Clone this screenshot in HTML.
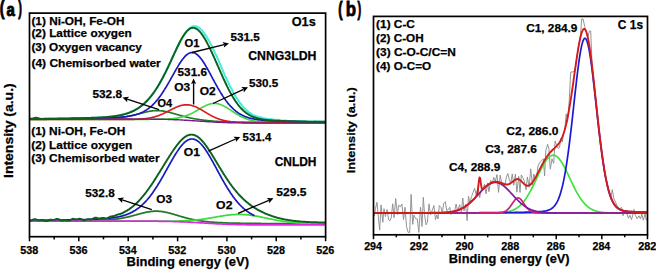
<!DOCTYPE html>
<html><head><meta charset="utf-8"><style>
html,body{margin:0;padding:0;background:#fff;}
svg{display:block;}
text{font-family:"Liberation Sans", sans-serif;font-weight:bold;fill:#000;stroke:#000;stroke-width:0.25px;}
</style></head><body>
<svg width="656" height="270" viewBox="0 0 656 270">
<rect width="656" height="270" fill="#fff"/>
<path d="M29.5,118.8 30.0,118.8 30.5,118.8 31.0,118.8 31.5,118.8 32.0,118.8 32.5,118.8 33.0,118.8 33.5,118.8 34.0,118.8 34.5,118.8 35.0,118.8 35.5,118.8 36.0,118.8 36.5,118.8 37.0,118.8 37.5,118.8 38.0,118.8 38.5,118.8 39.0,118.8 39.5,118.7 40.0,118.7 40.5,118.7 41.0,118.7 41.5,118.7 42.0,118.7 42.5,118.7 43.0,118.7 43.5,118.7 44.0,118.7 44.5,118.7 45.0,118.7 45.5,118.7 46.0,118.7 46.5,118.7 47.0,118.7 47.5,118.7 48.0,118.7 48.5,118.7 49.0,118.7 49.5,118.6 50.0,118.6 50.5,118.6 51.0,118.6 51.5,118.6 52.0,118.6 52.5,118.6 53.0,118.6 53.5,118.6 54.0,118.6 54.5,118.6 55.0,118.6 55.5,118.6 56.0,118.6 56.5,118.6 57.0,118.6 57.5,118.6 58.0,118.5 58.5,118.5 59.0,118.5 59.5,118.5 60.0,118.5 60.5,118.5 61.0,118.5 61.5,118.5 62.0,118.5 62.5,118.5 63.0,118.5 63.5,118.5 64.0,118.5 64.5,118.5 65.0,118.5 65.5,118.4 66.0,118.4 66.5,118.4 67.0,118.4 67.5,118.4 68.0,118.4 68.5,118.4 69.0,118.4 69.5,118.4 70.0,118.4 70.5,118.4 71.0,118.4 71.5,118.3 72.0,118.3 72.5,118.3 73.0,118.3 73.5,118.3 74.0,118.3 74.5,118.3 75.0,118.3 75.5,118.3 76.0,118.3 76.5,118.2 77.0,118.2 77.5,118.2 78.0,118.2 78.5,118.2 79.0,118.2 79.5,118.2 80.0,118.2 80.5,118.2 81.0,118.1 81.5,118.1 82.0,118.1 82.5,118.1 83.0,118.1 83.5,118.1 84.0,118.1 84.5,118.1 85.0,118.0 85.5,118.0 86.0,118.0 86.5,118.0 87.0,118.0 87.5,118.0 88.0,118.0 88.5,117.9 89.0,117.9 89.5,117.9 90.0,117.9 90.5,117.9 91.0,117.9 91.5,117.8 92.0,117.8 92.5,117.8 93.0,117.8 93.5,117.8 94.0,117.7 94.5,117.7 95.0,117.7 95.5,117.7 96.0,117.7 96.5,117.6 97.0,117.6 97.5,117.6 98.0,117.6 98.5,117.5 99.0,117.5 99.5,117.5 100.0,117.5 100.5,117.4 101.0,117.4 101.5,117.4 102.0,117.4 102.5,117.3 103.0,117.3 103.5,117.3 104.0,117.2 104.5,117.2 105.0,117.2 105.5,117.1 106.0,117.1 106.5,117.0 107.0,117.0 107.5,117.0 108.0,116.9 108.5,116.9 109.0,116.8 109.5,116.8 110.0,116.7 110.5,116.7 111.0,116.6 111.5,116.6 112.0,116.5 112.5,116.5 113.0,116.4 113.5,116.3 114.0,116.3 114.5,116.2 115.0,116.1 115.5,116.1 116.0,116.0 116.5,115.9 117.0,115.8 117.5,115.7 118.0,115.6 118.5,115.6 119.0,115.5 119.5,115.4 120.0,115.3 120.5,115.2 121.0,115.1 121.5,114.9 122.0,114.8 122.5,114.7 123.0,114.6 123.5,114.5 124.0,114.3 124.5,114.2 125.0,114.1 125.5,113.9 126.0,113.8 126.5,113.6 127.0,113.4 127.5,113.3 128.0,113.1 128.5,112.9 129.0,112.8 129.5,112.6 130.0,112.4 130.5,112.2 131.0,112.0 131.5,111.7 132.0,111.5 132.5,111.3 133.0,111.1 133.5,110.8 134.0,110.6 134.5,110.3 135.0,110.0 135.5,109.8 136.0,109.5 136.5,109.2 137.0,108.9 137.5,108.6 138.0,108.3 138.5,108.0 139.0,107.6 139.5,107.3 140.0,106.9 140.5,106.5 141.0,106.2 141.5,105.8 142.0,105.4 142.5,105.0 143.0,104.6 143.5,104.1 144.0,103.7 144.5,103.2 145.0,102.8 145.5,102.3 146.0,101.8 146.5,101.3 147.0,100.8 147.5,100.2 148.0,99.7 148.5,99.1 149.0,98.6 149.5,98.0 150.0,97.4 150.5,96.8 151.0,96.2 151.5,95.5 152.0,94.9 152.5,94.2 153.0,93.6 153.5,92.9 154.0,92.2 154.5,91.5 155.0,90.7 155.5,90.0 156.0,89.2 156.5,88.5 157.0,87.7 157.5,86.9 158.0,86.1 158.5,85.3 159.0,84.4 159.5,83.6 160.0,82.7 160.5,81.8 161.0,80.9 161.5,80.0 162.0,79.1 162.5,78.2 163.0,77.3 163.5,76.3 164.0,75.3 164.5,74.4 165.0,73.4 165.5,72.4 166.0,71.4 166.5,70.3 167.0,69.3 167.5,68.3 168.0,67.2 168.5,66.2 169.0,65.1 169.5,64.0 170.0,62.9 170.5,61.9 171.0,60.8 171.5,59.7 172.0,58.6 172.5,57.5 173.0,56.4 173.5,55.3 174.0,54.2 174.5,53.1 175.0,52.0 175.5,51.0 176.0,49.9 176.5,48.8 177.0,47.8 177.5,46.8 178.0,45.7 178.5,44.7 179.0,43.7 179.5,42.7 180.0,41.8 180.5,40.8 181.0,39.9 181.5,39.0 182.0,38.1 182.5,37.3 183.0,36.4 183.5,35.6 184.0,34.9 184.5,34.1 185.0,33.4 185.5,32.7 186.0,32.0 186.5,31.4 187.0,30.8 187.5,30.2 188.0,29.7 188.5,29.2 189.0,28.7 189.5,28.3 190.0,27.9 190.5,27.6 191.0,27.2 191.5,27.0 192.0,26.8 192.5,26.5 193.0,26.4 193.5,26.3 194.0,26.3 194.5,26.2 195.0,26.2 195.5,26.2 196.0,26.5 196.5,26.7 197.0,26.7 197.5,26.9 198.0,27.2 198.5,27.4 199.0,27.8 199.5,28.0 200.0,28.6 200.5,29.3 201.0,29.4 201.5,30.1 202.0,30.3 202.5,31.2 203.0,31.8 203.5,32.4 204.0,32.9 204.5,33.6 205.0,34.4 205.5,35.3 206.0,35.5 206.5,36.3 207.0,37.6 207.5,38.5 208.0,39.1 208.5,39.9 209.0,41.0 209.5,41.5 210.0,42.5 210.5,43.4 211.0,44.7 211.5,45.4 212.0,46.4 212.5,47.8 213.0,49.0 213.5,49.5 214.0,50.9 214.5,51.7 215.0,53.2 215.5,54.0 216.0,54.9 216.5,56.0 217.0,56.9 217.5,58.4 218.0,59.4 218.5,60.4 219.0,61.7 219.5,62.8 220.0,64.3 220.5,64.9 221.0,66.8 221.5,67.5 222.0,68.7 222.5,69.8 223.0,71.2 223.5,72.3 224.0,73.2 224.5,74.3 225.0,75.6 225.5,76.8 226.0,77.6 226.5,78.9 227.0,80.2 227.5,80.9 228.0,81.7 228.5,82.8 229.0,84.2 229.5,85.2 230.0,86.5 230.5,87.4 231.0,87.9 231.5,88.8 232.0,89.8 232.5,90.7 233.0,92.0 233.5,93.1 234.0,94.0 234.5,94.4 235.0,95.7 235.5,96.1 236.0,97.0 236.5,98.1 237.0,98.4 237.5,99.1 238.0,100.5 238.5,100.8 239.0,101.5 239.5,102.4 240.0,103.2 240.5,103.3 241.0,104.2 241.5,104.9 242.0,105.6 242.5,105.9 243.0,106.8 243.5,107.6 244.0,107.7 244.5,108.4 245.0,108.5 245.5,109.1 246.0,109.9 246.5,109.9 247.0,111.0 247.5,111.4 248.0,111.2 248.5,112.2 249.0,112.2 249.5,112.8 250.0,113.2 250.5,113.1 251.0,113.7 251.5,114.0 252.0,114.4 252.5,114.3 253.0,115.0 253.5,115.4 254.0,115.4 254.5,115.5 255.0,115.4 255.5,115.9 256.0,116.0 256.5,116.5 257.0,116.7 257.5,116.8 258.0,116.6 258.5,117.1 259.0,117.3 259.5,117.1 260.0,117.8 260.5,117.7 261.0,117.4 261.5,118.2 262.0,117.7 262.5,118.0 263.0,118.4 263.5,118.4 264.0,118.4 264.5,118.6 265.0,118.5 265.5,118.5 266.0,118.5 266.5,118.5 267.0,119.1 267.5,119.2 268.0,119.1 268.5,119.3 269.0,119.1 269.5,119.1 270.0,119.2 270.5,119.7 271.0,119.1 271.5,119.5 272.0,119.3 272.5,119.8 273.0,119.5 273.5,119.6 274.0,119.7 274.5,119.9 275.0,120.1 275.5,119.8 276.0,120.3 276.5,119.7 277.0,119.9 277.5,119.8 278.0,119.9 278.5,120.5 279.0,120.5 279.5,120.1 280.0,120.2 280.5,120.4 281.0,120.7 281.5,120.8 282.0,120.8 282.5,120.7 283.0,120.4 283.5,120.6 284.0,120.5 284.5,120.8 285.0,120.9 285.5,120.6 286.0,120.7 286.5,121.1 287.0,120.6 287.5,121.2 288.0,121.3 288.5,121.4 289.0,120.9 289.5,121.1 290.0,121.1 290.5,121.2 291.0,121.5 291.5,121.3 292.0,121.0 292.5,121.4 293.0,121.2 293.5,121.3 294.0,121.4 294.5,120.8 295.0,121.5 295.5,121.4 296.0,121.3 296.5,121.3 297.0,121.3 297.5,121.1 298.0,121.3 298.5,121.0 299.0,121.3 299.5,121.5 300.0,121.3 300.5,121.4 301.0,121.8 301.5,121.7 302.0,121.1 302.5,121.7 303.0,121.5 303.5,121.1 304.0,121.3 304.5,121.3 305.0,121.1 305.5,121.5 306.0,121.8 306.5,121.4 307.0,121.8 307.5,121.7 308.0,121.2 308.5,121.8 309.0,121.6 309.5,121.9 310.0,121.7 310.5,121.8 311.0,121.5 311.5,121.8 312.0,121.9 312.5,121.9 313.0,121.6 313.5,121.8 314.0,121.6 314.5,121.3 315.0,121.3 315.5,121.3 316.0,121.4 316.5,121.4 317.0,121.7 317.5,121.8 318.0,121.7 318.5,121.6 319.0,121.8 319.5,121.6 320.0,121.7 320.5,121.9 321.0,121.7 321.5,121.5 322.0,122.1 322.5,121.9 323.0,121.7 323.5,121.7 324.0,121.8 324.5,121.9 325.0,121.6 325.5,121.4" fill="none" stroke="#45ecdc" stroke-width="2.0" stroke-linejoin="round"/>
<path d="M29.5,119.3 30.0,119.3 30.5,119.3 31.0,119.3 31.5,119.3 32.0,119.3 32.5,119.3 33.0,119.3 33.5,119.3 34.0,119.3 34.5,119.3 35.0,119.3 35.5,119.3 36.0,119.3 36.5,119.3 37.0,119.3 37.5,119.3 38.0,119.3 38.5,119.3 39.0,119.3 39.5,119.3 40.0,119.3 40.5,119.3 41.0,119.3 41.5,119.3 42.0,119.3 42.5,119.3 43.0,119.3 43.5,119.3 44.0,119.3 44.5,119.3 45.0,119.3 45.5,119.3 46.0,119.3 46.5,119.3 47.0,119.3 47.5,119.2 48.0,119.2 48.5,119.2 49.0,119.2 49.5,119.2 50.0,119.2 50.5,119.2 51.0,119.2 51.5,119.2 52.0,119.2 52.5,119.2 53.0,119.2 53.5,119.2 54.0,119.2 54.5,119.2 55.0,119.2 55.5,119.2 56.0,119.2 56.5,119.2 57.0,119.2 57.5,119.2 58.0,119.2 58.5,119.2 59.0,119.2 59.5,119.2 60.0,119.2 60.5,119.2 61.0,119.2 61.5,119.2 62.0,119.2 62.5,119.2 63.0,119.2 63.5,119.2 64.0,119.2 64.5,119.2 65.0,119.2 65.5,119.2 66.0,119.2 66.5,119.2 67.0,119.2 67.5,119.2 68.0,119.2 68.5,119.2 69.0,119.2 69.5,119.2 70.0,119.2 70.5,119.2 71.0,119.2 71.5,119.2 72.0,119.2 72.5,119.2 73.0,119.2 73.5,119.1 74.0,119.1 74.5,119.1 75.0,119.1 75.5,119.1 76.0,119.1 76.5,119.1 77.0,119.1 77.5,119.1 78.0,119.1 78.5,119.1 79.0,119.1 79.5,119.1 80.0,119.1 80.5,119.1 81.0,119.1 81.5,119.1 82.0,119.1 82.5,119.1 83.0,119.1 83.5,119.1 84.0,119.1 84.5,119.1 85.0,119.1 85.5,119.1 86.0,119.1 86.5,119.1 87.0,119.0 87.5,119.0 88.0,119.0 88.5,119.0 89.0,119.0 89.5,119.0 90.0,119.0 90.5,119.0 91.0,119.0 91.5,119.0 92.0,119.0 92.5,119.0 93.0,119.0 93.5,119.0 94.0,119.0 94.5,118.9 95.0,118.9 95.5,118.9 96.0,118.9 96.5,118.9 97.0,118.9 97.5,118.9 98.0,118.9 98.5,118.9 99.0,118.9 99.5,118.8 100.0,118.8 100.5,118.8 101.0,118.8 101.5,118.8 102.0,118.8 102.5,118.8 103.0,118.7 103.5,118.7 104.0,118.7 104.5,118.7 105.0,118.7 105.5,118.7 106.0,118.6 106.5,118.6 107.0,118.6 107.5,118.6 108.0,118.5 108.5,118.5 109.0,118.5 109.5,118.5 110.0,118.4 110.5,118.4 111.0,118.4 111.5,118.3 112.0,118.3 112.5,118.3 113.0,118.2 113.5,118.2 114.0,118.2 114.5,118.1 115.0,118.1 115.5,118.0 116.0,118.0 116.5,117.9 117.0,117.9 117.5,117.8 118.0,117.8 118.5,117.7 119.0,117.7 119.5,117.6 120.0,117.6 120.5,117.5 121.0,117.4 121.5,117.4 122.0,117.3 122.5,117.2 123.0,117.2 123.5,117.1 124.0,117.0 124.5,116.9 125.0,116.9 125.5,116.8 126.0,116.7 126.5,116.6 127.0,116.5 127.5,116.4 128.0,116.3 128.5,116.2 129.0,116.1 129.5,116.0 130.0,115.9 130.5,115.8 131.0,115.7 131.5,115.6 132.0,115.5 132.5,115.4 133.0,115.3 133.5,115.2 134.0,115.0 134.5,114.9 135.0,114.8 135.5,114.7 136.0,114.6 136.5,114.4 137.0,114.3 137.5,114.2 138.0,114.1 138.5,113.9 139.0,113.8 139.5,113.7 140.0,113.6 140.5,113.4 141.0,113.3 141.5,113.2 142.0,113.0 142.5,112.9 143.0,112.8 143.5,112.7 144.0,112.5 144.5,112.4 145.0,112.3 145.5,112.2 146.0,112.1 146.5,111.9 147.0,111.8 147.5,111.7 148.0,111.6 148.5,111.5 149.0,111.4 149.5,111.3 150.0,111.2 150.5,111.1 151.0,111.1 151.5,111.0 152.0,110.9 152.5,110.9 153.0,110.8 153.5,110.7 154.0,110.7 154.5,110.7 155.0,110.6 155.5,110.6 156.0,110.6 156.5,110.6 157.0,110.6 157.5,110.6 158.0,110.6 158.5,110.6 159.0,110.6 159.5,110.6 160.0,110.7 160.5,110.7 161.0,110.8 161.5,110.8 162.0,110.9 162.5,110.9 163.0,111.0 163.5,111.1 164.0,111.2 164.5,111.3 165.0,111.4 165.5,111.5 166.0,111.6 166.5,111.7 167.0,111.8 167.5,111.9 168.0,112.0 168.5,112.1 169.0,112.3 169.5,112.4 170.0,112.5 170.5,112.7 171.0,112.8 171.5,112.9 172.0,113.1 172.5,113.2 173.0,113.4 173.5,113.5 174.0,113.6 174.5,113.8 175.0,113.9 175.5,114.1 176.0,114.2 176.5,114.4 177.0,114.5 177.5,114.7 178.0,114.8 178.5,114.9 179.0,115.1 179.5,115.2 180.0,115.4 180.5,115.5 181.0,115.6 181.5,115.8 182.0,115.9 182.5,116.0 183.0,116.2 183.5,116.3 184.0,116.4 184.5,116.6 185.0,116.7 185.5,116.8 186.0,117.0 186.5,117.1 187.0,117.2 187.5,117.3 188.0,117.4 188.5,117.5 189.0,117.7 189.5,117.8 190.0,117.9 190.5,118.0 191.0,118.1 191.5,118.2 192.0,118.3 192.5,118.4 193.0,118.5 193.5,118.6 194.0,118.7 194.5,118.8 195.0,118.9 195.5,119.0 196.0,119.0 196.5,119.1 197.0,119.2 197.5,119.3 198.0,119.4 198.5,119.4 199.0,119.5 199.5,119.6 200.0,119.7 200.5,119.7 201.0,119.8 201.5,119.9 202.0,119.9 202.5,120.0 203.0,120.1 203.5,120.1 204.0,120.2 204.5,120.3 205.0,120.3 205.5,120.4 206.0,120.4 206.5,120.5 207.0,120.5 207.5,120.6 208.0,120.6 208.5,120.7 209.0,120.7 209.5,120.8 210.0,120.8 210.5,120.9 211.0,120.9 211.5,121.0 212.0,121.0 212.5,121.0 213.0,121.1 213.5,121.1 214.0,121.2 214.5,121.2 215.0,121.2 215.5,121.3 216.0,121.3 216.5,121.3 217.0,121.4 217.5,121.4 218.0,121.4 218.5,121.5 219.0,121.5 219.5,121.5 220.0,121.6 220.5,121.6 221.0,121.6 221.5,121.6 222.0,121.7 222.5,121.7 223.0,121.7 223.5,121.7 224.0,121.8 224.5,121.8 225.0,121.8 225.5,121.8 226.0,121.8 226.5,121.9 227.0,121.9 227.5,121.9 228.0,121.9 228.5,121.9 229.0,122.0 229.5,122.0 230.0,122.0 230.5,122.0 231.0,122.0 231.5,122.0 232.0,122.0 232.5,122.1 233.0,122.1 233.5,122.1 234.0,122.1 234.5,122.1 235.0,122.1 235.5,122.1 236.0,122.2 236.5,122.2 237.0,122.2 237.5,122.2 238.0,122.2 238.5,122.2 239.0,122.2 239.5,122.2 240.0,122.2 240.5,122.2 241.0,122.2 241.5,122.3 242.0,122.3 242.5,122.3 243.0,122.3 243.5,122.3 244.0,122.3 244.5,122.3 245.0,122.3 245.5,122.3 246.0,122.3 246.5,122.3 247.0,122.3 247.5,122.3 248.0,122.3 248.5,122.3 249.0,122.3 249.5,122.3 250.0,122.4 250.5,122.4 251.0,122.4 251.5,122.4 252.0,122.4 252.5,122.4 253.0,122.4 253.5,122.4 254.0,122.4 254.5,122.4 255.0,122.4 255.5,122.4 256.0,122.4 256.5,122.4 257.0,122.4 257.5,122.4 258.0,122.4 258.5,122.4 259.0,122.4 259.5,122.4 260.0,122.4 260.5,122.4 261.0,122.4 261.5,122.4 262.0,122.4 262.5,122.4 263.0,122.4 263.5,122.4 264.0,122.4 264.5,122.4 265.0,122.4 265.5,122.4 266.0,122.4 266.5,122.4 267.0,122.4 267.5,122.4 268.0,122.4 268.5,122.4 269.0,122.5 269.5,122.5 270.0,122.5 270.5,122.5 271.0,122.5 271.5,122.5 272.0,122.5 272.5,122.5 273.0,122.5 273.5,122.5 274.0,122.5 274.5,122.5 275.0,122.5 275.5,122.5 276.0,122.5 276.5,122.5 277.0,122.5 277.5,122.5 278.0,122.5 278.5,122.5 279.0,122.5 279.5,122.5 280.0,122.5 280.5,122.5 281.0,122.5 281.5,122.5 282.0,122.5 282.5,122.5 283.0,122.5 283.5,122.5 284.0,122.5 284.5,122.5 285.0,122.5 285.5,122.5 286.0,122.5 286.5,122.5 287.0,122.5 287.5,122.5 288.0,122.5 288.5,122.5 289.0,122.5 289.5,122.5 290.0,122.5 290.5,122.5 291.0,122.5 291.5,122.5 292.0,122.5 292.5,122.5 293.0,122.5 293.5,122.5 294.0,122.5 294.5,122.5 295.0,122.5 295.5,122.5 296.0,122.5 296.5,122.5 297.0,122.5 297.5,122.5 298.0,122.5 298.5,122.5 299.0,122.5 299.5,122.5 300.0,122.5 300.5,122.5 301.0,122.5 301.5,122.5 302.0,122.5 302.5,122.5 303.0,122.5 303.5,122.5 304.0,122.5 304.5,122.5 305.0,122.5 305.5,122.5 306.0,122.5 306.5,122.5 307.0,122.5 307.5,122.5 308.0,122.5 308.5,122.5 309.0,122.5 309.5,122.5 310.0,122.5 310.5,122.5 311.0,122.5 311.5,122.5 312.0,122.5 312.5,122.5 313.0,122.5 313.5,122.5 314.0,122.5 314.5,122.5 315.0,122.5 315.5,122.5 316.0,122.5 316.5,122.5 317.0,122.5 317.5,122.5 318.0,122.5 318.5,122.5 319.0,122.5 319.5,122.5 320.0,122.5 320.5,122.5 321.0,122.5 321.5,122.5 322.0,122.5 322.5,122.5 323.0,122.5 323.5,122.5 324.0,122.5 324.5,122.5 325.0,122.5 325.5,122.5" fill="none" stroke="#1f7a25" stroke-width="1.65" stroke-linejoin="round"/>
<path d="M29.5,119.4 30.0,119.4 30.5,119.4 31.0,119.4 31.5,119.4 32.0,119.4 32.5,119.4 33.0,119.4 33.5,119.4 34.0,119.4 34.5,119.4 35.0,119.4 35.5,119.4 36.0,119.4 36.5,119.4 37.0,119.4 37.5,119.4 38.0,119.4 38.5,119.4 39.0,119.4 39.5,119.4 40.0,119.4 40.5,119.4 41.0,119.4 41.5,119.4 42.0,119.4 42.5,119.4 43.0,119.4 43.5,119.4 44.0,119.4 44.5,119.4 45.0,119.4 45.5,119.4 46.0,119.4 46.5,119.4 47.0,119.4 47.5,119.4 48.0,119.4 48.5,119.4 49.0,119.4 49.5,119.4 50.0,119.4 50.5,119.4 51.0,119.4 51.5,119.4 52.0,119.4 52.5,119.4 53.0,119.4 53.5,119.4 54.0,119.4 54.5,119.4 55.0,119.4 55.5,119.4 56.0,119.4 56.5,119.4 57.0,119.4 57.5,119.4 58.0,119.4 58.5,119.4 59.0,119.4 59.5,119.4 60.0,119.4 60.5,119.4 61.0,119.4 61.5,119.4 62.0,119.4 62.5,119.4 63.0,119.4 63.5,119.4 64.0,119.4 64.5,119.4 65.0,119.4 65.5,119.4 66.0,119.4 66.5,119.4 67.0,119.4 67.5,119.4 68.0,119.4 68.5,119.4 69.0,119.4 69.5,119.4 70.0,119.4 70.5,119.4 71.0,119.4 71.5,119.4 72.0,119.4 72.5,119.4 73.0,119.4 73.5,119.4 74.0,119.4 74.5,119.4 75.0,119.4 75.5,119.4 76.0,119.4 76.5,119.4 77.0,119.4 77.5,119.4 78.0,119.4 78.5,119.4 79.0,119.4 79.5,119.4 80.0,119.4 80.5,119.4 81.0,119.4 81.5,119.4 82.0,119.4 82.5,119.4 83.0,119.4 83.5,119.4 84.0,119.4 84.5,119.4 85.0,119.4 85.5,119.4 86.0,119.4 86.5,119.4 87.0,119.4 87.5,119.4 88.0,119.4 88.5,119.4 89.0,119.3 89.5,119.3 90.0,119.3 90.5,119.3 91.0,119.3 91.5,119.3 92.0,119.3 92.5,119.3 93.0,119.3 93.5,119.3 94.0,119.3 94.5,119.3 95.0,119.3 95.5,119.3 96.0,119.3 96.5,119.3 97.0,119.3 97.5,119.3 98.0,119.3 98.5,119.3 99.0,119.3 99.5,119.3 100.0,119.3 100.5,119.3 101.0,119.3 101.5,119.3 102.0,119.3 102.5,119.3 103.0,119.3 103.5,119.3 104.0,119.3 104.5,119.3 105.0,119.3 105.5,119.3 106.0,119.3 106.5,119.3 107.0,119.3 107.5,119.3 108.0,119.3 108.5,119.3 109.0,119.3 109.5,119.3 110.0,119.3 110.5,119.3 111.0,119.3 111.5,119.3 112.0,119.3 112.5,119.3 113.0,119.3 113.5,119.3 114.0,119.3 114.5,119.3 115.0,119.3 115.5,119.3 116.0,119.3 116.5,119.3 117.0,119.3 117.5,119.3 118.0,119.3 118.5,119.3 119.0,119.3 119.5,119.3 120.0,119.3 120.5,119.3 121.0,119.3 121.5,119.3 122.0,119.3 122.5,119.3 123.0,119.3 123.5,119.3 124.0,119.3 124.5,119.3 125.0,119.3 125.5,119.3 126.0,119.3 126.5,119.3 127.0,119.3 127.5,119.3 128.0,119.3 128.5,119.3 129.0,119.3 129.5,119.3 130.0,119.3 130.5,119.3 131.0,119.3 131.5,119.3 132.0,119.3 132.5,119.3 133.0,119.3 133.5,119.3 134.0,119.3 134.5,119.3 135.0,119.3 135.5,119.3 136.0,119.3 136.5,119.3 137.0,119.3 137.5,119.3 138.0,119.3 138.5,119.3 139.0,119.3 139.5,119.3 140.0,119.3 140.5,119.3 141.0,119.3 141.5,119.3 142.0,119.3 142.5,119.3 143.0,119.3 143.5,119.3 144.0,119.3 144.5,119.3 145.0,119.3 145.5,119.3 146.0,119.3 146.5,119.3 147.0,119.3 147.5,119.3 148.0,119.3 148.5,119.3 149.0,119.3 149.5,119.3 150.0,119.2 150.5,119.2 151.0,119.2 151.5,119.2 152.0,119.2 152.5,119.2 153.0,119.2 153.5,119.2 154.0,119.2 154.5,119.2 155.0,119.2 155.5,119.2 156.0,119.2 156.5,119.2 157.0,119.2 157.5,119.2 158.0,119.2 158.5,119.2 159.0,119.2 159.5,119.2 160.0,119.2 160.5,119.2 161.0,119.2 161.5,119.2 162.0,119.2 162.5,119.1 163.0,119.1 163.5,119.1 164.0,119.1 164.5,119.1 165.0,119.1 165.5,119.1 166.0,119.0 166.5,119.0 167.0,119.0 167.5,119.0 168.0,119.0 168.5,118.9 169.0,118.9 169.5,118.9 170.0,118.8 170.5,118.8 171.0,118.8 171.5,118.7 172.0,118.7 172.5,118.7 173.0,118.6 173.5,118.6 174.0,118.5 174.5,118.4 175.0,118.4 175.5,118.3 176.0,118.2 176.5,118.2 177.0,118.1 177.5,118.0 178.0,117.9 178.5,117.8 179.0,117.7 179.5,117.6 180.0,117.5 180.5,117.4 181.0,117.3 181.5,117.2 182.0,117.0 182.5,116.9 183.0,116.8 183.5,116.6 184.0,116.5 184.5,116.3 185.0,116.1 185.5,116.0 186.0,115.8 186.5,115.6 187.0,115.4 187.5,115.2 188.0,115.0 188.5,114.8 189.0,114.6 189.5,114.4 190.0,114.1 190.5,113.9 191.0,113.7 191.5,113.4 192.0,113.2 192.5,112.9 193.0,112.7 193.5,112.4 194.0,112.1 194.5,111.9 195.0,111.6 195.5,111.3 196.0,111.0 196.5,110.7 197.0,110.4 197.5,110.2 198.0,109.9 198.5,109.6 199.0,109.3 199.5,109.0 200.0,108.7 200.5,108.4 201.0,108.1 201.5,107.8 202.0,107.6 202.5,107.3 203.0,107.0 203.5,106.8 204.0,106.5 204.5,106.2 205.0,106.0 205.5,105.8 206.0,105.5 206.5,105.3 207.0,105.1 207.5,104.9 208.0,104.7 208.5,104.5 209.0,104.3 209.5,104.2 210.0,104.0 210.5,103.9 211.0,103.8 211.5,103.7 212.0,103.6 212.5,103.5 213.0,103.5 213.5,103.4 214.0,103.4 214.5,103.4 215.0,103.4 215.5,103.4 216.0,103.5 216.5,103.5 217.0,103.6 217.5,103.7 218.0,103.8 218.5,103.9 219.0,104.1 219.5,104.2 220.0,104.4 220.5,104.5 221.0,104.7 221.5,104.9 222.0,105.2 222.5,105.4 223.0,105.6 223.5,105.9 224.0,106.1 224.5,106.4 225.0,106.7 225.5,107.0 226.0,107.2 226.5,107.5 227.0,107.8 227.5,108.2 228.0,108.5 228.5,108.8 229.0,109.1 229.5,109.4 230.0,109.8 230.5,110.1 231.0,110.4 231.5,110.7 232.0,111.1 232.5,111.4 233.0,111.7 233.5,112.1 234.0,112.4 234.5,112.7 235.0,113.0 235.5,113.3 236.0,113.7 236.5,114.0 237.0,114.3 237.5,114.6 238.0,114.9 238.5,115.1 239.0,115.4 239.5,115.7 240.0,116.0 240.5,116.2 241.0,116.5 241.5,116.8 242.0,117.0 242.5,117.2 243.0,117.5 243.5,117.7 244.0,117.9 244.5,118.1 245.0,118.3 245.5,118.5 246.0,118.7 246.5,118.9 247.0,119.1 247.5,119.2 248.0,119.4 248.5,119.6 249.0,119.7 249.5,119.9 250.0,120.0 250.5,120.1 251.0,120.3 251.5,120.4 252.0,120.5 252.5,120.6 253.0,120.7 253.5,120.8 254.0,120.9 254.5,121.0 255.0,121.1 255.5,121.2 256.0,121.2 256.5,121.3 257.0,121.4 257.5,121.4 258.0,121.5 258.5,121.6 259.0,121.6 259.5,121.7 260.0,121.7 260.5,121.8 261.0,121.8 261.5,121.9 262.0,121.9 262.5,121.9 263.0,122.0 263.5,122.0 264.0,122.0 264.5,122.1 265.0,122.1 265.5,122.1 266.0,122.1 266.5,122.1 267.0,122.2 267.5,122.2 268.0,122.2 268.5,122.2 269.0,122.2 269.5,122.2 270.0,122.3 270.5,122.3 271.0,122.3 271.5,122.3 272.0,122.3 272.5,122.3 273.0,122.3 273.5,122.3 274.0,122.3 274.5,122.4 275.0,122.4 275.5,122.4 276.0,122.4 276.5,122.4 277.0,122.4 277.5,122.4 278.0,122.4 278.5,122.4 279.0,122.4 279.5,122.4 280.0,122.4 280.5,122.4 281.0,122.4 281.5,122.4 282.0,122.4 282.5,122.4 283.0,122.4 283.5,122.4 284.0,122.4 284.5,122.4 285.0,122.4 285.5,122.4 286.0,122.4 286.5,122.4 287.0,122.5 287.5,122.5 288.0,122.5 288.5,122.5 289.0,122.5 289.5,122.5 290.0,122.5 290.5,122.5 291.0,122.5 291.5,122.5 292.0,122.5 292.5,122.5 293.0,122.5 293.5,122.5 294.0,122.5 294.5,122.5 295.0,122.5 295.5,122.5 296.0,122.5 296.5,122.5 297.0,122.5 297.5,122.5 298.0,122.5 298.5,122.5 299.0,122.5 299.5,122.5 300.0,122.5 300.5,122.5 301.0,122.5 301.5,122.5 302.0,122.5 302.5,122.5 303.0,122.5 303.5,122.5 304.0,122.5 304.5,122.5 305.0,122.5 305.5,122.5 306.0,122.5 306.5,122.5 307.0,122.5 307.5,122.5 308.0,122.5 308.5,122.5 309.0,122.5 309.5,122.5 310.0,122.5 310.5,122.5 311.0,122.5 311.5,122.5 312.0,122.5 312.5,122.5 313.0,122.5 313.5,122.5 314.0,122.5 314.5,122.5 315.0,122.5 315.5,122.5 316.0,122.5 316.5,122.5 317.0,122.5 317.5,122.5 318.0,122.5 318.5,122.5 319.0,122.5 319.5,122.5 320.0,122.5 320.5,122.5 321.0,122.5 321.5,122.5 322.0,122.5 322.5,122.5 323.0,122.5 323.5,122.5 324.0,122.5 324.5,122.5 325.0,122.5 325.5,122.5" fill="none" stroke="#3ddc3d" stroke-width="1.65" stroke-linejoin="round"/>
<path d="M29.5,119.4 30.0,119.4 30.5,119.4 31.0,119.4 31.5,119.4 32.0,119.4 32.5,119.4 33.0,119.4 33.5,119.4 34.0,119.4 34.5,119.4 35.0,119.4 35.5,119.4 36.0,119.4 36.5,119.4 37.0,119.4 37.5,119.4 38.0,119.4 38.5,119.4 39.0,119.4 39.5,119.4 40.0,119.4 40.5,119.4 41.0,119.4 41.5,119.4 42.0,119.4 42.5,119.4 43.0,119.4 43.5,119.4 44.0,119.4 44.5,119.4 45.0,119.4 45.5,119.4 46.0,119.4 46.5,119.4 47.0,119.4 47.5,119.4 48.0,119.4 48.5,119.4 49.0,119.4 49.5,119.4 50.0,119.4 50.5,119.4 51.0,119.4 51.5,119.4 52.0,119.4 52.5,119.4 53.0,119.4 53.5,119.4 54.0,119.4 54.5,119.4 55.0,119.4 55.5,119.4 56.0,119.4 56.5,119.4 57.0,119.4 57.5,119.4 58.0,119.4 58.5,119.4 59.0,119.4 59.5,119.4 60.0,119.4 60.5,119.4 61.0,119.4 61.5,119.4 62.0,119.4 62.5,119.4 63.0,119.4 63.5,119.4 64.0,119.4 64.5,119.4 65.0,119.4 65.5,119.4 66.0,119.4 66.5,119.4 67.0,119.4 67.5,119.4 68.0,119.4 68.5,119.4 69.0,119.4 69.5,119.4 70.0,119.4 70.5,119.4 71.0,119.4 71.5,119.4 72.0,119.4 72.5,119.4 73.0,119.4 73.5,119.4 74.0,119.4 74.5,119.4 75.0,119.4 75.5,119.4 76.0,119.4 76.5,119.4 77.0,119.4 77.5,119.4 78.0,119.4 78.5,119.4 79.0,119.4 79.5,119.4 80.0,119.4 80.5,119.4 81.0,119.4 81.5,119.4 82.0,119.4 82.5,119.4 83.0,119.4 83.5,119.4 84.0,119.4 84.5,119.4 85.0,119.4 85.5,119.4 86.0,119.4 86.5,119.4 87.0,119.4 87.5,119.4 88.0,119.4 88.5,119.4 89.0,119.4 89.5,119.4 90.0,119.4 90.5,119.4 91.0,119.4 91.5,119.4 92.0,119.4 92.5,119.4 93.0,119.4 93.5,119.4 94.0,119.4 94.5,119.4 95.0,119.4 95.5,119.4 96.0,119.4 96.5,119.4 97.0,119.4 97.5,119.4 98.0,119.4 98.5,119.4 99.0,119.4 99.5,119.4 100.0,119.4 100.5,119.4 101.0,119.4 101.5,119.4 102.0,119.4 102.5,119.4 103.0,119.4 103.5,119.4 104.0,119.4 104.5,119.4 105.0,119.4 105.5,119.4 106.0,119.4 106.5,119.4 107.0,119.4 107.5,119.4 108.0,119.4 108.5,119.4 109.0,119.4 109.5,119.4 110.0,119.4 110.5,119.4 111.0,119.4 111.5,119.4 112.0,119.4 112.5,119.4 113.0,119.4 113.5,119.4 114.0,119.4 114.5,119.4 115.0,119.4 115.5,119.4 116.0,119.4 116.5,119.4 117.0,119.4 117.5,119.4 118.0,119.4 118.5,119.4 119.0,119.4 119.5,119.4 120.0,119.4 120.5,119.4 121.0,119.4 121.5,119.4 122.0,119.4 122.5,119.4 123.0,119.4 123.5,119.4 124.0,119.4 124.5,119.4 125.0,119.4 125.5,119.4 126.0,119.4 126.5,119.4 127.0,119.4 127.5,119.4 128.0,119.4 128.5,119.4 129.0,119.3 129.5,119.3 130.0,119.3 130.5,119.3 131.0,119.3 131.5,119.3 132.0,119.3 132.5,119.3 133.0,119.3 133.5,119.3 134.0,119.3 134.5,119.3 135.0,119.2 135.5,119.2 136.0,119.2 136.5,119.2 137.0,119.2 137.5,119.2 138.0,119.1 138.5,119.1 139.0,119.1 139.5,119.1 140.0,119.0 140.5,119.0 141.0,119.0 141.5,118.9 142.0,118.9 142.5,118.9 143.0,118.8 143.5,118.8 144.0,118.7 144.5,118.7 145.0,118.6 145.5,118.6 146.0,118.5 146.5,118.5 147.0,118.4 147.5,118.3 148.0,118.2 148.5,118.2 149.0,118.1 149.5,118.0 150.0,117.9 150.5,117.8 151.0,117.7 151.5,117.6 152.0,117.5 152.5,117.4 153.0,117.3 153.5,117.1 154.0,117.0 154.5,116.9 155.0,116.7 155.5,116.6 156.0,116.4 156.5,116.3 157.0,116.1 157.5,116.0 158.0,115.8 158.5,115.6 159.0,115.4 159.5,115.2 160.0,115.0 160.5,114.8 161.0,114.6 161.5,114.4 162.0,114.2 162.5,114.0 163.0,113.8 163.5,113.5 164.0,113.3 164.5,113.1 165.0,112.8 165.5,112.6 166.0,112.3 166.5,112.1 167.0,111.8 167.5,111.6 168.0,111.3 168.5,111.1 169.0,110.8 169.5,110.5 170.0,110.3 170.5,110.0 171.0,109.8 171.5,109.5 172.0,109.2 172.5,109.0 173.0,108.7 173.5,108.5 174.0,108.2 174.5,108.0 175.0,107.8 175.5,107.5 176.0,107.3 176.5,107.1 177.0,106.9 177.5,106.7 178.0,106.5 178.5,106.3 179.0,106.1 179.5,106.0 180.0,105.8 180.5,105.6 181.0,105.5 181.5,105.4 182.0,105.3 182.5,105.2 183.0,105.1 183.5,105.0 184.0,104.9 184.5,104.9 185.0,104.8 185.5,104.8 186.0,104.8 186.5,104.8 187.0,104.8 187.5,104.8 188.0,104.8 188.5,104.9 189.0,104.9 189.5,105.0 190.0,105.1 190.5,105.2 191.0,105.3 191.5,105.4 192.0,105.6 192.5,105.7 193.0,105.9 193.5,106.0 194.0,106.2 194.5,106.4 195.0,106.6 195.5,106.8 196.0,107.0 196.5,107.3 197.0,107.5 197.5,107.8 198.0,108.0 198.5,108.3 199.0,108.5 199.5,108.8 200.0,109.1 200.5,109.4 201.0,109.6 201.5,109.9 202.0,110.2 202.5,110.5 203.0,110.8 203.5,111.1 204.0,111.4 204.5,111.7 205.0,112.0 205.5,112.3 206.0,112.6 206.5,112.9 207.0,113.2 207.5,113.5 208.0,113.8 208.5,114.1 209.0,114.4 209.5,114.6 210.0,114.9 210.5,115.2 211.0,115.5 211.5,115.7 212.0,116.0 212.5,116.2 213.0,116.5 213.5,116.7 214.0,117.0 214.5,117.2 215.0,117.4 215.5,117.7 216.0,117.9 216.5,118.1 217.0,118.3 217.5,118.5 218.0,118.7 218.5,118.9 219.0,119.0 219.5,119.2 220.0,119.4 220.5,119.5 221.0,119.7 221.5,119.8 222.0,120.0 222.5,120.1 223.0,120.2 223.5,120.4 224.0,120.5 224.5,120.6 225.0,120.7 225.5,120.8 226.0,120.9 226.5,121.0 227.0,121.1 227.5,121.2 228.0,121.3 228.5,121.4 229.0,121.4 229.5,121.5 230.0,121.6 230.5,121.6 231.0,121.7 231.5,121.7 232.0,121.8 232.5,121.8 233.0,121.9 233.5,121.9 234.0,122.0 234.5,122.0 235.0,122.1 235.5,122.1 236.0,122.1 236.5,122.2 237.0,122.2 237.5,122.2 238.0,122.2 238.5,122.3 239.0,122.3 239.5,122.3 240.0,122.3 240.5,122.4 241.0,122.4 241.5,122.4 242.0,122.4 242.5,122.4 243.0,122.4 243.5,122.4 244.0,122.5 244.5,122.5 245.0,122.5 245.5,122.5 246.0,122.5 246.5,122.5 247.0,122.5 247.5,122.5 248.0,122.5 248.5,122.5 249.0,122.5 249.5,122.5 250.0,122.5 250.5,122.5 251.0,122.5 251.5,122.6 252.0,122.6 252.5,122.6 253.0,122.6 253.5,122.6 254.0,122.6 254.5,122.6 255.0,122.6 255.5,122.6 256.0,122.6 256.5,122.6 257.0,122.6 257.5,122.6 258.0,122.6 258.5,122.6 259.0,122.6 259.5,122.6 260.0,122.6 260.5,122.6 261.0,122.6 261.5,122.6 262.0,122.6 262.5,122.6 263.0,122.6 263.5,122.6 264.0,122.6 264.5,122.6 265.0,122.6 265.5,122.6 266.0,122.6 266.5,122.6 267.0,122.6 267.5,122.6 268.0,122.6 268.5,122.6 269.0,122.6 269.5,122.6 270.0,122.6 270.5,122.6 271.0,122.6 271.5,122.6 272.0,122.6 272.5,122.6 273.0,122.6 273.5,122.6 274.0,122.6 274.5,122.6 275.0,122.6 275.5,122.6 276.0,122.6 276.5,122.6 277.0,122.6 277.5,122.6 278.0,122.6 278.5,122.6 279.0,122.6 279.5,122.6 280.0,122.6 280.5,122.6 281.0,122.6 281.5,122.6 282.0,122.6 282.5,122.6 283.0,122.6 283.5,122.6 284.0,122.6 284.5,122.6 285.0,122.6 285.5,122.6 286.0,122.6 286.5,122.6 287.0,122.6 287.5,122.6 288.0,122.6 288.5,122.6 289.0,122.6 289.5,122.6 290.0,122.6 290.5,122.6 291.0,122.6 291.5,122.6 292.0,122.6 292.5,122.6 293.0,122.6 293.5,122.6 294.0,122.6 294.5,122.6 295.0,122.6 295.5,122.6 296.0,122.6 296.5,122.6 297.0,122.6 297.5,122.6 298.0,122.6 298.5,122.6 299.0,122.6 299.5,122.6 300.0,122.6 300.5,122.6 301.0,122.6 301.5,122.6 302.0,122.6 302.5,122.6 303.0,122.6 303.5,122.6 304.0,122.6 304.5,122.6 305.0,122.6 305.5,122.6 306.0,122.6 306.5,122.6 307.0,122.6 307.5,122.6 308.0,122.6 308.5,122.6 309.0,122.6 309.5,122.6 310.0,122.6 310.5,122.6 311.0,122.6 311.5,122.6 312.0,122.6 312.5,122.6 313.0,122.6 313.5,122.6 314.0,122.6 314.5,122.6 315.0,122.6 315.5,122.6 316.0,122.6 316.5,122.6 317.0,122.6 317.5,122.6 318.0,122.6 318.5,122.6 319.0,122.6 319.5,122.6 320.0,122.6 320.5,122.6 321.0,122.6 321.5,122.6 322.0,122.6 322.5,122.6 323.0,122.6 323.5,122.6 324.0,122.6 324.5,122.6 325.0,122.6 325.5,122.6" fill="none" stroke="#dc1c1c" stroke-width="1.65" stroke-linejoin="round"/>
<path d="M29.5,119.0 30.0,119.0 30.5,119.0 31.0,119.0 31.5,119.0 32.0,118.9 32.5,118.9 33.0,118.9 33.5,118.9 34.0,118.9 34.5,118.9 35.0,118.9 35.5,118.9 36.0,118.9 36.5,118.9 37.0,118.9 37.5,118.9 38.0,118.9 38.5,118.9 39.0,118.9 39.5,118.9 40.0,118.9 40.5,118.9 41.0,118.9 41.5,118.9 42.0,118.9 42.5,118.9 43.0,118.9 43.5,118.9 44.0,118.9 44.5,118.9 45.0,118.9 45.5,118.9 46.0,118.9 46.5,118.9 47.0,118.9 47.5,118.9 48.0,118.8 48.5,118.8 49.0,118.8 49.5,118.8 50.0,118.8 50.5,118.8 51.0,118.8 51.5,118.8 52.0,118.8 52.5,118.8 53.0,118.8 53.5,118.8 54.0,118.8 54.5,118.8 55.0,118.8 55.5,118.8 56.0,118.8 56.5,118.8 57.0,118.8 57.5,118.8 58.0,118.8 58.5,118.8 59.0,118.8 59.5,118.8 60.0,118.7 60.5,118.7 61.0,118.7 61.5,118.7 62.0,118.7 62.5,118.7 63.0,118.7 63.5,118.7 64.0,118.7 64.5,118.7 65.0,118.7 65.5,118.7 66.0,118.7 66.5,118.7 67.0,118.7 67.5,118.7 68.0,118.7 68.5,118.7 69.0,118.7 69.5,118.6 70.0,118.6 70.5,118.6 71.0,118.6 71.5,118.6 72.0,118.6 72.5,118.6 73.0,118.6 73.5,118.6 74.0,118.6 74.5,118.6 75.0,118.6 75.5,118.6 76.0,118.6 76.5,118.6 77.0,118.5 77.5,118.5 78.0,118.5 78.5,118.5 79.0,118.5 79.5,118.5 80.0,118.5 80.5,118.5 81.0,118.5 81.5,118.5 82.0,118.5 82.5,118.5 83.0,118.5 83.5,118.4 84.0,118.4 84.5,118.4 85.0,118.4 85.5,118.4 86.0,118.4 86.5,118.4 87.0,118.4 87.5,118.4 88.0,118.4 88.5,118.4 89.0,118.4 89.5,118.3 90.0,118.3 90.5,118.3 91.0,118.3 91.5,118.3 92.0,118.3 92.5,118.3 93.0,118.3 93.5,118.3 94.0,118.2 94.5,118.2 95.0,118.2 95.5,118.2 96.0,118.2 96.5,118.2 97.0,118.2 97.5,118.2 98.0,118.2 98.5,118.1 99.0,118.1 99.5,118.1 100.0,118.1 100.5,118.1 101.0,118.1 101.5,118.1 102.0,118.0 102.5,118.0 103.0,118.0 103.5,118.0 104.0,118.0 104.5,118.0 105.0,118.0 105.5,117.9 106.0,117.9 106.5,117.9 107.0,117.9 107.5,117.9 108.0,117.8 108.5,117.8 109.0,117.8 109.5,117.8 110.0,117.8 110.5,117.7 111.0,117.7 111.5,117.7 112.0,117.7 112.5,117.7 113.0,117.6 113.5,117.6 114.0,117.6 114.5,117.6 115.0,117.5 115.5,117.5 116.0,117.5 116.5,117.4 117.0,117.4 117.5,117.4 118.0,117.3 118.5,117.3 119.0,117.3 119.5,117.2 120.0,117.2 120.5,117.2 121.0,117.1 121.5,117.1 122.0,117.0 122.5,117.0 123.0,116.9 123.5,116.9 124.0,116.8 124.5,116.8 125.0,116.7 125.5,116.7 126.0,116.6 126.5,116.5 127.0,116.5 127.5,116.4 128.0,116.3 128.5,116.3 129.0,116.2 129.5,116.1 130.0,116.0 130.5,115.9 131.0,115.8 131.5,115.7 132.0,115.6 132.5,115.5 133.0,115.4 133.5,115.3 134.0,115.2 134.5,115.1 135.0,114.9 135.5,114.8 136.0,114.6 136.5,114.5 137.0,114.3 137.5,114.2 138.0,114.0 138.5,113.8 139.0,113.7 139.5,113.5 140.0,113.3 140.5,113.1 141.0,112.9 141.5,112.6 142.0,112.4 142.5,112.2 143.0,111.9 143.5,111.7 144.0,111.4 144.5,111.1 145.0,110.8 145.5,110.5 146.0,110.2 146.5,109.9 147.0,109.6 147.5,109.2 148.0,108.9 148.5,108.5 149.0,108.1 149.5,107.7 150.0,107.3 150.5,106.9 151.0,106.5 151.5,106.0 152.0,105.6 152.5,105.1 153.0,104.6 153.5,104.1 154.0,103.6 154.5,103.1 155.0,102.5 155.5,102.0 156.0,101.4 156.5,100.8 157.0,100.2 157.5,99.6 158.0,99.0 158.5,98.4 159.0,97.7 159.5,97.0 160.0,96.4 160.5,95.7 161.0,95.0 161.5,94.2 162.0,93.5 162.5,92.8 163.0,92.0 163.5,91.2 164.0,90.4 164.5,89.6 165.0,88.8 165.5,88.0 166.0,87.2 166.5,86.4 167.0,85.5 167.5,84.7 168.0,83.8 168.5,82.9 169.0,82.1 169.5,81.2 170.0,80.3 170.5,79.4 171.0,78.5 171.5,77.6 172.0,76.7 172.5,75.8 173.0,75.0 173.5,74.1 174.0,73.2 174.5,72.3 175.0,71.4 175.5,70.5 176.0,69.6 176.5,68.8 177.0,67.9 177.5,67.1 178.0,66.2 178.5,65.4 179.0,64.6 179.5,63.8 180.0,63.0 180.5,62.3 181.0,61.5 181.5,60.8 182.0,60.1 182.5,59.4 183.0,58.8 183.5,58.2 184.0,57.6 184.5,57.0 185.0,56.4 185.5,55.9 186.0,55.4 186.5,55.0 187.0,54.6 187.5,54.2 188.0,53.9 188.5,53.6 189.0,53.3 189.5,53.1 190.0,52.9 190.5,52.7 191.0,52.6 191.5,52.6 192.0,52.5 192.5,52.6 193.0,52.6 193.5,52.7 194.0,52.8 194.5,53.0 195.0,53.2 195.5,53.5 196.0,53.8 196.5,54.1 197.0,54.5 197.5,54.9 198.0,55.3 198.5,55.8 199.0,56.3 199.5,56.9 200.0,57.4 200.5,58.1 201.0,58.7 201.5,59.3 202.0,60.0 202.5,60.7 203.0,61.5 203.5,62.2 204.0,63.0 204.5,63.8 205.0,64.6 205.5,65.5 206.0,66.3 206.5,67.2 207.0,68.0 207.5,68.9 208.0,69.8 208.5,70.7 209.0,71.6 209.5,72.5 210.0,73.5 210.5,74.4 211.0,75.3 211.5,76.3 212.0,77.2 212.5,78.1 213.0,79.1 213.5,80.0 214.0,80.9 214.5,81.8 215.0,82.8 215.5,83.7 216.0,84.6 216.5,85.5 217.0,86.4 217.5,87.3 218.0,88.2 218.5,89.0 219.0,89.9 219.5,90.7 220.0,91.6 220.5,92.4 221.0,93.2 221.5,94.0 222.0,94.8 222.5,95.6 223.0,96.4 223.5,97.1 224.0,97.9 224.5,98.6 225.0,99.3 225.5,100.0 226.0,100.7 226.5,101.3 227.0,102.0 227.5,102.6 228.0,103.3 228.5,103.9 229.0,104.5 229.5,105.0 230.0,105.6 230.5,106.1 231.0,106.7 231.5,107.2 232.0,107.7 232.5,108.2 233.0,108.7 233.5,109.1 234.0,109.6 234.5,110.0 235.0,110.5 235.5,110.9 236.0,111.3 236.5,111.6 237.0,112.0 237.5,112.4 238.0,112.7 238.5,113.1 239.0,113.4 239.5,113.7 240.0,114.0 240.5,114.3 241.0,114.6 241.5,114.8 242.0,115.1 242.5,115.4 243.0,115.6 243.5,115.8 244.0,116.1 244.5,116.3 245.0,116.5 245.5,116.7 246.0,116.9 246.5,117.0 247.0,117.2 247.5,117.4 248.0,117.5 248.5,117.7 249.0,117.9 249.5,118.0 250.0,118.1 250.5,118.3 251.0,118.4 251.5,118.5 252.0,118.6 252.5,118.7 253.0,118.8 253.5,118.9 254.0,119.0 254.5,119.1 255.0,119.2 255.5,119.3 256.0,119.4 256.5,119.5 257.0,119.5 257.5,119.6 258.0,119.7 258.5,119.8 259.0,119.8 259.5,119.9 260.0,119.9 260.5,120.0 261.0,120.0 261.5,120.1 262.0,120.1 262.5,120.2 263.0,120.2 263.5,120.3 264.0,120.3 264.5,120.4 265.0,120.4 265.5,120.4 266.0,120.5 266.5,120.5 267.0,120.6 267.5,120.6 268.0,120.6 268.5,120.6 269.0,120.7 269.5,120.7 270.0,120.7 270.5,120.8 271.0,120.8 271.5,120.8 272.0,120.8 272.5,120.9 273.0,120.9 273.5,120.9 274.0,120.9 274.5,121.0 275.0,121.0 275.5,121.0 276.0,121.0 276.5,121.0 277.0,121.1 277.5,121.1 278.0,121.1 278.5,121.1 279.0,121.1 279.5,121.1 280.0,121.2 280.5,121.2 281.0,121.2 281.5,121.2 282.0,121.2 282.5,121.2 283.0,121.2 283.5,121.3 284.0,121.3 284.5,121.3 285.0,121.3 285.5,121.3 286.0,121.3 286.5,121.3 287.0,121.4 287.5,121.4 288.0,121.4 288.5,121.4 289.0,121.4 289.5,121.4 290.0,121.4 290.5,121.4 291.0,121.5 291.5,121.5 292.0,121.5 292.5,121.5 293.0,121.5 293.5,121.5 294.0,121.5 294.5,121.5 295.0,121.5 295.5,121.5 296.0,121.6 296.5,121.6 297.0,121.6 297.5,121.6 298.0,121.6 298.5,121.6 299.0,121.6 299.5,121.6 300.0,121.6 300.5,121.6 301.0,121.6 301.5,121.7 302.0,121.7 302.5,121.7 303.0,121.7 303.5,121.7 304.0,121.7 304.5,121.7 305.0,121.7 305.5,121.7 306.0,121.7 306.5,121.7 307.0,121.7 307.5,121.7 308.0,121.8 308.5,121.8 309.0,121.8 309.5,121.8 310.0,121.8 310.5,121.8 311.0,121.8 311.5,121.8 312.0,121.8 312.5,121.8 313.0,121.8 313.5,121.8 314.0,121.8 314.5,121.8 315.0,121.8 315.5,121.8 316.0,121.9 316.5,121.9 317.0,121.9 317.5,121.9 318.0,121.9 318.5,121.9 319.0,121.9 319.5,121.9 320.0,121.9 320.5,121.9 321.0,121.9 321.5,121.9 322.0,121.9 322.5,121.9 323.0,121.9 323.5,121.9 324.0,121.9 324.5,121.9 325.0,121.9 325.5,122.0" fill="none" stroke="#1818bc" stroke-width="1.65" stroke-linejoin="round"/>
<path d="M29.5,119.0 30.0,119.0 30.5,119.0 31.0,119.0 31.5,119.0 32.0,119.0 32.5,119.0 33.0,119.0 33.5,119.0 34.0,119.0 34.5,119.0 35.0,119.0 35.5,119.0 36.0,119.0 36.5,119.0 37.0,119.0 37.5,119.0 38.0,119.0 38.5,119.0 39.0,119.0 39.5,119.0 40.0,119.0 40.5,119.0 41.0,119.0 41.5,119.0 42.0,119.0 42.5,119.0 43.0,119.0 43.5,119.0 44.0,119.0 44.5,119.0 45.0,119.0 45.5,119.0 46.0,119.0 46.5,119.0 47.0,119.0 47.5,119.0 48.0,119.0 48.5,119.0 49.0,119.0 49.5,119.0 50.0,119.0 50.5,119.0 51.0,119.0 51.5,119.0 52.0,119.0 52.5,119.0 53.0,119.0 53.5,119.0 54.0,119.0 54.5,119.0 55.0,119.0 55.5,119.0 56.0,119.0 56.5,119.0 57.0,119.0 57.5,119.0 58.0,119.0 58.5,119.0 59.0,119.0 59.5,119.0 60.0,119.0 60.5,119.0 61.0,119.0 61.5,119.0 62.0,119.0 62.5,119.0 63.0,119.0 63.5,119.0 64.0,119.0 64.5,119.0 65.0,119.0 65.5,119.0 66.0,119.0 66.5,119.0 67.0,119.0 67.5,119.0 68.0,119.0 68.5,119.0 69.0,119.0 69.5,119.0 70.0,119.0 70.5,119.0 71.0,119.0 71.5,119.0 72.0,119.0 72.5,119.0 73.0,119.0 73.5,119.0 74.0,119.0 74.5,119.0 75.0,119.0 75.5,119.0 76.0,119.0 76.5,119.0 77.0,119.0 77.5,119.0 78.0,119.0 78.5,119.0 79.0,119.0 79.5,119.0 80.0,119.0 80.5,119.0 81.0,119.0 81.5,119.0 82.0,119.0 82.5,119.0 83.0,119.0 83.5,119.0 84.0,119.0 84.5,119.0 85.0,119.0 85.5,119.0 86.0,119.0 86.5,119.0 87.0,119.0 87.5,119.0 88.0,119.0 88.5,119.0 89.0,119.0 89.5,119.0 90.0,119.0 90.5,119.0 91.0,119.0 91.5,119.0 92.0,119.0 92.5,119.0 93.0,119.0 93.5,119.0 94.0,119.0 94.5,119.0 95.0,119.0 95.5,119.0 96.0,119.0 96.5,119.0 97.0,119.0 97.5,119.0 98.0,119.0 98.5,119.0 99.0,119.0 99.5,119.0 100.0,119.0 100.5,119.0 101.0,119.0 101.5,119.0 102.0,119.0 102.5,119.0 103.0,119.0 103.5,119.0 104.0,119.0 104.5,119.0 105.0,119.0 105.5,119.0 106.0,119.0 106.5,119.0 107.0,119.0 107.5,119.0 108.0,119.0 108.5,119.0 109.0,119.0 109.5,119.0 110.0,119.0 110.5,119.0 111.0,119.0 111.5,119.0 112.0,119.0 112.5,119.0 113.0,119.0 113.5,119.0 114.0,119.0 114.5,119.0 115.0,119.0 115.5,119.0 116.0,119.0 116.5,119.0 117.0,119.0 117.5,119.0 118.0,119.0 118.5,119.0 119.0,119.0 119.5,119.0 120.0,119.0 120.5,119.0 121.0,119.0 121.5,119.0 122.0,119.0 122.5,119.0 123.0,119.0 123.5,119.0 124.0,119.0 124.5,119.0 125.0,119.0 125.5,119.0 126.0,119.0 126.5,119.0 127.0,119.0 127.5,119.0 128.0,119.0 128.5,119.0 129.0,119.0 129.5,119.0 130.0,119.0 130.5,119.0 131.0,119.0 131.5,119.0 132.0,119.1 132.5,119.1 133.0,119.1 133.5,119.1 134.0,119.1 134.5,119.1 135.0,119.1 135.5,119.1 136.0,119.1 136.5,119.1 137.0,119.1 137.5,119.1 138.0,119.1 138.5,119.1 139.0,119.1 139.5,119.1 140.0,119.1 140.5,119.1 141.0,119.1 141.5,119.1 142.0,119.1 142.5,119.1 143.0,119.1 143.5,119.1 144.0,119.1 144.5,119.1 145.0,119.1 145.5,119.1 146.0,119.1 146.5,119.1 147.0,119.1 147.5,119.1 148.0,119.1 148.5,119.1 149.0,119.1 149.5,119.1 150.0,119.1 150.5,119.1 151.0,119.2 151.5,119.2 152.0,119.2 152.5,119.2 153.0,119.2 153.5,119.2 154.0,119.2 154.5,119.2 155.0,119.2 155.5,119.2 156.0,119.2 156.5,119.2 157.0,119.2 157.5,119.2 158.0,119.2 158.5,119.2 159.0,119.3 159.5,119.3 160.0,119.3 160.5,119.3 161.0,119.3 161.5,119.3 162.0,119.3 162.5,119.3 163.0,119.3 163.5,119.3 164.0,119.4 164.5,119.4 165.0,119.4 165.5,119.4 166.0,119.4 166.5,119.4 167.0,119.4 167.5,119.4 168.0,119.5 168.5,119.5 169.0,119.5 169.5,119.5 170.0,119.5 170.5,119.5 171.0,119.6 171.5,119.6 172.0,119.6 172.5,119.6 173.0,119.6 173.5,119.6 174.0,119.7 174.5,119.7 175.0,119.7 175.5,119.7 176.0,119.7 176.5,119.8 177.0,119.8 177.5,119.8 178.0,119.8 178.5,119.8 179.0,119.9 179.5,119.9 180.0,119.9 180.5,119.9 181.0,120.0 181.5,120.0 182.0,120.0 182.5,120.0 183.0,120.1 183.5,120.1 184.0,120.1 184.5,120.2 185.0,120.2 185.5,120.2 186.0,120.2 186.5,120.3 187.0,120.3 187.5,120.3 188.0,120.4 188.5,120.4 189.0,120.4 189.5,120.5 190.0,120.5 190.5,120.5 191.0,120.6 191.5,120.6 192.0,120.6 192.5,120.7 193.0,120.7 193.5,120.7 194.0,120.8 194.5,120.8 195.0,120.8 195.5,120.9 196.0,120.9 196.5,120.9 197.0,121.0 197.5,121.0 198.0,121.0 198.5,121.1 199.0,121.1 199.5,121.1 200.0,121.2 200.5,121.2 201.0,121.2 201.5,121.3 202.0,121.3 202.5,121.3 203.0,121.4 203.5,121.4 204.0,121.4 204.5,121.5 205.0,121.5 205.5,121.5 206.0,121.6 206.5,121.6 207.0,121.6 207.5,121.7 208.0,121.7 208.5,121.7 209.0,121.8 209.5,121.8 210.0,121.8 210.5,121.8 211.0,121.9 211.5,121.9 212.0,121.9 212.5,122.0 213.0,122.0 213.5,122.0 214.0,122.1 214.5,122.1 215.0,122.1 215.5,122.1 216.0,122.2 216.5,122.2 217.0,122.2 217.5,122.2 218.0,122.3 218.5,122.3 219.0,122.3 219.5,122.3 220.0,122.4 220.5,122.4 221.0,122.4 221.5,122.4 222.0,122.4 222.5,122.5 223.0,122.5 223.5,122.5 224.0,122.5 224.5,122.5 225.0,122.6 225.5,122.6 226.0,122.6 226.5,122.6 227.0,122.6 227.5,122.6 228.0,122.7 228.5,122.7 229.0,122.7 229.5,122.7 230.0,122.7 230.5,122.7 231.0,122.7 231.5,122.8 232.0,122.8 232.5,122.8 233.0,122.8 233.5,122.8 234.0,122.8 234.5,122.8 235.0,122.8 235.5,122.8 236.0,122.9 236.5,122.9 237.0,122.9 237.5,122.9 238.0,122.9 238.5,122.9 239.0,122.9 239.5,122.9 240.0,122.9 240.5,122.9 241.0,122.9 241.5,122.9 242.0,122.9 242.5,123.0 243.0,123.0 243.5,123.0 244.0,123.0 244.5,123.0 245.0,123.0 245.5,123.0 246.0,123.0 246.5,123.0 247.0,123.0 247.5,123.0 248.0,123.0 248.5,123.0 249.0,123.0 249.5,123.0 250.0,123.0 250.5,123.0 251.0,123.0 251.5,123.0 252.0,123.0 252.5,123.0 253.0,123.0 253.5,123.0 254.0,123.0 254.5,123.0 255.0,123.0 255.5,123.0 256.0,123.1 256.5,123.1 257.0,123.1 257.5,123.1 258.0,123.1 258.5,123.1 259.0,123.1 259.5,123.1 260.0,123.1 260.5,123.1 261.0,123.1 261.5,123.1 262.0,123.1 262.5,123.1 263.0,123.1 263.5,123.1 264.0,123.1 264.5,123.1 265.0,123.1 265.5,123.1 266.0,123.1 266.5,123.1 267.0,123.1 267.5,123.1 268.0,123.1 268.5,123.1 269.0,123.1 269.5,123.1 270.0,123.1 270.5,123.1 271.0,123.1 271.5,123.1 272.0,123.1 272.5,123.1 273.0,123.1 273.5,123.1 274.0,123.1 274.5,123.1 275.0,123.1 275.5,123.1 276.0,123.1 276.5,123.1 277.0,123.1 277.5,123.1 278.0,123.1 278.5,123.1 279.0,123.1 279.5,123.1 280.0,123.1 280.5,123.1 281.0,123.1 281.5,123.1 282.0,123.1 282.5,123.1 283.0,123.1 283.5,123.1 284.0,123.1 284.5,123.1 285.0,123.1 285.5,123.1 286.0,123.1 286.5,123.1 287.0,123.1 287.5,123.1 288.0,123.1 288.5,123.1 289.0,123.1 289.5,123.1 290.0,123.1 290.5,123.1 291.0,123.1 291.5,123.1 292.0,123.1 292.5,123.1 293.0,123.1 293.5,123.1 294.0,123.1 294.5,123.1 295.0,123.1 295.5,123.1 296.0,123.1 296.5,123.1 297.0,123.1 297.5,123.1 298.0,123.1 298.5,123.1 299.0,123.1 299.5,123.1 300.0,123.1 300.5,123.1 301.0,123.1 301.5,123.1 302.0,123.1 302.5,123.1 303.0,123.1 303.5,123.1 304.0,123.1 304.5,123.1 305.0,123.1 305.5,123.1 306.0,123.1 306.5,123.1 307.0,123.1 307.5,123.1 308.0,123.1 308.5,123.1 309.0,123.1 309.5,123.1 310.0,123.1 310.5,123.1 311.0,123.1 311.5,123.1 312.0,123.1 312.5,123.1 313.0,123.1 313.5,123.1 314.0,123.1 314.5,123.1 315.0,123.1 315.5,123.1 316.0,123.1 316.5,123.1 317.0,123.1 317.5,123.1 318.0,123.1 318.5,123.1 319.0,123.1 319.5,123.1 320.0,123.1 320.5,123.1 321.0,123.1 321.5,123.1 322.0,123.1 322.5,123.1 323.0,123.1 323.5,123.1 324.0,123.1 324.5,123.1 325.0,123.1 325.5,123.1" fill="none" stroke="#7a1a8a" stroke-width="1.4" stroke-linejoin="round"/>
<path d="M29.5,118.8 30.0,118.8 30.5,118.8 31.0,118.8 31.5,118.7 32.0,118.7 32.5,118.6 33.0,118.5 33.5,118.3 34.0,118.2 34.5,118.0 35.0,117.9 35.5,117.8 36.0,117.8 36.5,117.8 37.0,117.9 37.5,118.0 38.0,118.2 38.5,118.4 39.0,118.5 39.5,118.7 40.0,118.8 40.5,118.9 41.0,119.0 41.5,119.1 42.0,119.1 42.5,119.1 43.0,119.1 43.5,119.0 44.0,118.9 44.5,118.8 45.0,118.8 45.5,118.7 46.0,118.7 46.5,118.7 47.0,118.7 47.5,118.7 48.0,118.7 48.5,118.7 49.0,118.7 49.5,118.6 50.0,118.6 50.5,118.6 51.0,118.6 51.5,118.6 52.0,118.6 52.5,118.6 53.0,118.6 53.5,118.6 54.0,118.6 54.5,118.6 55.0,118.6 55.5,118.6 56.0,118.6 56.5,118.6 57.0,118.6 57.5,118.6 58.0,118.5 58.5,118.5 59.0,118.5 59.5,118.5 60.0,118.5 60.5,118.5 61.0,118.5 61.5,118.5 62.0,118.5 62.5,118.5 63.0,118.5 63.5,118.5 64.0,118.5 64.5,118.5 65.0,118.5 65.5,118.4 66.0,118.4 66.5,118.4 67.0,118.4 67.5,118.4 68.0,118.4 68.5,118.4 69.0,118.4 69.5,118.4 70.0,118.4 70.5,118.4 71.0,118.4 71.5,118.3 72.0,118.3 72.5,118.3 73.0,118.3 73.5,118.3 74.0,118.3 74.5,118.3 75.0,118.3 75.5,118.3 76.0,118.3 76.5,118.2 77.0,118.2 77.5,118.2 78.0,118.2 78.5,118.2 79.0,118.2 79.5,118.2 80.0,118.2 80.5,118.2 81.0,118.1 81.5,118.1 82.0,118.1 82.5,118.1 83.0,118.1 83.5,118.1 84.0,118.1 84.5,118.1 85.0,118.0 85.5,118.0 86.0,118.0 86.5,118.0 87.0,118.0 87.5,118.0 88.0,118.0 88.5,117.9 89.0,117.9 89.5,117.9 90.0,117.9 90.5,117.9 91.0,117.9 91.5,117.8 92.0,117.8 92.5,117.8 93.0,117.8 93.5,117.8 94.0,117.7 94.5,117.7 95.0,117.7 95.5,117.7 96.0,117.7 96.5,117.6 97.0,117.6 97.5,117.6 98.0,117.6 98.5,117.5 99.0,117.5 99.5,117.5 100.0,117.5 100.5,117.4 101.0,117.4 101.5,117.4 102.0,117.4 102.5,117.3 103.0,117.3 103.5,117.3 104.0,117.2 104.5,117.2 105.0,117.2 105.5,117.1 106.0,117.1 106.5,117.0 107.0,117.0 107.5,117.0 108.0,116.9 108.5,116.9 109.0,116.8 109.5,116.8 110.0,116.7 110.5,116.7 111.0,116.6 111.5,116.6 112.0,116.5 112.5,116.5 113.0,116.4 113.5,116.3 114.0,116.3 114.5,116.2 115.0,116.1 115.5,116.1 116.0,116.0 116.5,115.9 117.0,115.8 117.5,115.7 118.0,115.6 118.5,115.6 119.0,115.5 119.5,115.4 120.0,115.3 120.5,115.2 121.0,115.1 121.5,114.9 122.0,114.8 122.5,114.7 123.0,114.6 123.5,114.5 124.0,114.3 124.5,114.2 125.0,114.1 125.5,113.9 126.0,113.8 126.5,113.6 127.0,113.4 127.5,113.3 128.0,113.1 128.5,112.9 129.0,112.8 129.5,112.6 130.0,112.4 130.5,112.2 131.0,112.0 131.5,111.7 132.0,111.5 132.5,111.3 133.0,111.1 133.5,110.8 134.0,110.6 134.5,110.3 135.0,110.0 135.5,109.8 136.0,109.5 136.5,109.2 137.0,108.9 137.5,108.6 138.0,108.3 138.5,108.0 139.0,107.6 139.5,107.3 140.0,106.9 140.5,106.5 141.0,106.2 141.5,105.8 142.0,105.4 142.5,105.0 143.0,104.6 143.5,104.1 144.0,103.7 144.5,103.2 145.0,102.8 145.5,102.3 146.0,101.8 146.5,101.3 147.0,100.8 147.5,100.2 148.0,99.7 148.5,99.1 149.0,98.6 149.5,98.0 150.0,97.4 150.5,96.8 151.0,96.2 151.5,95.5 152.0,94.9 152.5,94.2 153.0,93.6 153.5,92.9 154.0,92.2 154.5,91.5 155.0,90.7 155.5,90.0 156.0,89.2 156.5,88.5 157.0,87.7 157.5,86.9 158.0,86.1 158.5,85.3 159.0,84.4 159.5,83.6 160.0,82.7 160.5,81.8 161.0,80.9 161.5,80.0 162.0,79.1 162.5,78.2 163.0,77.3 163.5,76.3 164.0,75.3 164.5,74.4 165.0,73.4 165.5,72.4 166.0,71.4 166.5,70.3 167.0,69.3 167.5,68.3 168.0,67.2 168.5,66.2 169.0,65.1 169.5,64.0 170.0,62.9 170.5,61.9 171.0,60.8 171.5,59.7 172.0,58.6 172.5,57.5 173.0,56.4 173.5,55.3 174.0,54.2 174.5,53.1 175.0,52.0 175.5,51.0 176.0,49.9 176.5,48.8 177.0,47.8 177.5,46.7 178.0,45.7 178.5,44.7 179.0,43.7 179.5,42.7 180.0,41.8 180.5,40.8 181.0,39.9 181.5,39.0 182.0,38.1 182.5,37.3 183.0,36.5 183.5,35.7 184.0,34.9 184.5,34.2 185.0,33.5 185.5,32.9 186.0,32.2 186.5,31.7 187.0,31.1 187.5,30.6 188.0,30.1 188.5,29.7 189.0,29.3 189.5,29.0 190.0,28.7 190.5,28.4 191.0,28.2 191.5,28.0 192.0,27.9 192.5,27.9 193.0,27.8 193.5,27.8 194.0,27.9 194.5,28.0 195.0,28.2 195.5,28.3 196.0,28.6 196.5,28.9 197.0,29.2 197.5,29.5 198.0,29.9 198.5,30.4 199.0,30.8 199.5,31.4 200.0,31.9 200.5,32.5 201.0,33.1 201.5,33.7 202.0,34.4 202.5,35.1 203.0,35.9 203.5,36.6 204.0,37.4 204.5,38.2 205.0,39.1 205.5,39.9 206.0,40.8 206.5,41.7 207.0,42.7 207.5,43.6 208.0,44.6 208.5,45.5 209.0,46.5 209.5,47.6 210.0,48.6 210.5,49.6 211.0,50.7 211.5,51.7 212.0,52.8 212.5,53.9 213.0,55.0 213.5,56.1 214.0,57.2 214.5,58.3 215.0,59.4 215.5,60.6 216.0,61.7 216.5,62.8 217.0,64.0 217.5,65.1 218.0,66.3 218.5,67.4 219.0,68.5 219.5,69.7 220.0,70.8 220.5,71.9 221.0,73.1 221.5,74.2 222.0,75.3 222.5,76.4 223.0,77.6 223.5,78.7 224.0,79.7 224.5,80.8 225.0,81.9 225.5,83.0 226.0,84.0 226.5,85.0 227.0,86.1 227.5,87.1 228.0,88.1 228.5,89.1 229.0,90.0 229.5,91.0 230.0,91.9 230.5,92.9 231.0,93.8 231.5,94.7 232.0,95.5 232.5,96.4 233.0,97.2 233.5,98.1 234.0,98.9 234.5,99.6 235.0,100.4 235.5,101.2 236.0,101.9 236.5,102.6 237.0,103.3 237.5,104.0 238.0,104.6 238.5,105.3 239.0,105.9 239.5,106.5 240.0,107.1 240.5,107.6 241.0,108.2 241.5,108.7 242.0,109.2 242.5,109.7 243.0,110.2 243.5,110.7 244.0,111.1 244.5,111.6 245.0,112.0 245.5,112.4 246.0,112.8 246.5,113.1 247.0,113.5 247.5,113.8 248.0,114.2 248.5,114.5 249.0,114.8 249.5,115.1 250.0,115.3 250.5,115.6 251.0,115.9 251.5,116.1 252.0,116.3 252.5,116.6 253.0,116.8 253.5,117.0 254.0,117.2 254.5,117.4 255.0,117.5 255.5,117.7 256.0,117.9 256.5,118.0 257.0,118.2 257.5,118.3 258.0,118.4 258.5,118.6 259.0,118.7 259.5,118.8 260.0,118.9 260.5,119.0 261.0,119.1 261.5,119.2 262.0,119.3 262.5,119.4 263.0,119.4 263.5,119.5 264.0,119.6 264.5,119.7 265.0,119.7 265.5,119.8 266.0,119.9 266.5,119.9 267.0,120.0 267.5,120.0 268.0,120.1 268.5,120.1 269.0,120.2 269.5,120.2 270.0,120.3 270.5,120.3 271.0,120.3 271.5,120.4 272.0,120.4 272.5,120.4 273.0,120.5 273.5,120.5 274.0,120.5 274.5,120.6 275.0,120.6 275.5,120.6 276.0,120.7 276.5,120.7 277.0,120.7 277.5,120.7 278.0,120.8 278.5,120.8 279.0,120.8 279.5,120.8 280.0,120.8 280.5,120.9 281.0,120.9 281.5,120.9 282.0,120.9 282.5,120.9 283.0,121.0 283.5,121.0 284.0,121.0 284.5,121.0 285.0,121.0 285.5,121.0 286.0,121.1 286.5,121.1 287.0,121.1 287.5,121.1 288.0,121.1 288.5,121.1 289.0,121.2 289.5,121.2 290.0,121.2 290.5,121.2 291.0,121.2 291.5,121.2 292.0,121.2 292.5,121.3 293.0,121.3 293.5,121.3 294.0,121.3 294.5,121.3 295.0,121.3 295.5,121.3 296.0,121.3 296.5,121.4 297.0,121.4 297.5,121.4 298.0,121.4 298.5,121.4 299.0,121.4 299.5,121.4 300.0,121.4 300.5,121.4 301.0,121.4 301.5,121.5 302.0,121.5 302.5,121.5 303.0,121.5 303.5,121.5 304.0,121.5 304.5,121.5 305.0,121.5 305.5,121.5 306.0,121.5 306.5,121.6 307.0,121.6 307.5,121.6 308.0,121.6 308.5,121.6 309.0,121.6 309.5,121.6 310.0,121.6 310.5,121.6 311.0,121.6 311.5,121.6 312.0,121.6 312.5,121.6 313.0,121.7 313.5,121.7 314.0,121.7 314.5,121.7 315.0,121.7 315.5,121.7 316.0,121.7 316.5,121.7 317.0,121.7 317.5,121.7 318.0,121.7 318.5,121.7 319.0,121.7 319.5,121.7 320.0,121.8 320.5,121.8 321.0,121.8 321.5,121.8 322.0,121.8 322.5,121.8 323.0,121.8 323.5,121.8 324.0,121.8 324.5,121.8 325.0,121.8 325.5,121.8" fill="none" stroke="#0b621e" stroke-width="1.95" stroke-linejoin="round"/>
<path d="M29.5,220.9 30.0,220.9 30.5,220.9 31.0,220.9 31.5,220.9 32.0,220.9 32.5,220.9 33.0,220.9 33.5,220.9 34.0,220.9 34.5,220.9 35.0,220.9 35.5,220.9 36.0,220.9 36.5,220.9 37.0,220.9 37.5,220.9 38.0,220.9 38.5,220.9 39.0,220.9 39.5,220.9 40.0,220.9 40.5,220.9 41.0,220.9 41.5,220.9 42.0,220.9 42.5,220.9 43.0,220.9 43.5,220.9 44.0,220.9 44.5,220.9 45.0,220.9 45.5,220.9 46.0,220.9 46.5,220.9 47.0,220.9 47.5,220.9 48.0,220.9 48.5,220.9 49.0,220.9 49.5,220.9 50.0,220.9 50.5,220.9 51.0,220.9 51.5,220.9 52.0,220.9 52.5,220.9 53.0,220.9 53.5,220.9 54.0,220.9 54.5,220.9 55.0,220.9 55.5,220.9 56.0,220.9 56.5,220.9 57.0,220.9 57.5,220.9 58.0,220.9 58.5,220.9 59.0,220.9 59.5,220.9 60.0,220.9 60.5,220.9 61.0,220.9 61.5,220.9 62.0,220.9 62.5,220.8 63.0,220.8 63.5,220.8 64.0,220.8 64.5,220.8 65.0,220.8 65.5,220.8 66.0,220.8 66.5,220.8 67.0,220.8 67.5,220.8 68.0,220.8 68.5,220.8 69.0,220.8 69.5,220.8 70.0,220.8 70.5,220.8 71.0,220.8 71.5,220.8 72.0,220.8 72.5,220.8 73.0,220.8 73.5,220.8 74.0,220.8 74.5,220.8 75.0,220.8 75.5,220.8 76.0,220.8 76.5,220.8 77.0,220.8 77.5,220.8 78.0,220.8 78.5,220.8 79.0,220.8 79.5,220.8 80.0,220.8 80.5,220.8 81.0,220.8 81.5,220.8 82.0,220.8 82.5,220.7 83.0,220.7 83.5,220.7 84.0,220.7 84.5,220.7 85.0,220.7 85.5,220.7 86.0,220.7 86.5,220.7 87.0,220.7 87.5,220.7 88.0,220.7 88.5,220.7 89.0,220.7 89.5,220.7 90.0,220.7 90.5,220.7 91.0,220.6 91.5,220.6 92.0,220.6 92.5,220.6 93.0,220.6 93.5,220.6 94.0,220.6 94.5,220.6 95.0,220.6 95.5,220.5 96.0,220.5 96.5,220.5 97.0,220.5 97.5,220.5 98.0,220.5 98.5,220.5 99.0,220.4 99.5,220.4 100.0,220.4 100.5,220.4 101.0,220.4 101.5,220.3 102.0,220.3 102.5,220.3 103.0,220.3 103.5,220.2 104.0,220.2 104.5,220.2 105.0,220.2 105.5,220.1 106.0,220.1 106.5,220.1 107.0,220.0 107.5,220.0 108.0,220.0 108.5,219.9 109.0,219.9 109.5,219.8 110.0,219.8 110.5,219.8 111.0,219.7 111.5,219.7 112.0,219.6 112.5,219.6 113.0,219.5 113.5,219.4 114.0,219.4 114.5,219.3 115.0,219.3 115.5,219.2 116.0,219.1 116.5,219.1 117.0,219.0 117.5,218.9 118.0,218.9 118.5,218.8 119.0,218.7 119.5,218.6 120.0,218.5 120.5,218.4 121.0,218.4 121.5,218.3 122.0,218.2 122.5,218.1 123.0,218.0 123.5,217.9 124.0,217.8 124.5,217.7 125.0,217.6 125.5,217.5 126.0,217.4 126.5,217.3 127.0,217.1 127.5,217.0 128.0,216.9 128.5,216.8 129.0,216.7 129.5,216.6 130.0,216.4 130.5,216.3 131.0,216.2 131.5,216.0 132.0,215.9 132.5,215.8 133.0,215.7 133.5,215.5 134.0,215.4 134.5,215.3 135.0,215.1 135.5,215.0 136.0,214.9 136.5,214.7 137.0,214.6 137.5,214.4 138.0,214.3 138.5,214.2 139.0,214.0 139.5,213.9 140.0,213.8 140.5,213.6 141.0,213.5 141.5,213.4 142.0,213.3 142.5,213.1 143.0,213.0 143.5,212.9 144.0,212.8 144.5,212.7 145.0,212.5 145.5,212.4 146.0,212.3 146.5,212.2 147.0,212.1 147.5,212.0 148.0,211.9 148.5,211.8 149.0,211.8 149.5,211.7 150.0,211.6 150.5,211.5 151.0,211.5 151.5,211.4 152.0,211.4 152.5,211.3 153.0,211.3 153.5,211.2 154.0,211.2 154.5,211.2 155.0,211.2 155.5,211.2 156.0,211.2 156.5,211.2 157.0,211.2 157.5,211.2 158.0,211.2 158.5,211.2 159.0,211.3 159.5,211.3 160.0,211.3 160.5,211.4 161.0,211.4 161.5,211.5 162.0,211.6 162.5,211.6 163.0,211.7 163.5,211.8 164.0,211.9 164.5,212.0 165.0,212.1 165.5,212.2 166.0,212.3 166.5,212.4 167.0,212.5 167.5,212.6 168.0,212.7 168.5,212.9 169.0,213.0 169.5,213.1 170.0,213.3 170.5,213.4 171.0,213.5 171.5,213.7 172.0,213.8 172.5,214.0 173.0,214.1 173.5,214.2 174.0,214.4 174.5,214.5 175.0,214.7 175.5,214.8 176.0,215.0 176.5,215.1 177.0,215.3 177.5,215.4 178.0,215.6 178.5,215.7 179.0,215.9 179.5,216.0 180.0,216.2 180.5,216.3 181.0,216.5 181.5,216.6 182.0,216.8 182.5,216.9 183.0,217.1 183.5,217.2 184.0,217.3 184.5,217.5 185.0,217.6 185.5,217.7 186.0,217.9 186.5,218.0 187.0,218.1 187.5,218.3 188.0,218.4 188.5,218.5 189.0,218.6 189.5,218.8 190.0,218.9 190.5,219.0 191.0,219.1 191.5,219.2 192.0,219.3 192.5,219.4 193.0,219.5 193.5,219.6 194.0,219.7 194.5,219.8 195.0,219.9 195.5,220.0 196.0,220.1 196.5,220.2 197.0,220.3 197.5,220.4 198.0,220.5 198.5,220.5 199.0,220.6 199.5,220.7 200.0,220.8 200.5,220.9 201.0,220.9 201.5,221.0 202.0,221.1 202.5,221.1 203.0,221.2 203.5,221.3 204.0,221.3 204.5,221.4 205.0,221.4 205.5,221.5 206.0,221.6 206.5,221.6 207.0,221.7 207.5,221.7 208.0,221.8 208.5,221.8 209.0,221.9 209.5,221.9 210.0,222.0 210.5,222.0 211.0,222.0 211.5,222.1 212.0,222.1 212.5,222.2 213.0,222.2 213.5,222.2 214.0,222.3 214.5,222.3 215.0,222.3 215.5,222.4 216.0,222.4 216.5,222.4 217.0,222.5 217.5,222.5 218.0,222.5 218.5,222.6 219.0,222.6 219.5,222.6 220.0,222.6 220.5,222.7 221.0,222.7 221.5,222.7 222.0,222.7 222.5,222.7 223.0,222.8 223.5,222.8 224.0,222.8 224.5,222.8 225.0,222.9 225.5,222.9 226.0,222.9 226.5,222.9 227.0,222.9 227.5,222.9 228.0,223.0 228.5,223.0 229.0,223.0 229.5,223.0 230.0,223.0 230.5,223.0 231.0,223.0 231.5,223.1 232.0,223.1 232.5,223.1 233.0,223.1 233.5,223.1 234.0,223.1 234.5,223.1 235.0,223.1 235.5,223.2 236.0,223.2 236.5,223.2 237.0,223.2 237.5,223.2 238.0,223.2 238.5,223.2 239.0,223.2 239.5,223.2 240.0,223.2 240.5,223.3 241.0,223.3 241.5,223.3 242.0,223.3 242.5,223.3 243.0,223.3 243.5,223.3 244.0,223.3 244.5,223.3 245.0,223.3 245.5,223.3 246.0,223.3 246.5,223.3 247.0,223.3 247.5,223.4 248.0,223.4 248.5,223.4 249.0,223.4 249.5,223.4 250.0,223.4 250.5,223.4 251.0,223.4 251.5,223.4 252.0,223.4 252.5,223.4 253.0,223.4 253.5,223.4 254.0,223.4 254.5,223.4 255.0,223.4 255.5,223.4 256.0,223.4 256.5,223.4 257.0,223.4 257.5,223.4 258.0,223.4 258.5,223.4 259.0,223.4 259.5,223.4 260.0,223.4 260.5,223.4 261.0,223.5 261.5,223.5 262.0,223.5 262.5,223.5 263.0,223.5 263.5,223.5 264.0,223.5 264.5,223.5 265.0,223.5 265.5,223.5 266.0,223.5 266.5,223.5 267.0,223.5 267.5,223.5 268.0,223.5 268.5,223.5 269.0,223.5 269.5,223.5 270.0,223.5 270.5,223.5 271.0,223.5 271.5,223.5 272.0,223.5 272.5,223.5 273.0,223.5 273.5,223.5 274.0,223.5 274.5,223.5 275.0,223.5 275.5,223.5 276.0,223.5 276.5,223.5 277.0,223.5 277.5,223.5 278.0,223.5 278.5,223.5 279.0,223.5 279.5,223.5 280.0,223.5 280.5,223.5 281.0,223.5 281.5,223.5 282.0,223.5 282.5,223.5 283.0,223.5 283.5,223.5 284.0,223.5 284.5,223.5 285.0,223.5 285.5,223.5 286.0,223.5 286.5,223.5 287.0,223.5 287.5,223.5 288.0,223.5 288.5,223.5 289.0,223.5 289.5,223.5 290.0,223.5 290.5,223.5 291.0,223.5 291.5,223.5 292.0,223.5 292.5,223.5 293.0,223.5 293.5,223.5 294.0,223.5 294.5,223.5 295.0,223.5 295.5,223.5 296.0,223.5 296.5,223.5 297.0,223.5 297.5,223.5 298.0,223.5 298.5,223.5 299.0,223.5 299.5,223.5 300.0,223.5 300.5,223.5 301.0,223.5 301.5,223.5 302.0,223.5 302.5,223.5 303.0,223.5 303.5,223.5 304.0,223.5 304.5,223.5 305.0,223.5 305.5,223.5 306.0,223.5 306.5,223.5 307.0,223.5 307.5,223.5 308.0,223.5 308.5,223.5 309.0,223.5 309.5,223.5 310.0,223.5 310.5,223.5 311.0,223.5 311.5,223.5 312.0,223.5 312.5,223.5 313.0,223.5 313.5,223.5 314.0,223.5 314.5,223.5 315.0,223.5 315.5,223.5 316.0,223.5 316.5,223.5 317.0,223.5 317.5,223.5 318.0,223.5 318.5,223.5 319.0,223.5 319.5,223.5 320.0,223.5 320.5,223.5 321.0,223.5 321.5,223.5 322.0,223.5 322.5,223.5 323.0,223.5 323.5,223.5 324.0,223.6 324.5,223.6 325.0,223.6 325.5,223.6" fill="none" stroke="#1f7a25" stroke-width="1.75" stroke-linejoin="round"/>
<path d="M29.5,221.0 30.0,221.0 30.5,221.0 31.0,221.0 31.5,221.0 32.0,221.0 32.5,221.0 33.0,221.0 33.5,221.0 34.0,221.0 34.5,221.0 35.0,221.0 35.5,221.0 36.0,221.0 36.5,221.0 37.0,221.0 37.5,221.0 38.0,221.0 38.5,221.0 39.0,221.0 39.5,221.0 40.0,221.0 40.5,221.0 41.0,221.0 41.5,221.0 42.0,221.0 42.5,221.0 43.0,221.0 43.5,221.0 44.0,221.0 44.5,221.0 45.0,221.0 45.5,221.0 46.0,221.0 46.5,221.0 47.0,221.0 47.5,221.0 48.0,221.0 48.5,221.0 49.0,221.0 49.5,221.0 50.0,221.0 50.5,221.0 51.0,221.0 51.5,221.0 52.0,221.0 52.5,221.0 53.0,221.0 53.5,221.0 54.0,221.0 54.5,221.0 55.0,221.0 55.5,221.0 56.0,221.0 56.5,221.0 57.0,221.0 57.5,221.0 58.0,221.0 58.5,221.0 59.0,221.0 59.5,221.0 60.0,221.0 60.5,221.0 61.0,221.0 61.5,221.0 62.0,221.0 62.5,221.0 63.0,221.0 63.5,221.0 64.0,221.0 64.5,221.0 65.0,221.0 65.5,221.0 66.0,221.0 66.5,221.0 67.0,221.0 67.5,221.0 68.0,221.0 68.5,221.0 69.0,221.0 69.5,221.0 70.0,221.0 70.5,221.0 71.0,221.0 71.5,221.0 72.0,221.0 72.5,221.0 73.0,221.0 73.5,221.0 74.0,221.0 74.5,221.0 75.0,221.0 75.5,221.0 76.0,221.0 76.5,221.0 77.0,221.0 77.5,221.0 78.0,221.0 78.5,221.0 79.0,221.0 79.5,221.0 80.0,221.0 80.5,221.0 81.0,221.0 81.5,221.0 82.0,221.0 82.5,221.0 83.0,221.0 83.5,221.0 84.0,221.0 84.5,221.0 85.0,221.0 85.5,221.0 86.0,221.0 86.5,221.0 87.0,221.0 87.5,221.0 88.0,221.0 88.5,221.0 89.0,221.0 89.5,221.0 90.0,221.0 90.5,221.0 91.0,221.0 91.5,221.0 92.0,221.0 92.5,221.0 93.0,221.0 93.5,221.0 94.0,221.0 94.5,221.0 95.0,221.0 95.5,221.0 96.0,221.0 96.5,221.0 97.0,221.0 97.5,221.0 98.0,221.0 98.5,221.0 99.0,221.0 99.5,221.0 100.0,221.0 100.5,221.0 101.0,221.0 101.5,221.0 102.0,221.0 102.5,221.0 103.0,221.0 103.5,221.0 104.0,221.0 104.5,221.0 105.0,221.0 105.5,221.0 106.0,221.0 106.5,221.0 107.0,221.0 107.5,221.0 108.0,221.0 108.5,221.0 109.0,221.0 109.5,221.0 110.0,221.0 110.5,221.0 111.0,221.0 111.5,221.0 112.0,221.0 112.5,221.0 113.0,221.0 113.5,221.0 114.0,221.0 114.5,221.0 115.0,221.0 115.5,221.0 116.0,221.0 116.5,221.0 117.0,221.0 117.5,221.0 118.0,221.0 118.5,221.0 119.0,221.0 119.5,221.0 120.0,221.0 120.5,221.0 121.0,221.0 121.5,221.0 122.0,221.0 122.5,221.0 123.0,221.0 123.5,221.0 124.0,221.0 124.5,221.0 125.0,221.0 125.5,221.0 126.0,221.0 126.5,221.0 127.0,221.0 127.5,221.0 128.0,221.0 128.5,221.0 129.0,221.0 129.5,221.0 130.0,221.0 130.5,221.0 131.0,221.0 131.5,221.0 132.0,221.0 132.5,221.0 133.0,221.0 133.5,221.0 134.0,221.0 134.5,221.0 135.0,221.0 135.5,221.0 136.0,221.0 136.5,221.0 137.0,221.0 137.5,221.0 138.0,221.0 138.5,221.0 139.0,221.0 139.5,221.0 140.0,221.0 140.5,221.0 141.0,221.0 141.5,221.0 142.0,221.0 142.5,221.0 143.0,221.0 143.5,221.0 144.0,221.0 144.5,221.0 145.0,221.0 145.5,221.0 146.0,221.0 146.5,221.0 147.0,221.0 147.5,221.0 148.0,221.0 148.5,221.0 149.0,221.0 149.5,221.0 150.0,221.0 150.5,221.0 151.0,221.1 151.5,221.1 152.0,221.1 152.5,221.1 153.0,221.1 153.5,221.1 154.0,221.1 154.5,221.1 155.0,221.1 155.5,221.1 156.0,221.1 156.5,221.1 157.0,221.1 157.5,221.1 158.0,221.1 158.5,221.1 159.0,221.1 159.5,221.1 160.0,221.1 160.5,221.1 161.0,221.1 161.5,221.1 162.0,221.1 162.5,221.1 163.0,221.1 163.5,221.1 164.0,221.1 164.5,221.1 165.0,221.1 165.5,221.1 166.0,221.1 166.5,221.1 167.0,221.1 167.5,221.1 168.0,221.1 168.5,221.1 169.0,221.1 169.5,221.1 170.0,221.1 170.5,221.1 171.0,221.1 171.5,221.1 172.0,221.1 172.5,221.1 173.0,221.1 173.5,221.1 174.0,221.1 174.5,221.0 175.0,221.0 175.5,221.0 176.0,221.0 176.5,221.0 177.0,221.0 177.5,221.0 178.0,221.0 178.5,221.0 179.0,221.0 179.5,221.0 180.0,220.9 180.5,220.9 181.0,220.9 181.5,220.9 182.0,220.9 182.5,220.9 183.0,220.8 183.5,220.8 184.0,220.8 184.5,220.8 185.0,220.8 185.5,220.7 186.0,220.7 186.5,220.7 187.0,220.7 187.5,220.6 188.0,220.6 188.5,220.6 189.0,220.6 189.5,220.5 190.0,220.5 190.5,220.5 191.0,220.4 191.5,220.4 192.0,220.3 192.5,220.3 193.0,220.3 193.5,220.2 194.0,220.2 194.5,220.1 195.0,220.1 195.5,220.0 196.0,220.0 196.5,219.9 197.0,219.9 197.5,219.8 198.0,219.8 198.5,219.7 199.0,219.7 199.5,219.6 200.0,219.5 200.5,219.5 201.0,219.4 201.5,219.3 202.0,219.3 202.5,219.2 203.0,219.1 203.5,219.1 204.0,219.0 204.5,218.9 205.0,218.8 205.5,218.8 206.0,218.7 206.5,218.6 207.0,218.5 207.5,218.5 208.0,218.4 208.5,218.3 209.0,218.2 209.5,218.1 210.0,218.0 210.5,218.0 211.0,217.9 211.5,217.8 212.0,217.7 212.5,217.6 213.0,217.5 213.5,217.4 214.0,217.3 214.5,217.3 215.0,217.2 215.5,217.1 216.0,217.0 216.5,216.9 217.0,216.8 217.5,216.7 218.0,216.6 218.5,216.6 219.0,216.5 219.5,216.4 220.0,216.3 220.5,216.2 221.0,216.1 221.5,216.0 222.0,216.0 222.5,215.9 223.0,215.8 223.5,215.7 224.0,215.7 224.5,215.6 225.0,215.5 225.5,215.4 226.0,215.4 226.5,215.3 227.0,215.2 227.5,215.2 228.0,215.1 228.5,215.0 229.0,215.0 229.5,214.9 230.0,214.9 230.5,214.8 231.0,214.8 231.5,214.7 232.0,214.7 232.5,214.6 233.0,214.6 233.5,214.6 234.0,214.5 234.5,214.5 235.0,214.5 235.5,214.5 236.0,214.4 236.5,214.4 237.0,214.4 237.5,214.4 238.0,214.4 238.5,214.4 239.0,214.4 239.5,214.4 240.0,214.4 240.5,214.4 241.0,214.4 241.5,214.4 242.0,214.4 242.5,214.5 243.0,214.5 243.5,214.5 244.0,214.5 244.5,214.6 245.0,214.6 245.5,214.6 246.0,214.7 246.5,214.7 247.0,214.8 247.5,214.8 248.0,214.9 248.5,214.9 249.0,215.0 249.5,215.1 250.0,215.1 250.5,215.2 251.0,215.3 251.5,215.3 252.0,215.4 252.5,215.5 253.0,215.6 253.5,215.6 254.0,215.7 254.5,215.8 255.0,215.9 255.5,216.0 256.0,216.1 256.5,216.2 257.0,216.2 257.5,216.3 258.0,216.4 258.5,216.5 259.0,216.6 259.5,216.7 260.0,216.8 260.5,216.9 261.0,217.0 261.5,217.1 262.0,217.2 262.5,217.3 263.0,217.5 263.5,217.6 264.0,217.7 264.5,217.8 265.0,217.9 265.5,218.0 266.0,218.1 266.5,218.2 267.0,218.3 267.5,218.4 268.0,218.5 268.5,218.6 269.0,218.7 269.5,218.8 270.0,218.9 270.5,219.0 271.0,219.1 271.5,219.2 272.0,219.3 272.5,219.4 273.0,219.5 273.5,219.6 274.0,219.7 274.5,219.8 275.0,219.9 275.5,220.0 276.0,220.1 276.5,220.2 277.0,220.3 277.5,220.4 278.0,220.5 278.5,220.6 279.0,220.7 279.5,220.7 280.0,220.8 280.5,220.9 281.0,221.0 281.5,221.1 282.0,221.1 282.5,221.2 283.0,221.3 283.5,221.4 284.0,221.4 284.5,221.5 285.0,221.6 285.5,221.6 286.0,221.7 286.5,221.8 287.0,221.8 287.5,221.9 288.0,221.9 288.5,222.0 289.0,222.1 289.5,222.1 290.0,222.2 290.5,222.2 291.0,222.3 291.5,222.3 292.0,222.4 292.5,222.4 293.0,222.5 293.5,222.5 294.0,222.5 294.5,222.6 295.0,222.6 295.5,222.7 296.0,222.7 296.5,222.7 297.0,222.8 297.5,222.8 298.0,222.8 298.5,222.9 299.0,222.9 299.5,222.9 300.0,223.0 300.5,223.0 301.0,223.0 301.5,223.0 302.0,223.1 302.5,223.1 303.0,223.1 303.5,223.1 304.0,223.2 304.5,223.2 305.0,223.2 305.5,223.2 306.0,223.2 306.5,223.3 307.0,223.3 307.5,223.3 308.0,223.3 308.5,223.3 309.0,223.3 309.5,223.3 310.0,223.4 310.5,223.4 311.0,223.4 311.5,223.4 312.0,223.4 312.5,223.4 313.0,223.4 313.5,223.4 314.0,223.4 314.5,223.4 315.0,223.5 315.5,223.5 316.0,223.5 316.5,223.5 317.0,223.5 317.5,223.5 318.0,223.5 318.5,223.5 319.0,223.5 319.5,223.5 320.0,223.5 320.5,223.5 321.0,223.5 321.5,223.5 322.0,223.5 322.5,223.5 323.0,223.5 323.5,223.5 324.0,223.6 324.5,223.6 325.0,223.6 325.5,223.6" fill="none" stroke="#3ddc3d" stroke-width="1.75" stroke-linejoin="round"/>
<path d="M29.5,220.3 30.0,220.3 30.5,220.3 31.0,220.3 31.5,220.3 32.0,220.3 32.5,220.3 33.0,220.3 33.5,220.3 34.0,220.3 34.5,220.3 35.0,220.3 35.5,220.3 36.0,220.3 36.5,220.3 37.0,220.3 37.5,220.3 38.0,220.3 38.5,220.3 39.0,220.3 39.5,220.3 40.0,220.3 40.5,220.3 41.0,220.2 41.5,220.2 42.0,220.2 42.5,220.2 43.0,220.2 43.5,220.2 44.0,220.2 44.5,220.2 45.0,220.2 45.5,220.2 46.0,220.2 46.5,220.2 47.0,220.2 47.5,220.2 48.0,220.2 48.5,220.2 49.0,220.2 49.5,220.2 50.0,220.2 50.5,220.2 51.0,220.1 51.5,220.1 52.0,220.1 52.5,220.1 53.0,220.1 53.5,220.1 54.0,220.1 54.5,220.1 55.0,220.1 55.5,220.1 56.0,220.1 56.5,220.1 57.0,220.1 57.5,220.1 58.0,220.1 58.5,220.1 59.0,220.0 59.5,220.0 60.0,220.0 60.5,220.0 61.0,220.0 61.5,220.0 62.0,220.0 62.5,220.0 63.0,220.0 63.5,220.0 64.0,220.0 64.5,220.0 65.0,220.0 65.5,219.9 66.0,219.9 66.5,219.9 67.0,219.9 67.5,219.9 68.0,219.9 68.5,219.9 69.0,219.9 69.5,219.9 70.0,219.9 70.5,219.9 71.0,219.9 71.5,219.8 72.0,219.8 72.5,219.8 73.0,219.8 73.5,219.8 74.0,219.8 74.5,219.8 75.0,219.8 75.5,219.8 76.0,219.8 76.5,219.8 77.0,219.7 77.5,219.7 78.0,219.7 78.5,219.7 79.0,219.7 79.5,219.7 80.0,219.7 80.5,219.7 81.0,219.7 81.5,219.6 82.0,219.6 82.5,219.6 83.0,219.6 83.5,219.6 84.0,219.6 84.5,219.6 85.0,219.5 85.5,219.5 86.0,219.5 86.5,219.5 87.0,219.5 87.5,219.5 88.0,219.5 88.5,219.4 89.0,219.4 89.5,219.4 90.0,219.4 90.5,219.4 91.0,219.4 91.5,219.3 92.0,219.3 92.5,219.3 93.0,219.3 93.5,219.3 94.0,219.2 94.5,219.2 95.0,219.2 95.5,219.2 96.0,219.2 96.5,219.1 97.0,219.1 97.5,219.1 98.0,219.1 98.5,219.0 99.0,219.0 99.5,219.0 100.0,219.0 100.5,218.9 101.0,218.9 101.5,218.9 102.0,218.8 102.5,218.8 103.0,218.8 103.5,218.7 104.0,218.7 104.5,218.7 105.0,218.6 105.5,218.6 106.0,218.5 106.5,218.5 107.0,218.5 107.5,218.4 108.0,218.4 108.5,218.3 109.0,218.3 109.5,218.2 110.0,218.2 110.5,218.1 111.0,218.0 111.5,218.0 112.0,217.9 112.5,217.8 113.0,217.8 113.5,217.7 114.0,217.6 114.5,217.6 115.0,217.5 115.5,217.4 116.0,217.3 116.5,217.2 117.0,217.1 117.5,217.0 118.0,216.9 118.5,216.8 119.0,216.7 119.5,216.6 120.0,216.5 120.5,216.4 121.0,216.3 121.5,216.1 122.0,216.0 122.5,215.9 123.0,215.7 123.5,215.6 124.0,215.4 124.5,215.3 125.0,215.1 125.5,215.0 126.0,214.8 126.5,214.6 127.0,214.4 127.5,214.2 128.0,214.0 128.5,213.8 129.0,213.6 129.5,213.4 130.0,213.2 130.5,212.9 131.0,212.7 131.5,212.4 132.0,212.2 132.5,211.9 133.0,211.6 133.5,211.4 134.0,211.1 134.5,210.8 135.0,210.5 135.5,210.1 136.0,209.8 136.5,209.5 137.0,209.1 137.5,208.8 138.0,208.4 138.5,208.0 139.0,207.7 139.5,207.3 140.0,206.8 140.5,206.4 141.0,206.0 141.5,205.6 142.0,205.1 142.5,204.6 143.0,204.2 143.5,203.7 144.0,203.2 144.5,202.7 145.0,202.2 145.5,201.6 146.0,201.1 146.5,200.5 147.0,200.0 147.5,199.4 148.0,198.8 148.5,198.2 149.0,197.6 149.5,197.0 150.0,196.3 150.5,195.7 151.0,195.0 151.5,194.4 152.0,193.7 152.5,193.0 153.0,192.3 153.5,191.6 154.0,190.8 154.5,190.1 155.0,189.3 155.5,188.6 156.0,187.8 156.5,187.0 157.0,186.3 157.5,185.5 158.0,184.6 158.5,183.8 159.0,183.0 159.5,182.2 160.0,181.3 160.5,180.5 161.0,179.6 161.5,178.8 162.0,177.9 162.5,177.0 163.0,176.2 163.5,175.3 164.0,174.4 164.5,173.5 165.0,172.6 165.5,171.7 166.0,170.8 166.5,169.9 167.0,169.0 167.5,168.1 168.0,167.2 168.5,166.3 169.0,165.4 169.5,164.5 170.0,163.6 170.5,162.7 171.0,161.9 171.5,161.0 172.0,160.1 172.5,159.2 173.0,158.4 173.5,157.5 174.0,156.7 174.5,155.8 175.0,155.0 175.5,154.2 176.0,153.4 176.5,152.6 177.0,151.9 177.5,151.1 178.0,150.4 178.5,149.6 179.0,148.9 179.5,148.2 180.0,147.5 180.5,146.9 181.0,146.3 181.5,145.7 182.0,145.1 182.5,144.5 183.0,144.0 183.5,143.4 184.0,142.9 184.5,142.5 185.0,142.0 185.5,141.6 186.0,141.2 186.5,140.9 187.0,140.5 187.5,140.2 188.0,140.0 188.5,139.7 189.0,139.5 189.5,139.4 190.0,139.2 190.5,139.1 191.0,139.0 191.5,139.0 192.0,139.0 192.5,139.0 193.0,139.0 193.5,139.1 194.0,139.2 194.5,139.4 195.0,139.5 195.5,139.7 196.0,140.0 196.5,140.2 197.0,140.5 197.5,140.9 198.0,141.2 198.5,141.6 199.0,142.0 199.5,142.5 200.0,143.0 200.5,143.5 201.0,144.0 201.5,144.5 202.0,145.1 202.5,145.7 203.0,146.3 203.5,147.0 204.0,147.6 204.5,148.3 205.0,149.0 205.5,149.7 206.0,150.5 206.5,151.2 207.0,152.0 207.5,152.8 208.0,153.6 208.5,154.4 209.0,155.3 209.5,156.1 210.0,156.9 210.5,157.8 211.0,158.7 211.5,159.6 212.0,160.5 212.5,161.3 213.0,162.2 213.5,163.2 214.0,164.1 214.5,165.0 215.0,165.9 215.5,166.8 216.0,167.7 216.5,168.7 217.0,169.6 217.5,170.5 218.0,171.5 218.5,172.4 219.0,173.3 219.5,174.2 220.0,175.1 220.5,176.0 221.0,177.0 221.5,177.9 222.0,178.8 222.5,179.7 223.0,180.5 223.5,181.4 224.0,182.3 224.5,183.2 225.0,184.0 225.5,184.9 226.0,185.7 226.5,186.5 227.0,187.4 227.5,188.2 228.0,189.0 228.5,189.8 229.0,190.6 229.5,191.3 230.0,192.1 230.5,192.9 231.0,193.6 231.5,194.3 232.0,195.1 232.5,195.8 233.0,196.5 233.5,197.2 234.0,197.8 234.5,198.5 235.0,199.1 235.5,199.8 236.0,200.4 236.5,201.0 237.0,201.6 237.5,202.2 238.0,202.8 238.5,203.4 239.0,203.9 239.5,204.4 240.0,205.0 240.5,205.5 241.0,206.0 241.5,206.5 242.0,207.0 242.5,207.5 243.0,207.9 243.5,208.4 244.0,208.8 244.5,209.2 245.0,209.6 245.5,210.0 246.0,210.4 246.5,210.8 247.0,211.2 247.5,211.6 248.0,211.9 248.5,212.3 249.0,212.6 249.5,212.9 250.0,213.2 250.5,213.5 251.0,213.8 251.5,214.1 252.0,214.4 252.5,214.7 253.0,214.9 253.5,215.2 254.0,215.4 254.5,215.7" fill="none" stroke="#1818bc" stroke-width="1.7" stroke-linejoin="round"/>
<path d="M29.5,221.1 30.0,221.1 30.5,221.1 31.0,221.1 31.5,221.1 32.0,221.1 32.5,221.1 33.0,221.1 33.5,221.1 34.0,221.1 34.5,221.1 35.0,221.1 35.5,221.1 36.0,221.1 36.5,221.1 37.0,221.1 37.5,221.1 38.0,221.1 38.5,221.1 39.0,221.1 39.5,221.1 40.0,221.1 40.5,221.1 41.0,221.1 41.5,221.1 42.0,221.1 42.5,221.1 43.0,221.1 43.5,221.1 44.0,221.1 44.5,221.1 45.0,221.1 45.5,221.1 46.0,221.1 46.5,221.1 47.0,221.1 47.5,221.1 48.0,221.1 48.5,221.1 49.0,221.1 49.5,221.1 50.0,221.1 50.5,221.1 51.0,221.1 51.5,221.1 52.0,221.1 52.5,221.1 53.0,221.1 53.5,221.1 54.0,221.1 54.5,221.1 55.0,221.1 55.5,221.1 56.0,221.1 56.5,221.1 57.0,221.1 57.5,221.1 58.0,221.1 58.5,221.1 59.0,221.1 59.5,221.1 60.0,221.1 60.5,221.1 61.0,221.1 61.5,221.1 62.0,221.1 62.5,221.1 63.0,221.1 63.5,221.1 64.0,221.1 64.5,221.1 65.0,221.1 65.5,221.1 66.0,221.1 66.5,221.1 67.0,221.1 67.5,221.1 68.0,221.1 68.5,221.1 69.0,221.1 69.5,221.1 70.0,221.1 70.5,221.1 71.0,221.1 71.5,221.1 72.0,221.1 72.5,221.1 73.0,221.1 73.5,221.1 74.0,221.1 74.5,221.1 75.0,221.1 75.5,221.1 76.0,221.1 76.5,221.1 77.0,221.1 77.5,221.1 78.0,221.1 78.5,221.1 79.0,221.1 79.5,221.1 80.0,221.1 80.5,221.1 81.0,221.1 81.5,221.1 82.0,221.1 82.5,221.1 83.0,221.1 83.5,221.1 84.0,221.1 84.5,221.1 85.0,221.1 85.5,221.1 86.0,221.1 86.5,221.1 87.0,221.1 87.5,221.1 88.0,221.1 88.5,221.1 89.0,221.1 89.5,221.1 90.0,221.1 90.5,221.1 91.0,221.1 91.5,221.1 92.0,221.1 92.5,221.1 93.0,221.1 93.5,221.1 94.0,221.1 94.5,221.1 95.0,221.1 95.5,221.1 96.0,221.1 96.5,221.1 97.0,221.1 97.5,221.1 98.0,221.1 98.5,221.1 99.0,221.1 99.5,221.1 100.0,221.1 100.5,221.1 101.0,221.1 101.5,221.1 102.0,221.1 102.5,221.1 103.0,221.1 103.5,221.1 104.0,221.1 104.5,221.1 105.0,221.1 105.5,221.1 106.0,221.1 106.5,221.1 107.0,221.1 107.5,221.1 108.0,221.1 108.5,221.1 109.0,221.1 109.5,221.1 110.0,221.1 110.5,221.1 111.0,221.1 111.5,221.1 112.0,221.1 112.5,221.1 113.0,221.1 113.5,221.1 114.0,221.1 114.5,221.1 115.0,221.1 115.5,221.1 116.0,221.1 116.5,221.1 117.0,221.1 117.5,221.1 118.0,221.1 118.5,221.1 119.0,221.1 119.5,221.1 120.0,221.1 120.5,221.1 121.0,221.1 121.5,221.1 122.0,221.1 122.5,221.1 123.0,221.1 123.5,221.1 124.0,221.1 124.5,221.1 125.0,221.1 125.5,221.1 126.0,221.1 126.5,221.1 127.0,221.1 127.5,221.1 128.0,221.1 128.5,221.1 129.0,221.1 129.5,221.1 130.0,221.1 130.5,221.1 131.0,221.1 131.5,221.1 132.0,221.1 132.5,221.1 133.0,221.1 133.5,221.1 134.0,221.1 134.5,221.1 135.0,221.1 135.5,221.1 136.0,221.1 136.5,221.1 137.0,221.1 137.5,221.1 138.0,221.1 138.5,221.1 139.0,221.1 139.5,221.1 140.0,221.1 140.5,221.1 141.0,221.1 141.5,221.1 142.0,221.1 142.5,221.1 143.0,221.1 143.5,221.1 144.0,221.1 144.5,221.1 145.0,221.1 145.5,221.1 146.0,221.2 146.5,221.2 147.0,221.2 147.5,221.2 148.0,221.2 148.5,221.2 149.0,221.2 149.5,221.2 150.0,221.2 150.5,221.2 151.0,221.2 151.5,221.2 152.0,221.2 152.5,221.2 153.0,221.2 153.5,221.2 154.0,221.2 154.5,221.2 155.0,221.2 155.5,221.2 156.0,221.2 156.5,221.2 157.0,221.2 157.5,221.2 158.0,221.2 158.5,221.3 159.0,221.3 159.5,221.3 160.0,221.3 160.5,221.3 161.0,221.3 161.5,221.3 162.0,221.3 162.5,221.3 163.0,221.3 163.5,221.3 164.0,221.3 164.5,221.3 165.0,221.4 165.5,221.4 166.0,221.4 166.5,221.4 167.0,221.4 167.5,221.4 168.0,221.4 168.5,221.4 169.0,221.4 169.5,221.4 170.0,221.5 170.5,221.5 171.0,221.5 171.5,221.5 172.0,221.5 172.5,221.5 173.0,221.5 173.5,221.6 174.0,221.6 174.5,221.6 175.0,221.6 175.5,221.6 176.0,221.6 176.5,221.6 177.0,221.7 177.5,221.7 178.0,221.7 178.5,221.7 179.0,221.7 179.5,221.7 180.0,221.8 180.5,221.8 181.0,221.8 181.5,221.8 182.0,221.8 182.5,221.9 183.0,221.9 183.5,221.9 184.0,221.9 184.5,222.0 185.0,222.0 185.5,222.0 186.0,222.0 186.5,222.0 187.0,222.1 187.5,222.1 188.0,222.1 188.5,222.1 189.0,222.2 189.5,222.2 190.0,222.2 190.5,222.2 191.0,222.3 191.5,222.3 192.0,222.3 192.5,222.4 193.0,222.4 193.5,222.4 194.0,222.4 194.5,222.5 195.0,222.5 195.5,222.5 196.0,222.5 196.5,222.6 197.0,222.6 197.5,222.6 198.0,222.7 198.5,222.7 199.0,222.7 199.5,222.8 200.0,222.8 200.5,222.8 201.0,222.8 201.5,222.9 202.0,222.9 202.5,222.9 203.0,223.0 203.5,223.0 204.0,223.0 204.5,223.1 205.0,223.1 205.5,223.1 206.0,223.1 206.5,223.2 207.0,223.2 207.5,223.2 208.0,223.3 208.5,223.3 209.0,223.3 209.5,223.4 210.0,223.4 210.5,223.4 211.0,223.4 211.5,223.5 212.0,223.5 212.5,223.5 213.0,223.6 213.5,223.6 214.0,223.6 214.5,223.7 215.0,223.7 215.5,223.7 216.0,223.7 216.5,223.8 217.0,223.8 217.5,223.8 218.0,223.8 218.5,223.9 219.0,223.9 219.5,223.9 220.0,223.9 220.5,224.0 221.0,224.0 221.5,224.0 222.0,224.0 222.5,224.1 223.0,224.1 223.5,224.1 224.0,224.1 224.5,224.2 225.0,224.2 225.5,224.2 226.0,224.2 226.5,224.2 227.0,224.3 227.5,224.3 228.0,224.3 228.5,224.3 229.0,224.3 229.5,224.4 230.0,224.4 230.5,224.4 231.0,224.4 231.5,224.4 232.0,224.4 232.5,224.5 233.0,224.5 233.5,224.5 234.0,224.5 234.5,224.5 235.0,224.5 235.5,224.5 236.0,224.6 236.5,224.6 237.0,224.6 237.5,224.6 238.0,224.6 238.5,224.6 239.0,224.6 239.5,224.6 240.0,224.6 240.5,224.7 241.0,224.7 241.5,224.7 242.0,224.7 242.5,224.7 243.0,224.7 243.5,224.7 244.0,224.7 244.5,224.7 245.0,224.7 245.5,224.7 246.0,224.7 246.5,224.8 247.0,224.8 247.5,224.8 248.0,224.8 248.5,224.8 249.0,224.8 249.5,224.8 250.0,224.8 250.5,224.8 251.0,224.8 251.5,224.8 252.0,224.8 252.5,224.8 253.0,224.8 253.5,224.8 254.0,224.8 254.5,224.8 255.0,224.8 255.5,224.8 256.0,224.8 256.5,224.8 257.0,224.8 257.5,224.8 258.0,224.9 258.5,224.9 259.0,224.9 259.5,224.9 260.0,224.9 260.5,224.9 261.0,224.9 261.5,224.9 262.0,224.9 262.5,224.9 263.0,224.9 263.5,224.9 264.0,224.9 264.5,224.9 265.0,224.9 265.5,224.9 266.0,224.9 266.5,224.9 267.0,224.9 267.5,224.9 268.0,224.9 268.5,224.9 269.0,224.9 269.5,224.9 270.0,224.9 270.5,224.9 271.0,224.9 271.5,224.9 272.0,224.9 272.5,224.9 273.0,224.9 273.5,224.9 274.0,224.9 274.5,224.9 275.0,224.9 275.5,224.9 276.0,224.9 276.5,224.9 277.0,224.9 277.5,224.9 278.0,224.9 278.5,224.9 279.0,224.9 279.5,224.9 280.0,224.9 280.5,224.9 281.0,224.9 281.5,224.9 282.0,224.9 282.5,224.9 283.0,224.9 283.5,224.9 284.0,224.9 284.5,224.9 285.0,224.9 285.5,224.9 286.0,224.9 286.5,224.9 287.0,224.9 287.5,224.9 288.0,224.9 288.5,224.9 289.0,224.9 289.5,224.9 290.0,224.9 290.5,224.9 291.0,224.9 291.5,224.9 292.0,224.9 292.5,224.9 293.0,224.9 293.5,224.9 294.0,224.9 294.5,224.9 295.0,224.9 295.5,224.9 296.0,224.9 296.5,224.9 297.0,224.9 297.5,224.9 298.0,224.9 298.5,224.9 299.0,224.9 299.5,224.9 300.0,224.9 300.5,224.9 301.0,224.9 301.5,224.9 302.0,224.9 302.5,224.9 303.0,224.9 303.5,224.9 304.0,224.9 304.5,224.9 305.0,224.9 305.5,224.9 306.0,224.9 306.5,224.9 307.0,224.9 307.5,224.9 308.0,224.9 308.5,224.9 309.0,224.9 309.5,224.9 310.0,224.9 310.5,224.9 311.0,224.9 311.5,224.9 312.0,224.9 312.5,224.9 313.0,224.9 313.5,224.9 314.0,224.9 314.5,224.9 315.0,224.9 315.5,224.9 316.0,224.9 316.5,224.9 317.0,224.9 317.5,224.9 318.0,224.9 318.5,224.9 319.0,224.9 319.5,224.9 320.0,224.9 320.5,224.9 321.0,224.9 321.5,224.9 322.0,224.9 322.5,224.9 323.0,224.9 323.5,224.9 324.0,224.9 324.5,224.9 325.0,224.9 325.5,224.9" fill="none" stroke="#e028e0" stroke-width="1.7" stroke-linejoin="round"/>
<path d="M29.5,220.6 30.0,220.6 30.5,220.7 31.0,220.6 31.5,220.5 32.0,220.2 32.5,220.0 33.0,219.7 33.5,219.5 34.0,219.3 34.5,219.2 35.0,219.2 35.5,219.2 36.0,219.4 36.5,219.6 37.0,219.8 37.5,220.0 38.0,220.2 38.5,220.3 39.0,220.3 39.5,220.3 40.0,220.2 40.5,220.1 41.0,220.0 41.5,220.0 42.0,220.0 42.5,220.0 43.0,220.2 43.5,220.3 44.0,220.6 44.5,220.8 45.0,221.0 45.5,221.1 46.0,221.1 46.5,221.1 47.0,221.0 47.5,220.8 48.0,220.5 48.5,220.2 49.0,220.0 49.5,219.8 50.0,219.7 50.5,219.7 51.0,219.7 51.5,219.8 52.0,219.8 52.5,219.9 53.0,220.0 53.5,220.0 54.0,219.9 54.5,219.8 55.0,219.6 55.5,219.4 56.0,219.2 56.5,219.0 57.0,219.0 57.5,219.0 58.0,219.1 58.5,219.2 59.0,219.5 59.5,219.7 60.0,220.0 60.5,220.2 61.0,220.3 61.5,220.4 62.0,220.4 62.5,220.4 63.0,220.3 63.5,220.1 64.0,220.0 64.5,219.9 65.0,219.9 65.5,220.0 66.0,220.1 66.5,220.2 67.0,220.4 67.5,220.5 68.0,220.6 68.5,220.6 69.0,220.5 69.5,220.3 70.0,220.1 70.5,219.8 71.0,219.6 71.5,219.3 72.0,219.1 72.5,218.9 73.0,218.8 73.5,218.9 74.0,218.9 74.5,219.1 75.0,219.2 75.5,219.3 76.0,219.4 76.5,219.4 77.0,219.3 77.5,219.2 78.0,219.1 78.5,219.0 79.0,218.9 79.5,218.8 80.0,218.8 80.5,218.9 81.0,219.0 81.5,219.3 82.0,219.5 82.5,219.8 83.0,220.0 83.5,220.2 84.0,220.2 84.5,220.2 85.0,220.1 85.5,220.0 86.0,219.8 86.5,219.6 87.0,219.4 87.5,219.3 88.0,219.2 88.5,219.2 89.0,219.3 89.5,219.3 90.0,219.4 90.5,219.5 91.0,219.5 91.5,219.4 92.0,219.2 92.5,219.0 93.0,218.7 93.5,218.4 94.0,218.2 94.5,217.9 95.0,217.8 95.5,217.7 96.0,217.7 96.5,217.8 97.0,218.0 97.5,218.1 98.0,218.3 98.5,218.4 99.0,218.5 99.5,218.5 100.0,218.5 100.5,218.3 101.0,218.2 101.5,218.1 102.0,217.9 102.5,217.9 103.0,217.9 103.5,218.0 104.0,218.1 104.5,218.2 105.0,218.4 105.5,218.5 106.0,218.6 106.5,218.5 107.0,218.4 107.5,218.2 108.0,217.9 108.5,217.6 109.0,217.3 109.5,217.1 110.0,216.8 110.5,216.7 111.0,216.5 111.5,216.4 112.0,216.4 112.5,216.3 113.0,216.3 113.5,216.2 114.0,216.0 114.5,215.9 115.0,215.7 115.5,215.4 116.0,215.2 116.5,215.0 117.0,214.8 117.5,214.6 118.0,214.4 118.5,214.3 119.0,214.2 119.5,214.1 120.0,214.0 120.5,213.8 121.0,213.7 121.5,213.5 122.0,213.3 122.5,213.0 123.0,212.8 123.5,212.5 124.0,212.2 124.5,212.0 125.0,211.7 125.5,211.4 126.0,211.1 126.5,210.9 127.0,210.6 127.5,210.2 128.0,209.9 128.5,209.6 129.0,209.3 129.5,208.9 130.0,208.6 130.5,208.2 131.0,207.9 131.5,207.5 132.0,207.1 132.5,206.7 133.0,206.3 133.5,205.9 134.0,205.4 134.5,205.0 135.0,204.6 135.5,204.1 136.0,203.6 136.5,203.2 137.0,202.7 137.5,202.2 138.0,201.7 138.5,201.2 139.0,200.7 139.5,200.1 140.0,199.6 140.5,199.0 141.0,198.5 141.5,197.9 142.0,197.3 142.5,196.7 143.0,196.1 143.5,195.5 144.0,194.9 144.5,194.3 145.0,193.7 145.5,193.0 146.0,192.4 146.5,191.7 147.0,191.0 147.5,190.3 148.0,189.7 148.5,189.0 149.0,188.3 149.5,187.6 150.0,186.8 150.5,186.1 151.0,185.4 151.5,184.7 152.0,183.9 152.5,183.2 153.0,182.4 153.5,181.7 154.0,180.9 154.5,180.1 155.0,179.4 155.5,178.6 156.0,177.8 156.5,177.0 157.0,176.2 157.5,175.4 158.0,174.6 158.5,173.8 159.0,173.0 159.5,172.2 160.0,171.4 160.5,170.6 161.0,169.8 161.5,169.0 162.0,168.2 162.5,167.4 163.0,166.6 163.5,165.8 164.0,164.9 164.5,164.1 165.0,163.3 165.5,162.5 166.0,161.7 166.5,160.9 167.0,160.1 167.5,159.3 168.0,158.5 168.5,157.7 169.0,156.9 169.5,156.1 170.0,155.3 170.5,154.6 171.0,153.8 171.5,153.0 172.0,152.3 172.5,151.5 173.0,150.8 173.5,150.0 174.0,149.3 174.5,148.6 175.0,147.9 175.5,147.2 176.0,146.5 176.5,145.8 177.0,145.2 177.5,144.5 178.0,143.9 178.5,143.3 179.0,142.7 179.5,142.1 180.0,141.5 180.5,141.0 181.0,140.4 181.5,139.9 182.0,139.4 182.5,139.0 183.0,138.5 183.5,138.1 184.0,137.7 184.5,137.3 185.0,136.9 185.5,136.6 186.0,136.3 186.5,136.0 187.0,135.7 187.5,135.5 188.0,135.3 188.5,135.1 189.0,135.0 189.5,134.8 190.0,134.7 190.5,134.7 191.0,134.6 191.5,134.6 192.0,134.6 192.5,134.7 193.0,134.8 193.5,134.9 194.0,135.0 194.5,135.2 195.0,135.3 195.5,135.6 196.0,135.8 196.5,136.1 197.0,136.4 197.5,136.7 198.0,137.0 198.5,137.4 199.0,137.8 199.5,138.2 200.0,138.7 200.5,139.1 201.0,139.6 201.5,140.2 202.0,140.7 202.5,141.3 203.0,141.8 203.5,142.4 204.0,143.0 204.5,143.7 205.0,144.3 205.5,145.0 206.0,145.7 206.5,146.4 207.0,147.1 207.5,147.8 208.0,148.5 208.5,149.3 209.0,150.0 209.5,150.8 210.0,151.6 210.5,152.3 211.0,153.1 211.5,153.9 212.0,154.7 212.5,155.6 213.0,156.4 213.5,157.2 214.0,158.0 214.5,158.8 215.0,159.7 215.5,160.5 216.0,161.3 216.5,162.2 217.0,163.0 217.5,163.9 218.0,164.7 218.5,165.5 219.0,166.4 219.5,167.2 220.0,168.0 220.5,168.8 221.0,169.7 221.5,170.5 222.0,171.3 222.5,172.1 223.0,172.9 223.5,173.7 224.0,174.5 224.5,175.3 225.0,176.0 225.5,176.8 226.0,177.6 226.5,178.3 227.0,179.1 227.5,179.8 228.0,180.6 228.5,181.3 229.0,182.0 229.5,182.7 230.0,183.5 230.5,184.2 231.0,184.8 231.5,185.5 232.0,186.2 232.5,186.9 233.0,187.5 233.5,188.2 234.0,188.8 234.5,189.4 235.0,190.0 235.5,190.6 236.0,191.2 236.5,191.8 237.0,192.4 237.5,193.0 238.0,193.6 238.5,194.1 239.0,194.7 239.5,195.2 240.0,195.7 240.5,196.3 241.0,196.8 241.5,197.3 242.0,197.8 242.5,198.3 243.0,198.7 243.5,199.2 244.0,199.7 244.5,200.1 245.0,200.6 245.5,201.0 246.0,201.5 246.5,201.9 247.0,202.3 247.5,202.7 248.0,203.1 248.5,203.5 249.0,203.9 249.5,204.3 250.0,204.7 250.5,205.0 251.0,205.4 251.5,205.8 252.0,206.1 252.5,206.4 253.0,206.8 253.5,207.1 254.0,207.4 254.5,207.8 255.0,208.1 255.5,208.4 256.0,208.7 256.5,209.0 257.0,209.3 257.5,209.6 258.0,209.9 258.5,210.1 259.0,210.4 259.5,210.7 260.0,211.0 260.5,211.2 261.0,211.5 261.5,211.7 262.0,212.0 262.5,212.2 263.0,212.4 263.5,212.7 264.0,212.9 264.5,213.1 265.0,213.4 265.5,213.6 266.0,213.8 266.5,214.0 267.0,214.2 267.5,214.4 268.0,214.6 268.5,214.8 269.0,215.0 269.5,215.2 270.0,215.4 270.5,215.5 271.0,215.7 271.5,215.9 272.0,216.1 272.5,216.2 273.0,216.4 273.5,216.6 274.0,216.7 274.5,216.9 275.0,217.0 275.5,217.2 276.0,217.3 276.5,217.5 277.0,217.6 277.5,217.7 278.0,217.9 278.5,218.0 279.0,218.1 279.5,218.3 280.0,218.4 280.5,218.5 281.0,218.6 281.5,218.7 282.0,218.8 282.5,219.0 283.0,219.1 283.5,219.2 284.0,219.3 284.5,219.4 285.0,219.5 285.5,219.6 286.0,219.7 286.5,219.7 287.0,219.8 287.5,219.9 288.0,220.0 288.5,220.1 289.0,220.2 289.5,220.2 290.0,220.3 290.5,220.4 291.0,220.5 291.5,220.5 292.0,220.6 292.5,220.7 293.0,220.7 293.5,220.8 294.0,220.9 294.5,220.9 295.0,221.0 295.5,221.0 296.0,221.1 296.5,221.1 297.0,221.2 297.5,221.2 298.0,221.3 298.5,221.3 299.0,221.4 299.5,221.4 300.0,221.5 300.5,221.5 301.0,221.5 301.5,221.6 302.0,221.6 302.5,221.7 303.0,221.7 303.5,221.7 304.0,221.8 304.5,221.8 305.0,221.8 305.5,221.9 306.0,221.9 306.5,221.9 307.0,221.9 307.5,222.0 308.0,222.0 308.5,222.0 309.0,222.0 309.5,222.1 310.0,222.1 310.5,222.1 311.0,222.1 311.5,222.2 312.0,222.2 312.5,222.2 313.0,222.2 313.5,222.2 314.0,222.2 314.5,222.3 315.0,222.3 315.5,222.3 316.0,222.3 316.5,222.3 317.0,222.3 317.5,222.4 318.0,222.4 318.5,222.4 319.0,222.4 319.5,222.4 320.0,222.4 320.5,222.4 321.0,222.5 321.5,222.5 322.0,222.5 322.5,222.5 323.0,222.5 323.5,222.5 324.0,222.5 324.5,222.5 325.0,222.5 325.5,222.6" fill="none" stroke="#0b621e" stroke-width="1.95" stroke-linejoin="round"/>
<rect x="29.5" y="13.1" width="296.1" height="223.6" fill="none" stroke="#000" stroke-width="1.7"/>
<line x1="29.5" y1="236.7" x2="29.5" y2="241.3" stroke="#000" stroke-width="1.5"/>
<text x="20.20" y="254.0" font-size="11.3" text-anchor="start" textLength="18.04" lengthAdjust="spacingAndGlyphs">538</text>
<line x1="54.2" y1="236.7" x2="54.2" y2="239.4" stroke="#000" stroke-width="1.5"/>
<line x1="78.8" y1="236.7" x2="78.8" y2="241.3" stroke="#000" stroke-width="1.5"/>
<text x="69.55" y="254.0" font-size="11.3" text-anchor="start" textLength="18.09" lengthAdjust="spacingAndGlyphs">536</text>
<line x1="103.5" y1="236.7" x2="103.5" y2="239.4" stroke="#000" stroke-width="1.5"/>
<line x1="128.2" y1="236.7" x2="128.2" y2="241.3" stroke="#000" stroke-width="1.5"/>
<text x="118.91" y="254.0" font-size="11.3" text-anchor="start" textLength="17.76" lengthAdjust="spacingAndGlyphs">534</text>
<line x1="152.9" y1="236.7" x2="152.9" y2="239.4" stroke="#000" stroke-width="1.5"/>
<line x1="177.6" y1="236.7" x2="177.6" y2="241.3" stroke="#000" stroke-width="1.5"/>
<text x="168.25" y="254.0" font-size="11.3" text-anchor="start" textLength="18.15" lengthAdjust="spacingAndGlyphs">532</text>
<line x1="202.2" y1="236.7" x2="202.2" y2="239.4" stroke="#000" stroke-width="1.5"/>
<line x1="226.9" y1="236.7" x2="226.9" y2="241.3" stroke="#000" stroke-width="1.5"/>
<text x="217.60" y="254.0" font-size="11.3" text-anchor="start" textLength="18.15" lengthAdjust="spacingAndGlyphs">530</text>
<line x1="251.6" y1="236.7" x2="251.6" y2="239.4" stroke="#000" stroke-width="1.5"/>
<line x1="276.2" y1="236.7" x2="276.2" y2="241.3" stroke="#000" stroke-width="1.5"/>
<text x="266.95" y="254.0" font-size="11.3" text-anchor="start" textLength="18.04" lengthAdjust="spacingAndGlyphs">528</text>
<line x1="300.9" y1="236.7" x2="300.9" y2="239.4" stroke="#000" stroke-width="1.5"/>
<line x1="325.6" y1="236.7" x2="325.6" y2="241.3" stroke="#000" stroke-width="1.5"/>
<text x="316.30" y="254.0" font-size="11.3" text-anchor="start" textLength="18.09" lengthAdjust="spacingAndGlyphs">526</text>
<path d="M374.3,216.0 375.5,208.3 377.0,202.3 378.4,217.7 379.7,230.1 381.0,204.9 382.8,222.3 384.0,208.7 385.4,216.5 387.1,209.5 388.6,219.6 389.9,220.8 391.2,217.9 392.7,203.8 394.1,217.7 395.7,198.5 397.4,214.5 398.7,205.2 400.3,206.7 401.9,204.0 403.5,219.6 405.0,207.3 406.5,226.3 408.1,232.4 409.7,232.4 411.1,194.4 412.7,224.4 413.9,215.0 415.6,218.6 417.3,218.9 418.8,232.4 420.5,207.0 422.0,226.5 423.3,197.3 424.6,214.6 426.0,224.8 427.4,222.2 429.0,203.9 430.6,214.8 432.3,210.4 433.9,205.5 435.5,219.6 436.8,214.8 438.0,219.0 439.3,205.6 441.0,207.5 442.3,213.2 443.6,203.8 445.4,201.7 446.6,210.4 448.0,209.9 449.8,207.3 451.0,214.6 452.8,211.4 454.4,212.3 456.1,204.0 457.8,211.2 459.6,204.7 461.3,211.8 462.8,198.0 464.0,211.0 465.6,204.3 467.1,220.6 468.5,196.1 469.8,203.2 471.6,196.4 473.0,192.6 474.6,188.3 476.3,195.4 478.0,186.7 479.7,197.6 481.4,188.7 482.7,190.8 484.4,184.3 486.1,193.9 487.6,182.9 488.9,191.7 490.6,180.5 492.3,183.3 493.7,177.3 495.3,181.2 497.0,174.6 498.5,192.4 500.2,175.1 501.8,183.3 503.1,182.8 504.7,186.4 506.3,177.4 507.8,173.5 509.3,179.4 510.7,183.2 512.3,173.9 513.8,185.2 515.4,174.0 516.9,192.2 518.7,176.3 520.0,192.4 521.3,174.9 522.8,177.7 524.4,181.3 526.1,189.8 527.4,176.9 529.2,187.2 530.7,168.8 532.4,184.8 533.8,174.0 535.2,178.3 536.6,176.9 538.0,165.9 539.8,162.4 541.6,160.7 543.3,158.8 544.6,175.9 545.9,149.9 547.7,144.3 548.9,148.6 550.3,169.2 552.0,158.8 553.7,163.4 555.1,141.1 556.9,146.3 558.2,148.4 559.5,147.5 560.9,138.3 562.3,142.0 563.5,133.7 564.7,130.9 566.2,113.9 567.5,121.8 569.2,101.4 570.7,72.0 572.4,72.0 574.0,71.4 575.2,69.0 576.9,57.1 578.6,46.0 580.2,38.5 581.7,19.0 583.1,19.0 584.7,26.5 586.4,32.0 587.9,36.9 589.4,31.0 590.7,31.0 592.2,67.2 593.5,78.7 595.0,92.8 596.7,107.6 598.1,122.5 599.7,136.0 601.4,150.8 603.1,161.1 604.6,173.4 606.3,180.6 608.1,188.9 609.3,191.3 610.7,198.5 612.3,189.6 613.9,198.7 615.5,202.2 617.1,205.7 618.4,207.9 619.8,208.6 621.6,207.3 623.0,215.8 624.6,210.5 625.8,213.2 627.2,214.0 628.4,218.2 630.0,215.3 631.4,219.6 632.6,216.0 634.0,209.4 635.4,215.5 637.2,218.8 639.0,215.8 640.5,218.9 641.8,213.8 643.3,220.2 645.1,213.7 646.3,220.3" fill="none" stroke="#8e8e8e" stroke-width="0.95" stroke-linejoin="round"/>
<line x1="373.5" y1="213.0" x2="647.5" y2="213.0" stroke="#d424d4" stroke-width="1.5"/>
<path d="M373.5,213.0 374.0,213.0 374.5,213.0 375.0,213.0 375.5,213.0 376.0,213.0 376.5,213.0 377.0,213.0 377.5,213.0 378.0,213.0 378.5,213.0 379.0,213.0 379.5,213.0 380.0,213.0 380.5,213.0 381.0,213.0 381.5,213.0 382.0,213.0 382.5,213.0 383.0,213.0 383.5,213.0 384.0,213.0 384.5,213.0 385.0,213.0 385.5,213.0 386.0,213.0 386.5,213.0 387.0,213.0 387.5,213.0 388.0,213.0 388.5,213.0 389.0,213.0 389.5,213.0 390.0,213.0 390.5,213.0 391.0,213.0 391.5,213.0 392.0,213.0 392.5,213.0 393.0,213.0 393.5,213.0 394.0,213.0 394.5,213.0 395.0,213.0 395.5,213.0 396.0,213.0 396.5,213.0 397.0,213.0 397.5,213.0 398.0,213.0 398.5,213.0 399.0,213.0 399.5,213.0 400.0,213.0 400.5,213.0 401.0,213.0 401.5,213.0 402.0,213.0 402.5,213.0 403.0,213.0 403.5,213.0 404.0,213.0 404.5,213.0 405.0,213.0 405.5,213.0 406.0,213.0 406.5,213.0 407.0,213.0 407.5,213.0 408.0,213.0 408.5,213.0 409.0,213.0 409.5,213.0 410.0,213.0 410.5,213.0 411.0,213.0 411.5,213.0 412.0,213.0 412.5,213.0 413.0,213.0 413.5,213.0 414.0,213.0 414.5,213.0 415.0,213.0 415.5,213.0 416.0,213.0 416.5,213.0 417.0,213.0 417.5,213.0 418.0,213.0 418.5,213.0 419.0,213.0 419.5,213.0 420.0,213.0 420.5,213.0 421.0,213.0 421.5,213.0 422.0,213.0 422.5,213.0 423.0,213.0 423.5,213.0 424.0,213.0 424.5,213.0 425.0,213.0 425.5,213.0 426.0,213.0 426.5,213.0 427.0,213.0 427.5,213.0 428.0,213.0 428.5,213.0 429.0,213.0 429.5,213.0 430.0,213.0 430.5,213.0 431.0,213.0 431.5,213.0 432.0,213.0 432.5,213.0 433.0,213.0 433.5,213.0 434.0,213.0 434.5,213.0 435.0,213.0 435.5,213.0 436.0,213.0 436.5,213.0 437.0,213.0 437.5,213.0 438.0,213.0 438.5,213.0 439.0,213.0 439.5,213.0 440.0,213.0 440.5,213.0 441.0,213.0 441.5,213.0 442.0,213.0 442.5,213.0 443.0,213.0 443.5,213.0 444.0,213.0 444.5,213.0 445.0,213.0 445.5,213.0 446.0,213.0 446.5,213.0 447.0,213.0 447.5,213.0 448.0,213.0 448.5,213.0 449.0,213.0 449.5,213.0 450.0,213.0 450.5,213.0 451.0,213.0 451.5,213.0 452.0,213.0 452.5,213.0 453.0,213.0 453.5,213.0 454.0,213.0 454.5,213.0 455.0,213.0 455.5,213.0 456.0,213.0 456.5,213.0 457.0,213.0 457.5,213.0 458.0,213.0 458.5,213.0 459.0,213.0 459.5,213.0 460.0,213.0 460.5,213.0 461.0,213.0 461.5,213.0 462.0,213.0 462.5,213.0 463.0,213.0 463.5,213.0 464.0,213.0 464.5,213.0 465.0,213.0 465.5,213.0 466.0,213.0 466.5,213.0 467.0,213.0 467.5,213.0 468.0,213.0 468.5,213.0 469.0,213.0 469.5,213.0 470.0,213.0 470.5,213.0 471.0,213.0 471.5,213.0 472.0,213.0 472.5,213.0 473.0,213.0 473.5,213.0 474.0,213.0 474.5,213.0 475.0,213.0 475.5,213.0 476.0,213.0 476.5,213.0 477.0,213.0 477.5,213.0 478.0,213.0 478.5,213.0 479.0,213.0 479.5,213.0 480.0,213.0 480.5,213.0 481.0,213.0 481.5,213.0 482.0,213.0 482.5,213.0 483.0,213.0 483.5,213.0 484.0,213.0 484.5,213.0 485.0,213.0 485.5,213.0 486.0,213.0 486.5,213.0 487.0,213.0 487.5,213.0 488.0,213.0 488.5,213.0 489.0,213.0 489.5,213.0 490.0,213.0 490.5,213.0 491.0,213.0 491.5,213.0 492.0,212.9 492.5,212.9 493.0,212.9 493.5,212.9 494.0,212.9 494.5,212.9 495.0,212.9 495.5,212.9 496.0,212.9 496.5,212.9 497.0,212.8 497.5,212.8 498.0,212.8 498.5,212.8 499.0,212.8 499.5,212.7 500.0,212.7 500.5,212.7 501.0,212.6 501.5,212.6 502.0,212.6 502.5,212.5 503.0,212.5 503.5,212.4 504.0,212.4 504.5,212.3 505.0,212.2 505.5,212.2 506.0,212.1 506.5,212.0 507.0,211.9 507.5,211.8 508.0,211.7 508.5,211.6 509.0,211.5 509.5,211.3 510.0,211.2 510.5,211.1 511.0,210.9 511.5,210.7 512.0,210.6 512.5,210.4 513.0,210.2 513.5,209.9 514.0,209.7 514.5,209.4 515.0,209.2 515.5,208.9 516.0,208.6 516.5,208.3 517.0,208.0 517.5,207.6 518.0,207.3 518.5,206.9 519.0,206.5 519.5,206.0 520.0,205.6 520.5,205.1 521.0,204.6 521.5,204.1 522.0,203.6 522.5,203.0 523.0,202.4 523.5,201.8 524.0,201.2 524.5,200.6 525.0,199.9 525.5,199.2 526.0,198.5 526.5,197.7 527.0,196.9 527.5,196.1 528.0,195.3 528.5,194.5 529.0,193.6 529.5,192.7 530.0,191.8 530.5,190.9 531.0,190.0 531.5,189.0 532.0,188.0 532.5,187.0 533.0,186.0 533.5,185.0 534.0,184.0 534.5,182.9 535.0,181.9 535.5,180.8 536.0,179.8 536.5,178.7 537.0,177.6 537.5,176.6 538.0,175.5 538.5,174.4 539.0,173.4 539.5,172.3 540.0,171.3 540.5,170.3 541.0,169.3 541.5,168.3 542.0,167.3 542.5,166.4 543.0,165.5 543.5,164.6 544.0,163.7 544.5,162.9 545.0,162.1 545.5,161.3 546.0,160.6 546.5,159.9 547.0,159.3 547.5,158.7 548.0,158.1 548.5,157.6 549.0,157.1 549.5,156.7 550.0,156.3 550.5,156.0 551.0,155.8 551.5,155.5 552.0,155.4 552.5,155.3 553.0,155.2 553.5,155.2 554.0,155.3 554.5,155.4 555.0,155.5 555.5,155.7 556.0,156.0 556.5,156.3 557.0,156.7 557.5,157.1 558.0,157.6 558.5,158.1 559.0,158.6 559.5,159.2 560.0,159.9 560.5,160.6 561.0,161.3 561.5,162.1 562.0,162.9 562.5,163.7 563.0,164.5 563.5,165.4 564.0,166.4 564.5,167.3 565.0,168.3 565.5,169.2 566.0,170.2 566.5,171.3 567.0,172.3 567.5,173.3 568.0,174.4 568.5,175.5 569.0,176.5 569.5,177.6 570.0,178.7 570.5,179.7 571.0,180.8 571.5,181.8 572.0,182.9 572.5,183.9 573.0,185.0 573.5,186.0 574.0,187.0 574.5,188.0 575.0,189.0 575.5,189.9 576.0,190.9 576.5,191.8 577.0,192.7 577.5,193.6 578.0,194.5 578.5,195.3 579.0,196.1 579.5,196.9 580.0,197.7 580.5,198.4 581.0,199.2 581.5,199.9 582.0,200.5 582.5,201.2 583.0,201.8 583.5,202.4 584.0,203.0 584.5,203.6 585.0,204.1 585.5,204.6 586.0,205.1 586.5,205.6 587.0,206.0 587.5,206.4 588.0,206.9 588.5,207.2 589.0,207.6 589.5,208.0 590.0,208.3 590.5,208.6 591.0,208.9 591.5,209.2 592.0,209.4 592.5,209.7 593.0,209.9 593.5,210.1 594.0,210.3 594.5,210.5 595.0,210.7 595.5,210.9 596.0,211.1 596.5,211.2 597.0,211.3 597.5,211.5 598.0,211.6 598.5,211.7 599.0,211.8 599.5,211.9 600.0,212.0 600.5,212.1 601.0,212.2 601.5,212.2 602.0,212.3 602.5,212.4 603.0,212.4 603.5,212.5 604.0,212.5 604.5,212.6 605.0,212.6 605.5,212.6 606.0,212.7 606.5,212.7 607.0,212.7 607.5,212.8 608.0,212.8 608.5,212.8 609.0,212.8 609.5,212.8 610.0,212.9 610.5,212.9 611.0,212.9 611.5,212.9 612.0,212.9 612.5,212.9 613.0,212.9 613.5,212.9 614.0,212.9 614.5,212.9 615.0,213.0 615.5,213.0 616.0,213.0 616.5,213.0 617.0,213.0 617.5,213.0 618.0,213.0 618.5,213.0 619.0,213.0 619.5,213.0 620.0,213.0 620.5,213.0 621.0,213.0 621.5,213.0 622.0,213.0 622.5,213.0 623.0,213.0 623.5,213.0 624.0,213.0 624.5,213.0 625.0,213.0 625.5,213.0 626.0,213.0 626.5,213.0 627.0,213.0 627.5,213.0 628.0,213.0 628.5,213.0 629.0,213.0 629.5,213.0 630.0,213.0 630.5,213.0 631.0,213.0 631.5,213.0 632.0,213.0 632.5,213.0 633.0,213.0 633.5,213.0 634.0,213.0 634.5,213.0 635.0,213.0 635.5,213.0 636.0,213.0 636.5,213.0 637.0,213.0 637.5,213.0 638.0,213.0 638.5,213.0 639.0,213.0 639.5,213.0 640.0,213.0 640.5,213.0 641.0,213.0 641.5,213.0 642.0,213.0 642.5,213.0 643.0,213.0 643.5,213.0 644.0,213.0 644.5,213.0 645.0,213.0 645.5,213.0 646.0,213.0 646.5,213.0 647.0,213.0 647.5,213.0" fill="none" stroke="#3ee43e" stroke-width="1.7" stroke-linejoin="round"/>
<path d="M373.5,212.9 374.0,212.9 374.5,212.9 375.0,212.9 375.5,212.9 376.0,212.9 376.5,212.9 377.0,212.9 377.5,212.9 378.0,212.9 378.5,212.9 379.0,212.9 379.5,212.9 380.0,212.9 380.5,212.9 381.0,212.9 381.5,212.9 382.0,212.9 382.5,212.9 383.0,212.9 383.5,212.9 384.0,212.9 384.5,212.9 385.0,212.9 385.5,212.9 386.0,212.9 386.5,212.9 387.0,212.9 387.5,212.9 388.0,212.9 388.5,212.9 389.0,212.9 389.5,212.9 390.0,212.9 390.5,212.9 391.0,212.9 391.5,212.9 392.0,212.9 392.5,212.9 393.0,212.9 393.5,212.9 394.0,212.9 394.5,212.9 395.0,212.9 395.5,212.9 396.0,212.9 396.5,212.9 397.0,212.9 397.5,212.9 398.0,212.9 398.5,212.9 399.0,212.9 399.5,212.9 400.0,212.9 400.5,212.9 401.0,212.9 401.5,212.9 402.0,212.9 402.5,212.9 403.0,212.9 403.5,212.9 404.0,212.9 404.5,212.9 405.0,212.9 405.5,212.9 406.0,212.9 406.5,212.9 407.0,212.9 407.5,212.9 408.0,212.9 408.5,212.9 409.0,212.9 409.5,212.9 410.0,212.9 410.5,212.9 411.0,212.9 411.5,212.9 412.0,212.9 412.5,212.9 413.0,212.9 413.5,212.9 414.0,212.9 414.5,212.9 415.0,212.9 415.5,212.9 416.0,212.9 416.5,212.9 417.0,212.9 417.5,212.9 418.0,212.9 418.5,212.9 419.0,212.9 419.5,212.9 420.0,212.9 420.5,212.9 421.0,212.9 421.5,212.9 422.0,212.9 422.5,212.9 423.0,212.9 423.5,212.9 424.0,212.9 424.5,212.9 425.0,212.9 425.5,212.9 426.0,212.9 426.5,212.9 427.0,212.9 427.5,212.9 428.0,212.9 428.5,212.9 429.0,212.9 429.5,212.9 430.0,212.9 430.5,212.9 431.0,212.9 431.5,212.9 432.0,212.9 432.5,212.9 433.0,212.9 433.5,212.9 434.0,212.9 434.5,212.9 435.0,212.9 435.5,212.9 436.0,212.9 436.5,212.9 437.0,212.9 437.5,212.9 438.0,212.9 438.5,212.9 439.0,212.9 439.5,212.9 440.0,212.9 440.5,212.9 441.0,212.9 441.5,212.9 442.0,212.9 442.5,212.9 443.0,212.9 443.5,212.9 444.0,212.9 444.5,212.9 445.0,212.9 445.5,212.9 446.0,212.9 446.5,212.9 447.0,212.9 447.5,212.9 448.0,212.8 448.5,212.8 449.0,212.8 449.5,212.8 450.0,212.8 450.5,212.8 451.0,212.8 451.5,212.8 452.0,212.8 452.5,212.8 453.0,212.8 453.5,212.8 454.0,212.8 454.5,212.8 455.0,212.8 455.5,212.8 456.0,212.8 456.5,212.8 457.0,212.8 457.5,212.8 458.0,212.8 458.5,212.8 459.0,212.8 459.5,212.8 460.0,212.8 460.5,212.8 461.0,212.8 461.5,212.8 462.0,212.8 462.5,212.8 463.0,212.8 463.5,212.8 464.0,212.8 464.5,212.8 465.0,212.8 465.5,212.8 466.0,212.8 466.5,212.8 467.0,212.8 467.5,212.8 468.0,212.8 468.5,212.8 469.0,212.8 469.5,212.8 470.0,212.8 470.5,212.8 471.0,212.8 471.5,212.8 472.0,212.8 472.5,212.8 473.0,212.8 473.5,212.8 474.0,212.8 474.5,212.8 475.0,212.8 475.5,212.8 476.0,212.8 476.5,212.8 477.0,212.8 477.5,212.8 478.0,212.8 478.5,212.8 479.0,212.8 479.5,212.7 480.0,212.7 480.5,212.7 481.0,212.7 481.5,212.7 482.0,212.7 482.5,212.7 483.0,212.7 483.5,212.7 484.0,212.7 484.5,212.7 485.0,212.7 485.5,212.7 486.0,212.7 486.5,212.7 487.0,212.7 487.5,212.7 488.0,212.7 488.5,212.7 489.0,212.7 489.5,212.7 490.0,212.7 490.5,212.7 491.0,212.7 491.5,212.7 492.0,212.7 492.5,212.7 493.0,212.7 493.5,212.7 494.0,212.7 494.5,212.7 495.0,212.7 495.5,212.7 496.0,212.6 496.5,212.6 497.0,212.6 497.5,212.6 498.0,212.6 498.5,212.6 499.0,212.6 499.5,212.6 500.0,212.6 500.5,212.6 501.0,212.6 501.5,212.6 502.0,212.6 502.5,212.6 503.0,212.6 503.5,212.6 504.0,212.6 504.5,212.6 505.0,212.6 505.5,212.6 506.0,212.6 506.5,212.6 507.0,212.5 507.5,212.5 508.0,212.5 508.5,212.5 509.0,212.5 509.5,212.5 510.0,212.5 510.5,212.5 511.0,212.5 511.5,212.5 512.0,212.5 512.5,212.5 513.0,212.5 513.5,212.5 514.0,212.5 514.5,212.4 515.0,212.4 515.5,212.4 516.0,212.4 516.5,212.4 517.0,212.4 517.5,212.4 518.0,212.4 518.5,212.4 519.0,212.4 519.5,212.4 520.0,212.4 520.5,212.3 521.0,212.3 521.5,212.3 522.0,212.3 522.5,212.3 523.0,212.3 523.5,212.3 524.0,212.3 524.5,212.3 525.0,212.2 525.5,212.2 526.0,212.2 526.5,212.2 527.0,212.2 527.5,212.2 528.0,212.2 528.5,212.2 529.0,212.1 529.5,212.1 530.0,212.1 530.5,212.1 531.0,212.1 531.5,212.1 532.0,212.0 532.5,212.0 533.0,212.0 533.5,212.0 534.0,212.0 534.5,211.9 535.0,211.9 535.5,211.9 536.0,211.9 536.5,211.9 537.0,211.8 537.5,211.8 538.0,211.8 538.5,211.7 539.0,211.7 539.5,211.7 540.0,211.6 540.5,211.6 541.0,211.6 541.5,211.5 542.0,211.5 542.5,211.4 543.0,211.3 543.5,211.3 544.0,211.2 544.5,211.1 545.0,211.1 545.5,211.0 546.0,210.9 546.5,210.7 547.0,210.6 547.5,210.5 548.0,210.3 548.5,210.1 549.0,210.0 549.5,209.7 550.0,209.5 550.5,209.2 551.0,209.0 551.5,208.6 552.0,208.3 552.5,207.9 553.0,207.5 553.5,207.0 554.0,206.5 554.5,205.9 555.0,205.3 555.5,204.6 556.0,203.8 556.5,203.0 557.0,202.1 557.5,201.1 558.0,200.1 558.5,198.9 559.0,197.7 559.5,196.3 560.0,194.9 560.5,193.3 561.0,191.6 561.5,189.8 562.0,187.9 562.5,185.9 563.0,183.7 563.5,181.4 564.0,178.9 564.5,176.3 565.0,173.6 565.5,170.7 566.0,167.7 566.5,164.5 567.0,161.2 567.5,157.7 568.0,154.2 568.5,150.4 569.0,146.6 569.5,142.6 570.0,138.6 570.5,134.4 571.0,130.1 571.5,125.8 572.0,121.4 572.5,116.9 573.0,112.4 573.5,107.8 574.0,103.2 574.5,98.7 575.0,94.2 575.5,89.7 576.0,85.3 576.5,80.9 577.0,76.7 577.5,72.5 578.0,68.6 578.5,64.8 579.0,61.1 579.5,57.7 580.0,54.5 580.5,51.5 581.0,48.8 581.5,46.4 582.0,44.3 582.5,42.5 583.0,41.0 583.5,39.8 584.0,38.9 584.5,38.4 585.0,38.3 585.5,38.5 586.0,39.1 586.5,39.9 587.0,41.2 587.5,42.7 588.0,44.6 588.5,46.8 589.0,49.2 589.5,52.0 590.0,55.0 590.5,58.2 591.0,61.7 591.5,65.4 592.0,69.2 592.5,73.2 593.0,77.3 593.5,81.6 594.0,86.0 594.5,90.4 595.0,94.9 595.5,99.4 596.0,104.0 596.5,108.5 597.0,113.1 597.5,117.6 598.0,122.1 598.5,126.5 599.0,130.8 599.5,135.1 600.0,139.2 600.5,143.3 601.0,147.2 601.5,151.0 602.0,154.7 602.5,158.3 603.0,161.7 603.5,165.0 604.0,168.2 604.5,171.2 605.0,174.0 605.5,176.7 606.0,179.3 606.5,181.7 607.0,184.0 607.5,186.2 608.0,188.2 608.5,190.1 609.0,191.9 609.5,193.6 610.0,195.1 610.5,196.5 611.0,197.9 611.5,199.1 612.0,200.2 612.5,201.3 613.0,202.3 613.5,203.1 614.0,204.0 614.5,204.7 615.0,205.4 615.5,206.0 616.0,206.6 616.5,207.1 617.0,207.5 617.5,208.0 618.0,208.3 618.5,208.7 619.0,209.0 619.5,209.3 620.0,209.5 620.5,209.8 621.0,210.0 621.5,210.2 622.0,210.3 622.5,210.5 623.0,210.6 623.5,210.8 624.0,210.9 624.5,211.0 625.0,211.1 625.5,211.2 626.0,211.2 626.5,211.3 627.0,211.4 627.5,211.4 628.0,211.5 628.5,211.5 629.0,211.6 629.5,211.6 630.0,211.6 630.5,211.7 631.0,211.7 631.5,211.7 632.0,211.8 632.5,211.8 633.0,211.8 633.5,211.9 634.0,211.9 634.5,211.9 635.0,211.9 635.5,212.0 636.0,212.0 636.5,212.0 637.0,212.0 637.5,212.0 638.0,212.0 638.5,212.1 639.0,212.1 639.5,212.1 640.0,212.1 640.5,212.1 641.0,212.1 641.5,212.2 642.0,212.2 642.5,212.2 643.0,212.2 643.5,212.2 644.0,212.2 644.5,212.2 645.0,212.2 645.5,212.3 646.0,212.3 646.5,212.3 647.0,212.3 647.5,212.3" fill="none" stroke="#1a1ad6" stroke-width="1.7" stroke-linejoin="round"/>
<path d="M373.5,213.0 374.0,213.0 374.5,213.0 375.0,213.0 375.5,213.0 376.0,213.0 376.5,213.0 377.0,213.0 377.5,213.0 378.0,213.0 378.5,213.0 379.0,213.0 379.5,213.0 380.0,213.0 380.5,213.0 381.0,213.0 381.5,213.0 382.0,213.0 382.5,213.0 383.0,213.0 383.5,213.0 384.0,213.0 384.5,213.0 385.0,213.0 385.5,213.0 386.0,213.0 386.5,213.0 387.0,213.0 387.5,213.0 388.0,213.0 388.5,213.0 389.0,213.0 389.5,213.0 390.0,213.0 390.5,213.0 391.0,213.0 391.5,213.0 392.0,213.0 392.5,213.0 393.0,213.0 393.5,213.0 394.0,213.0 394.5,213.0 395.0,213.0 395.5,213.0 396.0,213.0 396.5,213.0 397.0,213.0 397.5,213.0 398.0,213.0 398.5,213.0 399.0,213.0 399.5,213.0 400.0,213.0 400.5,213.0 401.0,213.0 401.5,213.0 402.0,213.0 402.5,213.0 403.0,213.0 403.5,213.0 404.0,213.0 404.5,213.0 405.0,213.0 405.5,213.0 406.0,213.0 406.5,213.0 407.0,213.0 407.5,213.0 408.0,213.0 408.5,213.0 409.0,213.0 409.5,213.0 410.0,213.0 410.5,213.0 411.0,213.0 411.5,213.0 412.0,213.0 412.5,213.0 413.0,213.0 413.5,213.0 414.0,213.0 414.5,213.0 415.0,213.0 415.5,213.0 416.0,213.0 416.5,213.0 417.0,213.0 417.5,213.0 418.0,213.0 418.5,213.0 419.0,213.0 419.5,213.0 420.0,213.0 420.5,213.0 421.0,213.0 421.5,213.0 422.0,213.0 422.5,213.0 423.0,213.0 423.5,213.0 424.0,213.0 424.5,213.0 425.0,213.0 425.5,213.0 426.0,213.0 426.5,213.0 427.0,213.0 427.5,213.0 428.0,213.0 428.5,213.0 429.0,213.0 429.5,213.0 430.0,213.0 430.5,213.0 431.0,213.0 431.5,213.0 432.0,213.0 432.5,213.0 433.0,213.0 433.5,213.0 434.0,213.0 434.5,213.0 435.0,213.0 435.5,213.0 436.0,213.0 436.5,213.0 437.0,213.0 437.5,213.0 438.0,213.0 438.5,213.0 439.0,213.0 439.5,213.0 440.0,213.0 440.5,213.0 441.0,213.0 441.5,213.0 442.0,213.0 442.5,213.0 443.0,213.0 443.5,213.0 444.0,213.0 444.5,213.0 445.0,213.0 445.5,213.0 446.0,213.0 446.5,213.0 447.0,213.0 447.5,213.0 448.0,213.0 448.5,213.0 449.0,213.0 449.5,213.0 450.0,213.0 450.5,213.0 451.0,213.0 451.5,213.0 452.0,213.0 452.5,213.0 453.0,213.0 453.5,213.0 454.0,213.0 454.5,213.0 455.0,213.0 455.5,213.0 456.0,213.0 456.5,213.0 457.0,213.0 457.5,213.0 458.0,213.0 458.5,213.0 459.0,213.0 459.5,213.0 460.0,213.0 460.5,213.0 461.0,213.0 461.5,213.0 462.0,213.0 462.5,213.0 463.0,213.0 463.5,213.0 464.0,213.0 464.5,213.0 465.0,213.0 465.5,213.0 466.0,213.0 466.5,213.0 467.0,213.0 467.5,213.0 468.0,213.0 468.5,213.0 469.0,213.0 469.5,213.0 470.0,213.0 470.5,213.0 471.0,213.0 471.5,213.0 472.0,213.0 472.5,213.0 473.0,213.0 473.5,213.0 474.0,213.0 474.5,213.0 475.0,213.0 475.5,213.0 476.0,213.0 476.5,213.0 477.0,213.0 477.5,213.0 478.0,213.0 478.5,213.0 479.0,213.0 479.5,213.0 480.0,212.9 480.5,212.9 481.0,212.9 481.5,212.9 482.0,212.9 482.5,212.9 483.0,212.9 483.5,212.9 484.0,212.9 484.5,212.9 485.0,212.9 485.5,212.9 486.0,212.9 486.5,212.9 487.0,212.9 487.5,212.9 488.0,212.9 488.5,212.9 489.0,212.9 489.5,212.9 490.0,212.9 490.5,212.9 491.0,212.9 491.5,212.9 492.0,212.9 492.5,212.9 493.0,212.9 493.5,212.9 494.0,212.9 494.5,212.9 495.0,212.9 495.5,212.9 496.0,212.8 496.5,212.8 497.0,212.8 497.5,212.8 498.0,212.8 498.5,212.8 499.0,212.7 499.5,212.7 500.0,212.7 500.5,212.6 501.0,212.5 501.5,212.5 502.0,212.4 502.5,212.3 503.0,212.2 503.5,212.0 504.0,211.8 504.5,211.6 505.0,211.4 505.5,211.2 506.0,210.9 506.5,210.5 507.0,210.1 507.5,209.7 508.0,209.2 508.5,208.7 509.0,208.2 509.5,207.6 510.0,206.9 510.5,206.2 511.0,205.5 511.5,204.8 512.0,204.1 512.5,203.3 513.0,202.6 513.5,201.9 514.0,201.2 514.5,200.5 515.0,199.9 515.5,199.3 516.0,198.9 516.5,198.5 517.0,198.2 517.5,198.0 518.0,197.9 518.5,198.0 519.0,198.1 519.5,198.3 520.0,198.7 520.5,199.1 521.0,199.6 521.5,200.2 522.0,200.8 522.5,201.5 523.0,202.2 523.5,203.0 524.0,203.7 524.5,204.5 525.0,205.2 525.5,205.9 526.0,206.6 526.5,207.3 527.0,207.9 527.5,208.5 528.0,209.0 528.5,209.5 529.0,209.9 529.5,210.3 530.0,210.7 530.5,211.0 531.0,211.3 531.5,211.5 532.0,211.8 532.5,211.9 533.0,212.1 533.5,212.2 534.0,212.3 534.5,212.4 535.0,212.5 535.5,212.6 536.0,212.6 536.5,212.7 537.0,212.7 537.5,212.7 538.0,212.8 538.5,212.8 539.0,212.8 539.5,212.8 540.0,212.8 540.5,212.9 541.0,212.9 541.5,212.9 542.0,212.9 542.5,212.9 543.0,212.9 543.5,212.9 544.0,212.9 544.5,212.9 545.0,212.9 545.5,212.9 546.0,212.9 546.5,212.9 547.0,212.9 547.5,212.9 548.0,212.9 548.5,212.9 549.0,212.9 549.5,212.9 550.0,212.9 550.5,212.9 551.0,212.9 551.5,212.9 552.0,212.9 552.5,212.9 553.0,212.9 553.5,212.9 554.0,212.9 554.5,212.9 555.0,212.9 555.5,212.9 556.0,212.9 556.5,213.0 557.0,213.0 557.5,213.0 558.0,213.0 558.5,213.0 559.0,213.0 559.5,213.0 560.0,213.0 560.5,213.0 561.0,213.0 561.5,213.0 562.0,213.0 562.5,213.0 563.0,213.0 563.5,213.0 564.0,213.0 564.5,213.0 565.0,213.0 565.5,213.0 566.0,213.0 566.5,213.0 567.0,213.0 567.5,213.0 568.0,213.0 568.5,213.0 569.0,213.0 569.5,213.0 570.0,213.0 570.5,213.0 571.0,213.0 571.5,213.0 572.0,213.0 572.5,213.0 573.0,213.0 573.5,213.0 574.0,213.0 574.5,213.0 575.0,213.0 575.5,213.0 576.0,213.0 576.5,213.0 577.0,213.0 577.5,213.0 578.0,213.0 578.5,213.0 579.0,213.0 579.5,213.0 580.0,213.0 580.5,213.0 581.0,213.0 581.5,213.0 582.0,213.0 582.5,213.0 583.0,213.0 583.5,213.0 584.0,213.0 584.5,213.0 585.0,213.0 585.5,213.0 586.0,213.0 586.5,213.0 587.0,213.0 587.5,213.0 588.0,213.0 588.5,213.0 589.0,213.0 589.5,213.0 590.0,213.0 590.5,213.0 591.0,213.0 591.5,213.0 592.0,213.0 592.5,213.0 593.0,213.0 593.5,213.0 594.0,213.0 594.5,213.0 595.0,213.0 595.5,213.0 596.0,213.0 596.5,213.0 597.0,213.0 597.5,213.0 598.0,213.0 598.5,213.0 599.0,213.0 599.5,213.0 600.0,213.0 600.5,213.0 601.0,213.0 601.5,213.0 602.0,213.0 602.5,213.0 603.0,213.0 603.5,213.0 604.0,213.0 604.5,213.0 605.0,213.0 605.5,213.0 606.0,213.0 606.5,213.0 607.0,213.0 607.5,213.0 608.0,213.0 608.5,213.0 609.0,213.0 609.5,213.0 610.0,213.0 610.5,213.0 611.0,213.0 611.5,213.0 612.0,213.0 612.5,213.0 613.0,213.0 613.5,213.0 614.0,213.0 614.5,213.0 615.0,213.0 615.5,213.0 616.0,213.0 616.5,213.0 617.0,213.0 617.5,213.0 618.0,213.0 618.5,213.0 619.0,213.0 619.5,213.0 620.0,213.0 620.5,213.0 621.0,213.0 621.5,213.0 622.0,213.0 622.5,213.0 623.0,213.0 623.5,213.0 624.0,213.0 624.5,213.0 625.0,213.0 625.5,213.0 626.0,213.0 626.5,213.0 627.0,213.0 627.5,213.0 628.0,213.0 628.5,213.0 629.0,213.0 629.5,213.0 630.0,213.0 630.5,213.0 631.0,213.0 631.5,213.0 632.0,213.0 632.5,213.0 633.0,213.0 633.5,213.0 634.0,213.0 634.5,213.0 635.0,213.0 635.5,213.0 636.0,213.0 636.5,213.0 637.0,213.0 637.5,213.0 638.0,213.0 638.5,213.0 639.0,213.0 639.5,213.0 640.0,213.0 640.5,213.0 641.0,213.0 641.5,213.0 642.0,213.0 642.5,213.0 643.0,213.0 643.5,213.0 644.0,213.0 644.5,213.0 645.0,213.0 645.5,213.0 646.0,213.0 646.5,213.0 647.0,213.0 647.5,213.0" fill="none" stroke="#cc2277" stroke-width="1.7" stroke-linejoin="round"/>
<path d="M373.5,213.0 374.0,213.0 374.5,213.0 375.0,213.0 375.5,213.0 376.0,213.0 376.5,213.0 377.0,213.0 377.5,213.0 378.0,213.0 378.5,213.0 379.0,213.0 379.5,213.0 380.0,213.0 380.5,213.0 381.0,213.0 381.5,213.0 382.0,213.0 382.5,213.0 383.0,213.0 383.5,213.0 384.0,213.0 384.5,213.0 385.0,213.0 385.5,213.0 386.0,213.0 386.5,213.0 387.0,213.0 387.5,213.0 388.0,213.0 388.5,213.0 389.0,213.0 389.5,213.0 390.0,213.0 390.5,213.0 391.0,213.0 391.5,213.0 392.0,213.0 392.5,213.0 393.0,213.0 393.5,213.0 394.0,213.0 394.5,213.0 395.0,213.0 395.5,213.0 396.0,213.0 396.5,213.0 397.0,213.0 397.5,213.0 398.0,213.0 398.5,213.0 399.0,213.0 399.5,213.0 400.0,213.0 400.5,213.0 401.0,213.0 401.5,213.0 402.0,213.0 402.5,213.0 403.0,213.0 403.5,213.0 404.0,213.0 404.5,213.0 405.0,213.0 405.5,213.0 406.0,213.0 406.5,213.0 407.0,213.0 407.5,213.0 408.0,213.0 408.5,213.0 409.0,213.0 409.5,213.0 410.0,213.0 410.5,213.0 411.0,213.0 411.5,213.0 412.0,213.0 412.5,213.0 413.0,213.0 413.5,213.0 414.0,213.0 414.5,213.0 415.0,213.0 415.5,213.0 416.0,213.0 416.5,213.0 417.0,213.0 417.5,213.0 418.0,213.0 418.5,213.0 419.0,213.0 419.5,213.0 420.0,213.0 420.5,213.0 421.0,213.0 421.5,213.0 422.0,213.0 422.5,213.0 423.0,213.0 423.5,213.0 424.0,213.0 424.5,213.0 425.0,213.0 425.5,213.0 426.0,213.0 426.5,213.0 427.0,213.0 427.5,213.0 428.0,213.0 428.5,213.0 429.0,213.0 429.5,213.0 430.0,213.0 430.5,213.0 431.0,213.0 431.5,213.0 432.0,213.0 432.5,213.0 433.0,213.0 433.5,213.0 434.0,213.0 434.5,213.0 435.0,212.9 435.5,212.9 436.0,212.9 436.5,212.9 437.0,212.9 437.5,212.9 438.0,212.9 438.5,212.9 439.0,212.9 439.5,212.9 440.0,212.8 440.5,212.8 441.0,212.8 441.5,212.8 442.0,212.8 442.5,212.8 443.0,212.7 443.5,212.7 444.0,212.7 444.5,212.7 445.0,212.6 445.5,212.6 446.0,212.6 446.5,212.5 447.0,212.5 447.5,212.4 448.0,212.4 448.5,212.3 449.0,212.3 449.5,212.2 450.0,212.1 450.5,212.1 451.0,212.0 451.5,211.9 452.0,211.8 452.5,211.7 453.0,211.6 453.5,211.5 454.0,211.4 454.5,211.3 455.0,211.2 455.5,211.0 456.0,210.9 456.5,210.8 457.0,210.6 457.5,210.4 458.0,210.3 458.5,210.1 459.0,209.9 459.5,209.7 460.0,209.5 460.5,209.3 461.0,209.0 461.5,208.8 462.0,208.5 462.5,208.3 463.0,208.0 463.5,207.7 464.0,207.4 464.5,207.1 465.0,206.8 465.5,206.5 466.0,206.1 466.5,205.8 467.0,205.4 467.5,205.0 468.0,204.6 468.5,204.2 469.0,203.8 469.5,203.4 470.0,202.9 470.5,202.5 471.0,202.0 471.5,201.6 472.0,201.1 472.5,200.6 473.0,200.1 473.5,199.6 474.0,199.1 474.5,198.6 475.0,198.0 475.5,197.5 476.0,197.0 476.5,196.4 477.0,195.9 477.5,195.3 478.0,194.8 478.5,194.3 479.0,193.7 479.5,193.2 480.0,192.6 480.5,192.1 481.0,191.5 481.5,191.0 482.0,190.5 482.5,190.0 483.0,189.5 483.5,189.0 484.0,188.5 484.5,188.0 485.0,187.5 485.5,187.1 486.0,186.7 486.5,186.2 487.0,185.8 487.5,185.5 488.0,185.1 488.5,184.8 489.0,184.4 489.5,184.1 490.0,183.9 490.5,183.6 491.0,183.4 491.5,183.2 492.0,183.0 492.5,182.8 493.0,182.7 493.5,182.6 494.0,182.5 494.5,182.4 495.0,182.4 495.5,182.4 496.0,182.4 496.5,182.5 497.0,182.6 497.5,182.7 498.0,182.8 498.5,182.9 499.0,183.1 499.5,183.3 500.0,183.6 500.5,183.8 501.0,184.1 501.5,184.4 502.0,184.7 502.5,185.0 503.0,185.4 503.5,185.8 504.0,186.2 504.5,186.6 505.0,187.0 505.5,187.5 506.0,187.9 506.5,188.4 507.0,188.9 507.5,189.4 508.0,189.9 508.5,190.4 509.0,190.9 509.5,191.4 510.0,192.0 510.5,192.5 511.0,193.1 511.5,193.6 512.0,194.1 512.5,194.7 513.0,195.2 513.5,195.8 514.0,196.3 514.5,196.9 515.0,197.4 515.5,197.9 516.0,198.5 516.5,199.0 517.0,199.5 517.5,200.0 518.0,200.5 518.5,201.0 519.0,201.5 519.5,201.9 520.0,202.4 520.5,202.8 521.0,203.3 521.5,203.7 522.0,204.1 522.5,204.5 523.0,204.9 523.5,205.3 524.0,205.7 524.5,206.0 525.0,206.4 525.5,206.7 526.0,207.0 526.5,207.4 527.0,207.7 527.5,207.9 528.0,208.2 528.5,208.5 529.0,208.7 529.5,209.0 530.0,209.2 530.5,209.4 531.0,209.7 531.5,209.9 532.0,210.0 532.5,210.2 533.0,210.4 533.5,210.6 534.0,210.7 534.5,210.9 535.0,211.0 535.5,211.1 536.0,211.3 536.5,211.4 537.0,211.5 537.5,211.6 538.0,211.7 538.5,211.8 539.0,211.9 539.5,212.0 540.0,212.0 540.5,212.1 541.0,212.2 541.5,212.2 542.0,212.3 542.5,212.4 543.0,212.4 543.5,212.5 544.0,212.5 544.5,212.5 545.0,212.6 545.5,212.6 546.0,212.6 546.5,212.7 547.0,212.7 547.5,212.7 548.0,212.8 548.5,212.8 549.0,212.8 549.5,212.8 550.0,212.8 550.5,212.8 551.0,212.9 551.5,212.9 552.0,212.9 552.5,212.9 553.0,212.9 553.5,212.9 554.0,212.9 554.5,212.9 555.0,212.9 555.5,212.9 556.0,212.9 556.5,213.0 557.0,213.0 557.5,213.0 558.0,213.0 558.5,213.0 559.0,213.0 559.5,213.0 560.0,213.0 560.5,213.0 561.0,213.0 561.5,213.0 562.0,213.0 562.5,213.0 563.0,213.0 563.5,213.0 564.0,213.0 564.5,213.0 565.0,213.0 565.5,213.0 566.0,213.0 566.5,213.0 567.0,213.0 567.5,213.0 568.0,213.0 568.5,213.0 569.0,213.0 569.5,213.0 570.0,213.0 570.5,213.0 571.0,213.0 571.5,213.0 572.0,213.0 572.5,213.0 573.0,213.0 573.5,213.0 574.0,213.0 574.5,213.0 575.0,213.0 575.5,213.0 576.0,213.0 576.5,213.0 577.0,213.0 577.5,213.0 578.0,213.0 578.5,213.0 579.0,213.0 579.5,213.0 580.0,213.0 580.5,213.0 581.0,213.0 581.5,213.0 582.0,213.0 582.5,213.0 583.0,213.0 583.5,213.0 584.0,213.0 584.5,213.0 585.0,213.0 585.5,213.0 586.0,213.0 586.5,213.0 587.0,213.0 587.5,213.0 588.0,213.0 588.5,213.0 589.0,213.0 589.5,213.0 590.0,213.0 590.5,213.0 591.0,213.0 591.5,213.0 592.0,213.0 592.5,213.0 593.0,213.0 593.5,213.0 594.0,213.0 594.5,213.0 595.0,213.0 595.5,213.0 596.0,213.0 596.5,213.0 597.0,213.0 597.5,213.0 598.0,213.0 598.5,213.0 599.0,213.0 599.5,213.0 600.0,213.0 600.5,213.0 601.0,213.0 601.5,213.0 602.0,213.0 602.5,213.0 603.0,213.0 603.5,213.0 604.0,213.0 604.5,213.0 605.0,213.0 605.5,213.0 606.0,213.0 606.5,213.0 607.0,213.0 607.5,213.0 608.0,213.0 608.5,213.0 609.0,213.0 609.5,213.0 610.0,213.0 610.5,213.0 611.0,213.0 611.5,213.0 612.0,213.0 612.5,213.0 613.0,213.0 613.5,213.0 614.0,213.0 614.5,213.0 615.0,213.0 615.5,213.0 616.0,213.0 616.5,213.0 617.0,213.0 617.5,213.0 618.0,213.0 618.5,213.0 619.0,213.0 619.5,213.0 620.0,213.0 620.5,213.0 621.0,213.0 621.5,213.0 622.0,213.0 622.5,213.0 623.0,213.0 623.5,213.0 624.0,213.0 624.5,213.0 625.0,213.0 625.5,213.0 626.0,213.0 626.5,213.0 627.0,213.0 627.5,213.0 628.0,213.0 628.5,213.0 629.0,213.0 629.5,213.0 630.0,213.0 630.5,213.0 631.0,213.0 631.5,213.0 632.0,213.0 632.5,213.0 633.0,213.0 633.5,213.0 634.0,213.0 634.5,213.0 635.0,213.0 635.5,213.0 636.0,213.0 636.5,213.0 637.0,213.0 637.5,213.0 638.0,213.0 638.5,213.0 639.0,213.0 639.5,213.0 640.0,213.0 640.5,213.0 641.0,213.0 641.5,213.0 642.0,213.0 642.5,213.0 643.0,213.0 643.5,213.0 644.0,213.0 644.5,213.0 645.0,213.0 645.5,213.0 646.0,213.0 646.5,213.0 647.0,213.0 647.5,213.0" fill="none" stroke="#7c1c9c" stroke-width="1.7" stroke-linejoin="round"/>
<path d="M373.5,212.9 374.0,212.9 374.5,212.9 375.0,212.9 375.5,212.9 376.0,212.9 376.5,212.9 377.0,212.9 377.5,212.9 378.0,212.9 378.5,212.9 379.0,212.9 379.5,212.9 380.0,212.9 380.5,212.9 381.0,212.9 381.5,212.9 382.0,212.9 382.5,212.9 383.0,212.9 383.5,212.9 384.0,212.9 384.5,212.9 385.0,212.9 385.5,212.9 386.0,212.9 386.5,212.9 387.0,212.9 387.5,212.9 388.0,212.9 388.5,212.9 389.0,212.9 389.5,212.9 390.0,212.9 390.5,212.9 391.0,212.9 391.5,212.9 392.0,212.9 392.5,212.9 393.0,212.9 393.5,212.9 394.0,212.9 394.5,212.9 395.0,212.9 395.5,212.9 396.0,212.9 396.5,212.9 397.0,212.9 397.5,212.9 398.0,212.9 398.5,212.9 399.0,212.9 399.5,212.9 400.0,212.9 400.5,212.9 401.0,212.9 401.5,212.9 402.0,212.9 402.5,212.9 403.0,212.9 403.5,212.9 404.0,212.9 404.5,212.9 405.0,212.9 405.5,212.9 406.0,212.9 406.5,212.9 407.0,212.9 407.5,212.9 408.0,212.9 408.5,212.9 409.0,212.9 409.5,212.9 410.0,212.9 410.5,212.9 411.0,212.9 411.5,212.9 412.0,212.9 412.5,212.9 413.0,212.9 413.5,212.9 414.0,212.9 414.5,212.9 415.0,212.9 415.5,212.9 416.0,212.9 416.5,212.9 417.0,212.9 417.5,212.9 418.0,212.9 418.5,212.9 419.0,212.9 419.5,212.9 420.0,212.9 420.5,212.9 421.0,212.9 421.5,212.9 422.0,212.9 422.5,212.9 423.0,212.9 423.5,212.9 424.0,212.9 424.5,212.9 425.0,212.9 425.5,212.9 426.0,212.9 426.5,212.9 427.0,212.9 427.5,212.9 428.0,212.9 428.5,212.9 429.0,212.9 429.5,212.9 430.0,212.9 430.5,212.9 431.0,212.8 431.5,212.8 432.0,212.8 432.5,212.8 433.0,212.8 433.5,212.8 434.0,212.8 434.5,212.8 435.0,212.8 435.5,212.8 436.0,212.8 436.5,212.8 437.0,212.8 437.5,212.8 438.0,212.8 438.5,212.7 439.0,212.7 439.5,212.7 440.0,212.7 440.5,212.7 441.0,212.7 441.5,212.6 442.0,212.6 442.5,212.6 443.0,212.6 443.5,212.6 444.0,212.5 444.5,212.5 445.0,212.5 445.5,212.4 446.0,212.4 446.5,212.3 447.0,212.3 447.5,212.3 448.0,212.2 448.5,212.2 449.0,212.1 449.5,212.0 450.0,212.0 450.5,211.9 451.0,211.8 451.5,211.7 452.0,211.6 452.5,211.6 453.0,211.5 453.5,211.3 454.0,211.2 454.5,211.1 455.0,211.0 455.5,210.9 456.0,210.7 456.5,210.6 457.0,210.4 457.5,210.2 458.0,210.1 458.5,209.9 459.0,209.7 459.5,209.5 460.0,209.3 460.5,209.1 461.0,208.8 461.5,208.6 462.0,208.3 462.5,208.1 463.0,207.8 463.5,207.5 464.0,207.2 464.5,206.9 465.0,206.6 465.5,206.2 466.0,205.9 466.5,205.5 467.0,205.2 467.5,204.8 468.0,204.4 468.5,204.0 469.0,203.6 469.5,203.1 470.0,202.7 470.5,202.2 471.0,201.8 471.5,201.3 472.0,200.8 472.5,200.3 473.0,199.8 473.5,199.3 474.0,198.8 474.5,198.3 475.0,197.8 475.5,197.2 476.0,196.6 476.5,195.9 477.0,194.7 477.5,192.6 478.0,189.1 478.5,184.6 479.0,180.1 479.5,177.4 480.0,177.8 480.5,180.7 481.0,184.3 481.5,187.2 482.0,188.7 482.5,189.2 483.0,189.0 483.5,188.6 484.0,188.1 484.5,187.7 485.0,187.2 485.5,186.7 486.0,186.3 486.5,185.9 487.0,185.5 487.5,185.1 488.0,184.7 488.5,184.4 489.0,184.0 489.5,183.7 490.0,183.4 490.5,183.2 491.0,182.9 491.5,182.7 492.0,182.5 492.5,182.3 493.0,182.2 493.5,182.0 494.0,181.9 494.5,181.9 495.0,181.8 495.5,181.8 496.0,181.8 496.5,181.8 497.0,181.9 497.5,181.9 498.0,182.0 498.5,182.1 499.0,182.2 499.5,182.4 500.0,182.5 500.5,182.7 501.0,182.9 501.5,183.1 502.0,183.2 502.5,183.4 503.0,183.6 503.5,183.8 504.0,184.0 504.5,184.1 505.0,184.2 505.5,184.3 506.0,184.4 506.5,184.5 507.0,184.5 507.5,184.4 508.0,184.4 508.5,184.2 509.0,184.1 509.5,183.9 510.0,183.6 510.5,183.3 511.0,183.0 511.5,182.6 512.0,182.3 512.5,181.8 513.0,181.4 513.5,181.0 514.0,180.6 514.5,180.3 515.0,179.9 515.5,179.6 516.0,179.4 516.5,179.2 517.0,179.1 517.5,179.0 518.0,179.1 518.5,179.2 519.0,179.4 519.5,179.7 520.0,180.0 520.5,180.4 521.0,180.9 521.5,181.3 522.0,181.9 522.5,182.4 523.0,182.9 523.5,183.4 524.0,183.9 524.5,184.3 525.0,184.7 525.5,185.0 526.0,185.3 526.5,185.5 527.0,185.7 527.5,185.7 528.0,185.7 528.5,185.6 529.0,185.4 529.5,185.2 530.0,184.9 530.5,184.5 531.0,184.0 531.5,183.5 532.0,182.9 532.5,182.2 533.0,181.5 533.5,180.8 534.0,180.0 534.5,179.2 535.0,178.3 535.5,177.5 536.0,176.6 536.5,175.6 537.0,174.7 537.5,173.7 538.0,172.8 538.5,171.8 539.0,170.8 539.5,169.8 540.0,168.8 540.5,167.9 541.0,166.9 541.5,165.9 542.0,165.0 542.5,164.0 543.0,163.1 543.5,162.2 544.0,161.3 544.5,160.5 545.0,159.6 545.5,158.8 546.0,158.0 546.5,157.2 547.0,156.5 547.5,155.8 548.0,155.1 548.5,154.4 549.0,153.8 549.5,153.2 550.0,152.6 550.5,152.0 551.0,151.5 551.5,151.0 552.0,150.5 552.5,150.0 553.0,149.5 553.5,149.1 554.0,148.6 554.5,148.2 555.0,147.7 555.5,147.2 556.0,146.7 556.5,146.2 557.0,145.7 557.5,145.2 558.0,144.6 558.5,143.9 559.0,143.2 559.5,142.5 560.0,141.7 560.5,140.8 561.0,139.9 561.5,138.8 562.0,137.7 562.5,136.5 563.0,135.2 563.5,133.8 564.0,132.2 564.5,130.6 565.0,128.8 565.5,126.9 566.0,124.9 566.5,122.7 567.0,120.5 567.5,118.1 568.0,115.5 568.5,112.9 569.0,110.1 569.5,107.2 570.0,104.2 570.5,101.1 571.0,97.9 571.5,94.6 572.0,91.2 572.5,87.8 573.0,84.3 573.5,80.8 574.0,77.2 574.5,73.7 575.0,70.1 575.5,66.6 576.0,63.1 576.5,59.7 577.0,56.3 577.5,53.1 578.0,50.0 578.5,47.0 579.0,44.2 579.5,41.6 580.0,39.2 580.5,36.9 581.0,35.0 581.5,33.2 582.0,31.8 582.5,30.6 583.0,29.7 583.5,29.2 584.0,28.9 584.5,29.0 585.0,29.4 585.5,30.1 586.0,31.1 586.5,32.5 587.0,34.2 587.5,36.2 588.0,38.4 588.5,41.0 589.0,43.8 589.5,46.9 590.0,50.3 590.5,53.8 591.0,57.6 591.5,61.5 592.0,65.6 592.5,69.9 593.0,74.2 593.5,78.7 594.0,83.3 594.5,87.9 595.0,92.6 595.5,97.3 596.0,102.0 596.5,106.7 597.0,111.4 597.5,116.1 598.0,120.6 598.5,125.2 599.0,129.6 599.5,134.0 600.0,138.2 600.5,142.4 601.0,146.4 601.5,150.3 602.0,154.0 602.5,157.7 603.0,161.1 603.5,164.5 604.0,167.7 604.5,170.7 605.0,173.6 605.5,176.4 606.0,179.0 606.5,181.4 607.0,183.8 607.5,186.0 608.0,188.0 608.5,189.9 609.0,191.7 609.5,193.4 610.0,195.0 610.5,196.4 611.0,197.8 611.5,199.0 612.0,200.1 612.5,201.2 613.0,202.2 613.5,203.1 614.0,203.9 614.5,204.6 615.0,205.3 615.5,205.9 616.0,206.5 616.5,207.0 617.0,207.5 617.5,207.9 618.0,208.3 618.5,208.7 619.0,209.0 619.5,209.3 620.0,209.5 620.5,209.8 621.0,210.0 621.5,210.2 622.0,210.3 622.5,210.5 623.0,210.6 623.5,210.7 624.0,210.9 624.5,211.0 625.0,211.1 625.5,211.1 626.0,211.2 626.5,211.3 627.0,211.4 627.5,211.4 628.0,211.5 628.5,211.5 629.0,211.6 629.5,211.6 630.0,211.6 630.5,211.7 631.0,211.7 631.5,211.7 632.0,211.8 632.5,211.8 633.0,211.8 633.5,211.9 634.0,211.9 634.5,211.9 635.0,211.9 635.5,211.9 636.0,212.0 636.5,212.0 637.0,212.0 637.5,212.0 638.0,212.0 638.5,212.1 639.0,212.1 639.5,212.1 640.0,212.1 640.5,212.1 641.0,212.1 641.5,212.2 642.0,212.2 642.5,212.2 643.0,212.2 643.5,212.2 644.0,212.2 644.5,212.2 645.0,212.2 645.5,212.3 646.0,212.3 646.5,212.3 647.0,212.3 647.5,212.3" fill="none" stroke="#d41a1a" stroke-width="1.9" stroke-linejoin="round"/>
<rect x="373.5" y="16.4" width="274.0" height="218.4" fill="none" stroke="#000" stroke-width="1.7"/>
<line x1="373.5" y1="234.8" x2="373.5" y2="239.2" stroke="#000" stroke-width="1.5"/>
<text x="364.15" y="250.2" font-size="11.1" text-anchor="start" textLength="17.81" lengthAdjust="spacingAndGlyphs">294</text>
<line x1="396.3" y1="234.8" x2="396.3" y2="237.3" stroke="#000" stroke-width="1.5"/>
<line x1="419.2" y1="234.8" x2="419.2" y2="239.2" stroke="#000" stroke-width="1.5"/>
<text x="409.81" y="250.2" font-size="11.1" text-anchor="start" textLength="18.21" lengthAdjust="spacingAndGlyphs">292</text>
<line x1="442.0" y1="234.8" x2="442.0" y2="237.3" stroke="#000" stroke-width="1.5"/>
<line x1="464.8" y1="234.8" x2="464.8" y2="239.2" stroke="#000" stroke-width="1.5"/>
<text x="455.48" y="250.2" font-size="11.1" text-anchor="start" textLength="18.21" lengthAdjust="spacingAndGlyphs">290</text>
<line x1="487.7" y1="234.8" x2="487.7" y2="237.3" stroke="#000" stroke-width="1.5"/>
<line x1="510.5" y1="234.8" x2="510.5" y2="239.2" stroke="#000" stroke-width="1.5"/>
<text x="501.15" y="250.2" font-size="11.1" text-anchor="start" textLength="18.09" lengthAdjust="spacingAndGlyphs">288</text>
<line x1="533.3" y1="234.8" x2="533.3" y2="237.3" stroke="#000" stroke-width="1.5"/>
<line x1="556.2" y1="234.8" x2="556.2" y2="239.2" stroke="#000" stroke-width="1.5"/>
<text x="546.81" y="250.2" font-size="11.1" text-anchor="start" textLength="18.15" lengthAdjust="spacingAndGlyphs">286</text>
<line x1="579.0" y1="234.8" x2="579.0" y2="237.3" stroke="#000" stroke-width="1.5"/>
<line x1="601.8" y1="234.8" x2="601.8" y2="239.2" stroke="#000" stroke-width="1.5"/>
<text x="592.48" y="250.2" font-size="11.1" text-anchor="start" textLength="17.81" lengthAdjust="spacingAndGlyphs">284</text>
<line x1="624.7" y1="234.8" x2="624.7" y2="237.3" stroke="#000" stroke-width="1.5"/>
<line x1="647.5" y1="234.8" x2="647.5" y2="239.2" stroke="#000" stroke-width="1.5"/>
<text x="638.14" y="250.2" font-size="11.1" text-anchor="start" textLength="18.21" lengthAdjust="spacingAndGlyphs">282</text>
<line x1="192.0" y1="52.5" x2="224.1" y2="44.6" stroke="#000" stroke-width="1.3"/><path d="M229.0,43.4 L223.9,47.6 L224.3,44.5 L222.5,42.0 Z" fill="#000"/>
<line x1="193.6" y1="104.5" x2="193.6" y2="83.1" stroke="#000" stroke-width="1.4"/><path d="M193.6,78.6 L196.2,84.1 L193.6,82.9 L191.0,84.1 Z" fill="#000"/>
<line x1="213.0" y1="103.5" x2="243.5" y2="89.3" stroke="#000" stroke-width="1.3"/><path d="M248.0,87.2 L243.8,92.4 L243.6,89.2 L241.3,87.1 Z" fill="#000"/>
<line x1="159.0" y1="109.7" x2="127.2" y2="99.2" stroke="#000" stroke-width="1.3"/><path d="M122.5,97.6 L129.1,96.7 L127.1,99.1 L127.3,102.2 Z" fill="#000"/>
<line x1="208.4" y1="151.2" x2="235.6" y2="139.0" stroke="#000" stroke-width="1.3"/><path d="M240.2,137.0 L235.9,142.1 L235.8,139.0 L233.5,136.8 Z" fill="#000"/>
<line x1="151.8" y1="209.7" x2="122.2" y2="199.9" stroke="#000" stroke-width="1.3"/><path d="M117.5,198.3 L124.1,197.4 L122.1,199.8 L122.3,202.9 Z" fill="#000"/>
<line x1="238.1" y1="213.4" x2="268.9" y2="200.3" stroke="#000" stroke-width="1.3"/><path d="M273.5,198.3 L269.1,203.3 L269.1,200.2 L266.8,198.0 Z" fill="#000"/>
<text x="-0.26" y="14.8" font-size="20.5" text-anchor="start" textLength="4.76" lengthAdjust="spacingAndGlyphs" style="stroke-width:0.9px">(</text>
<text x="6.50" y="15.9" font-size="18.0" text-anchor="start" textLength="8.29" lengthAdjust="spacingAndGlyphs" style="stroke-width:0.9px">a</text>
<text x="18.19" y="14.8" font-size="20.5" text-anchor="start" textLength="3.69" lengthAdjust="spacingAndGlyphs" style="stroke-width:0.9px">)</text>
<text x="338.21" y="15.5" font-size="19.7" text-anchor="start" textLength="4.28" lengthAdjust="spacingAndGlyphs" style="stroke-width:0.9px">(</text>
<text x="345.81" y="15.8" font-size="20.1" text-anchor="start" textLength="10.28" lengthAdjust="spacingAndGlyphs" style="stroke-width:0.8px">b</text>
<text x="357.49" y="15.5" font-size="19.7" text-anchor="start" textLength="3.69" lengthAdjust="spacingAndGlyphs" style="stroke-width:0.9px">)</text>
<text x="31.43" y="25.2" font-size="11.3" text-anchor="start" textLength="93.15" lengthAdjust="spacingAndGlyphs">(1) Ni-OH, Fe-OH</text>
<text x="31.43" y="36.8" font-size="11.3" text-anchor="start" textLength="100.38" lengthAdjust="spacingAndGlyphs">(2) Lattice oxygen</text>
<text x="31.44" y="51.3" font-size="11.3" text-anchor="start" textLength="110.38" lengthAdjust="spacingAndGlyphs">(3) Oxygen vacancy</text>
<text x="31.43" y="67.2" font-size="11.3" text-anchor="start" textLength="129.34" lengthAdjust="spacingAndGlyphs">(4) Chemisorbed water</text>
<text x="291.72" y="26.1" font-size="13.2" text-anchor="start" textLength="24.07" lengthAdjust="spacingAndGlyphs">O1s</text>
<text x="248.13" y="60.3" font-size="12.6" text-anchor="start" textLength="68.35" lengthAdjust="spacingAndGlyphs">CNNG3LDH</text>
<text x="230.47" y="41.1" font-size="11.5" text-anchor="start" textLength="29.32" lengthAdjust="spacingAndGlyphs">531.5</text>
<text x="184.48" y="46.5" font-size="11.0" text-anchor="start" textLength="14.97" lengthAdjust="spacingAndGlyphs">O1</text>
<text x="177.57" y="76.1" font-size="11.5" text-anchor="start" textLength="29.44" lengthAdjust="spacingAndGlyphs">531.6</text>
<text x="174.25" y="91.4" font-size="11.0" text-anchor="start" textLength="15.93" lengthAdjust="spacingAndGlyphs">O3</text>
<text x="199.75" y="95.1" font-size="11.0" text-anchor="start" textLength="16.00" lengthAdjust="spacingAndGlyphs">O2</text>
<text x="157.49" y="107.2" font-size="11.0" text-anchor="start" textLength="14.63" lengthAdjust="spacingAndGlyphs">O4</text>
<text x="92.47" y="98.2" font-size="11.5" text-anchor="start" textLength="29.59" lengthAdjust="spacingAndGlyphs">532.8</text>
<text x="248.97" y="86.5" font-size="11.5" text-anchor="start" textLength="29.22" lengthAdjust="spacingAndGlyphs">530.5</text>
<text x="31.23" y="134.9" font-size="11.3" text-anchor="start" textLength="94.17" lengthAdjust="spacingAndGlyphs">(1) Ni-OH, Fe-OH</text>
<text x="31.23" y="148.8" font-size="11.3" text-anchor="start" textLength="101.08" lengthAdjust="spacingAndGlyphs">(2) Lattice oxygen</text>
<text x="31.23" y="162.3" font-size="11.3" text-anchor="start" textLength="128.43" lengthAdjust="spacingAndGlyphs">(3) Chemisorbed water</text>
<text x="242.58" y="140.6" font-size="11.5" text-anchor="start" textLength="28.68" lengthAdjust="spacingAndGlyphs">531.4</text>
<text x="183.84" y="156.2" font-size="11.0" text-anchor="start" textLength="16.12" lengthAdjust="spacingAndGlyphs">O1</text>
<text x="274.65" y="165.5" font-size="12.0" text-anchor="start" textLength="41.86" lengthAdjust="spacingAndGlyphs">CNLDH</text>
<text x="156.25" y="202.5" font-size="11.0" text-anchor="start" textLength="15.72" lengthAdjust="spacingAndGlyphs">O3</text>
<text x="85.37" y="197.0" font-size="11.5" text-anchor="start" textLength="29.28" lengthAdjust="spacingAndGlyphs">532.8</text>
<text x="216.14" y="209.3" font-size="11.0" text-anchor="start" textLength="16.32" lengthAdjust="spacingAndGlyphs">O2</text>
<text x="276.36" y="195.6" font-size="11.5" text-anchor="start" textLength="30.14" lengthAdjust="spacingAndGlyphs">529.5</text>
<text x="126.58" y="265.7" font-size="12.8" text-anchor="start" textLength="122.38" lengthAdjust="spacingAndGlyphs">Binding energy (eV)</text>
<text x="-177.98" y="12.7" font-size="13.0" text-anchor="start" textLength="94.63" lengthAdjust="spacingAndGlyphs" transform="rotate(-90)">Intensity (a.u.)</text>
<text x="376.13" y="27.7" font-size="11.0" text-anchor="start" textLength="38.77" lengthAdjust="spacingAndGlyphs">(1) C-C</text>
<text x="376.14" y="41.7" font-size="11.0" text-anchor="start" textLength="47.50" lengthAdjust="spacingAndGlyphs">(2) C-OH</text>
<text x="376.13" y="55.8" font-size="11.0" text-anchor="start" textLength="79.67" lengthAdjust="spacingAndGlyphs">(3) C-O-C/C=N</text>
<text x="376.14" y="69.8" font-size="11.0" text-anchor="start" textLength="54.96" lengthAdjust="spacingAndGlyphs">(4) O-C=O</text>
<text x="617.85" y="29.1" font-size="12.2" text-anchor="start" textLength="25.23" lengthAdjust="spacingAndGlyphs">C 1s</text>
<text x="526.15" y="32.2" font-size="11.5" text-anchor="start" textLength="51.25" lengthAdjust="spacingAndGlyphs">C1, 284.9</text>
<text x="506.34" y="134.6" font-size="11.5" text-anchor="start" textLength="52.23" lengthAdjust="spacingAndGlyphs">C2, 286.0</text>
<text x="485.25" y="153.3" font-size="11.5" text-anchor="start" textLength="51.76" lengthAdjust="spacingAndGlyphs">C3, 287.6</text>
<text x="448.95" y="170.7" font-size="11.5" text-anchor="start" textLength="51.36" lengthAdjust="spacingAndGlyphs">C4, 288.9</text>
<text x="448.89" y="263.2" font-size="12.2" text-anchor="start" textLength="120.66" lengthAdjust="spacingAndGlyphs">Binding energy (eV)</text>
<text x="-173.20" y="354.8" font-size="11.8" text-anchor="start" textLength="85.89" lengthAdjust="spacingAndGlyphs" transform="rotate(-90)">Intensity (a.u.)</text>
</svg>
</body></html>
